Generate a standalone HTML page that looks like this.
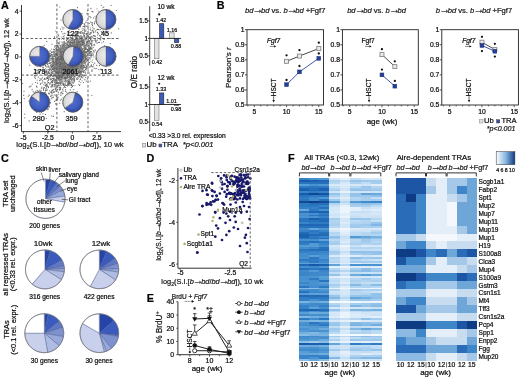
<!DOCTYPE html><html><head><meta charset="utf-8"><style>html,body{margin:0;padding:0;background:#fff;}svg{display:block;will-change:transform;}text{font-family:"Liberation Sans",sans-serif;stroke:#1a1a1a;stroke-width:0.22px;}</style></head><body>
<svg width="520" height="377" viewBox="0 0 520 377">
<rect width="520" height="377" fill="#fff"/>
<text x="0.90" y="8.60" font-size="10.8" font-weight="bold" fill="#000">A</text>
<path d="M69.6 67.9h0M62.7 65.7h0M67.4 61.9h0M72.2 58.0h0M67.6 56.2h0M47.0 69.3h0M67.2 83.1h0M68.0 53.4h0M80.8 54.0h0M58.1 65.8h0M66.5 62.0h0M79.9 63.6h0M72.8 69.5h0M74.6 78.9h0M81.8 77.0h0M66.1 74.3h0M53.7 69.1h0M59.4 58.4h0M62.6 71.6h0M66.5 54.1h0M68.1 59.3h0M72.9 60.2h0M66.2 57.2h0M68.2 77.1h0M62.7 45.8h0M71.1 55.4h0M74.7 61.2h0M62.9 62.9h0M66.1 69.7h0M78.9 41.9h0M56.9 63.4h0M68.5 68.5h0M66.1 60.5h0M73.3 61.5h0M69.2 59.9h0M76.5 57.0h0M68.4 48.6h0M74.5 64.3h0M64.4 69.2h0M76.3 57.2h0M67.4 55.6h0M73.1 49.9h0M67.9 61.1h0M90.8 27.9h0M64.6 54.9h0M63.7 48.4h0M63.3 66.2h0M74.2 54.9h0M50.2 55.8h0M69.7 65.7h0M63.5 48.7h0M82.7 61.6h0M58.3 42.6h0M55.5 100.1h0M61.7 61.1h0M52.6 95.1h0M73.9 63.8h0M63.0 63.0h0M86.7 56.5h0M60.7 83.9h0M61.1 67.5h0M67.2 65.3h0M68.2 54.6h0M60.4 55.8h0M52.8 80.4h0M63.5 63.8h0M64.7 52.3h0M56.5 49.1h0M58.6 65.1h0M61.2 58.7h0M74.1 50.3h0M74.7 44.1h0M77.7 57.7h0M86.1 67.5h0M34.5 110.6h0M66.1 70.1h0M78.5 60.8h0M61.4 65.7h0M71.5 71.2h0M75.2 57.7h0M65.1 55.4h0M53.1 97.7h0M90.5 52.8h0M65.8 59.1h0M61.0 58.5h0M80.9 37.1h0M72.5 61.8h0M72.1 61.9h0M73.7 56.3h0M75.4 71.3h0M65.6 64.5h0M73.6 55.0h0M60.7 55.3h0M58.8 78.3h0M68.1 50.3h0M69.1 50.1h0M47.4 56.0h0M69.6 62.6h0M81.3 52.5h0M62.6 59.6h0M73.8 66.9h0M74.4 50.1h0M72.4 53.1h0M77.7 48.8h0M64.7 65.9h0M73.4 54.5h0M68.8 62.5h0M71.9 64.4h0M68.8 51.7h0M47.0 72.8h0M57.2 58.2h0M72.5 56.7h0M88.2 48.3h0M59.3 68.9h0M64.1 57.0h0M77.8 68.4h0M53.4 49.4h0M57.5 63.3h0M78.9 56.9h0M67.8 60.7h0M74.1 67.1h0M66.4 66.5h0M73.8 51.3h0M87.4 51.8h0M69.3 46.9h0M69.8 50.2h0M79.2 47.0h0M71.2 63.6h0M75.3 73.4h0M57.6 51.3h0M73.3 65.9h0M76.1 50.4h0M67.2 66.8h0M84.0 54.1h0M71.0 53.6h0M65.2 64.5h0M79.0 32.7h0M60.5 53.4h0M84.9 47.4h0M65.1 67.2h0M51.6 49.1h0M62.4 60.9h0M68.7 65.1h0M86.2 61.9h0M67.2 64.5h0M76.1 56.7h0M74.7 61.7h0M69.3 46.0h0M67.1 70.3h0M69.8 62.7h0M73.4 53.3h0M52.9 63.3h0M73.0 64.1h0M63.3 70.4h0M72.2 54.1h0M65.1 64.8h0M71.6 47.8h0M73.7 57.0h0M61.4 64.0h0M67.9 60.5h0M65.8 65.7h0M74.9 47.4h0M70.8 60.9h0M66.2 72.8h0M64.9 47.4h0M88.2 66.1h0M66.7 54.8h0M65.6 64.7h0M77.0 59.2h0M71.4 55.7h0M71.2 52.5h0M73.3 46.1h0M61.3 59.8h0M70.6 64.5h0M89.8 54.9h0M76.9 53.8h0M70.2 54.4h0M69.2 57.9h0M63.0 48.2h0M58.3 67.4h0M49.7 63.4h0M72.4 51.9h0M61.9 52.5h0M70.4 72.1h0M81.4 63.2h0M72.5 56.9h0M72.9 54.1h0M54.8 50.9h0M69.6 51.4h0M69.9 73.5h0M73.6 63.3h0M69.1 49.0h0M61.3 92.8h0M69.4 57.6h0M51.3 69.2h0M68.0 51.1h0M57.0 46.3h0M58.1 64.7h0M69.4 64.5h0M78.2 69.0h0M80.1 47.1h0M72.4 57.7h0M59.0 67.8h0M81.2 60.2h0M73.5 68.9h0M67.4 70.7h0M81.1 44.9h0M66.7 64.8h0M79.8 54.8h0M65.9 64.0h0M55.0 74.9h0M74.1 51.0h0M54.0 64.0h0M65.7 55.8h0M65.5 45.3h0M77.1 61.1h0M69.0 64.3h0M54.5 52.9h0M56.7 68.3h0M69.7 54.5h0M59.2 67.7h0M66.6 71.2h0M60.3 60.1h0M81.9 45.6h0M77.8 61.1h0M77.6 58.2h0M65.5 70.0h0M67.3 62.4h0M69.7 80.4h0M92.5 60.0h0M77.0 41.9h0M58.5 45.9h0M71.7 73.3h0M73.2 48.2h0M56.7 76.0h0M75.6 66.0h0M73.2 56.2h0M82.8 60.7h0M59.8 68.8h0M71.8 45.9h0M55.5 68.0h0M75.6 50.2h0M63.1 54.4h0M66.6 59.5h0M43.2 68.9h0M62.1 59.9h0M75.0 53.7h0M78.6 56.1h0M74.1 53.3h0M69.7 66.0h0M88.0 56.7h0M64.1 54.1h0M81.8 44.5h0M71.4 71.3h0M73.4 46.4h0M71.0 55.7h0M68.2 66.3h0M69.4 58.1h0M70.6 55.4h0M75.7 60.6h0M62.1 55.5h0M74.8 57.9h0M64.3 57.7h0M61.2 78.8h0M83.4 66.0h0M61.9 77.0h0M70.7 68.4h0M69.8 55.3h0M87.3 53.5h0M70.9 59.8h0M78.8 53.6h0M70.4 56.0h0M44.1 73.3h0M75.3 56.6h0M72.3 67.5h0M74.5 65.9h0M74.4 80.3h0M66.8 49.0h0M62.0 78.6h0M60.0 57.1h0M70.0 54.7h0M79.2 47.1h0M68.0 54.5h0M72.4 74.8h0M71.4 53.2h0M60.3 57.6h0M62.5 51.5h0M85.2 51.9h0M77.1 62.5h0M57.5 51.2h0M65.2 57.5h0M62.2 52.8h0M61.0 76.8h0M73.7 59.8h0M72.4 68.9h0M62.1 49.7h0M79.6 62.6h0M76.2 62.4h0M60.0 61.7h0M60.1 61.1h0M65.3 60.8h0M61.7 47.5h0M51.0 58.3h0M55.1 60.6h0M55.4 80.3h0M66.1 63.5h0M55.7 73.3h0M52.5 65.5h0M65.7 80.6h0M57.6 62.5h0M73.5 52.9h0M74.2 65.6h0M61.8 78.3h0M59.8 71.4h0M59.5 63.2h0M86.4 68.7h0M74.4 68.0h0M68.8 49.1h0M69.3 66.3h0M69.8 60.9h0M75.0 62.3h0M58.1 84.9h0M73.5 43.4h0M67.5 34.3h0M65.3 49.5h0M99.7 22.7h0M73.4 58.3h0M64.4 54.8h0M70.9 45.0h0M77.8 33.0h0M69.0 49.4h0M73.5 60.7h0M77.1 54.3h0M61.2 71.5h0M48.5 79.8h0M64.5 81.6h0M57.5 61.8h0M73.2 83.6h0M58.8 76.2h0M59.3 55.8h0M70.7 49.5h0M58.2 71.0h0M64.8 70.7h0M63.7 67.2h0M84.6 36.7h0M71.6 65.8h0M54.9 62.4h0M55.7 54.1h0M74.9 55.4h0M88.2 59.2h0M57.1 65.1h0M55.5 64.6h0M63.4 63.8h0M67.3 67.4h0M50.2 62.4h0M66.9 61.3h0M68.5 61.4h0M64.4 68.0h0M63.4 60.6h0M70.2 59.5h0M73.4 53.8h0M78.6 49.4h0M64.8 57.6h0M67.9 59.6h0M54.2 61.0h0M74.7 71.1h0M67.7 50.7h0M70.0 70.7h0M62.4 62.3h0M57.7 61.2h0M62.9 52.3h0M65.5 49.9h0M64.3 77.7h0M66.0 54.5h0M75.2 64.3h0M62.1 45.3h0M70.4 52.2h0M56.3 69.5h0M55.1 49.6h0M55.6 67.3h0M72.6 46.1h0M64.0 62.4h0M81.0 61.6h0M60.5 67.0h0M79.8 59.6h0M67.8 61.3h0M84.9 37.7h0M70.6 61.3h0M72.2 60.4h0M51.2 75.7h0M75.9 41.8h0M61.1 63.3h0M74.7 50.4h0M36.0 76.0h0M72.6 54.7h0M71.0 43.8h0M62.9 59.7h0M66.3 57.7h0M72.7 61.4h0M74.8 60.3h0M67.1 61.3h0M84.1 46.2h0M77.8 58.8h0M71.0 76.0h0M64.5 61.0h0M84.7 45.9h0M85.3 58.2h0M68.2 64.9h0M67.0 53.1h0M91.2 53.2h0M69.9 47.5h0M65.3 66.4h0M81.1 43.5h0M78.6 73.0h0M79.8 47.8h0M78.0 63.9h0M88.9 57.7h0M74.1 56.0h0M64.8 65.9h0M65.9 60.2h0M69.1 40.6h0M88.2 37.2h0M68.5 53.5h0M66.5 52.9h0M69.8 71.1h0M60.8 69.6h0M73.9 71.3h0M60.9 71.6h0M73.3 62.1h0M80.0 68.3h0M81.2 54.8h0M81.3 45.6h0M59.3 70.1h0M67.9 47.0h0M81.1 53.7h0M71.5 62.9h0M86.8 52.5h0M56.6 67.4h0M62.3 42.8h0M62.0 80.3h0M56.8 99.0h0M74.7 63.7h0M62.5 46.4h0M76.6 66.6h0M66.6 62.3h0M67.9 61.4h0M70.1 56.9h0M63.3 59.6h0M71.9 48.2h0M72.6 68.7h0M46.0 74.7h0M75.2 65.0h0M73.1 59.7h0M73.4 66.4h0M72.5 60.6h0M69.2 46.5h0M57.4 71.0h0M71.7 65.1h0M61.9 68.9h0M80.7 46.5h0M60.7 66.0h0M78.5 47.3h0M83.9 50.4h0M76.2 55.1h0M65.9 58.2h0M75.1 46.7h0M70.1 41.4h0M85.3 56.4h0M63.6 52.1h0M74.0 49.5h0M62.2 46.2h0M68.0 70.5h0M63.3 57.3h0M62.0 65.2h0M62.9 46.4h0M67.1 65.3h0M82.0 55.0h0M86.4 51.5h0M72.5 55.9h0M79.3 46.4h0M61.4 58.7h0M59.5 59.0h0M68.5 69.4h0M68.2 77.4h0M79.5 44.4h0M77.4 57.1h0M65.4 64.6h0M58.0 62.2h0M76.3 49.5h0M66.5 74.9h0M68.3 59.9h0M69.7 43.4h0M62.2 69.2h0M61.3 64.5h0M82.5 59.6h0M75.9 55.4h0M67.4 44.6h0M79.0 48.3h0M62.4 57.3h0M61.9 63.7h0M49.6 70.2h0M62.9 61.6h0M73.7 43.5h0M70.4 44.4h0M45.6 73.7h0M71.4 53.9h0M64.1 57.9h0M72.9 43.6h0M76.4 60.6h0M75.5 49.9h0M78.9 57.0h0M68.6 63.1h0M66.3 53.2h0M75.2 61.3h0M78.7 51.1h0M81.5 59.6h0M79.0 70.2h0M52.4 93.1h0M71.5 72.7h0M64.3 66.4h0M81.6 57.5h0M70.1 48.7h0M77.4 65.9h0M70.7 53.8h0M58.3 72.1h0M58.7 60.2h0M68.9 63.6h0M70.2 48.8h0M61.2 66.6h0M70.5 62.4h0M73.6 62.5h0M68.4 55.7h0M88.8 38.8h0M59.5 85.2h0M69.9 48.4h0M70.9 58.3h0M75.3 61.7h0M80.6 48.7h0M69.4 44.0h0M65.1 72.7h0M91.8 30.7h0M87.7 41.5h0M74.2 55.8h0M65.9 58.7h0M57.6 51.8h0M87.8 51.1h0M60.1 61.9h0M61.8 58.3h0M73.0 52.2h0M55.8 56.0h0M71.1 61.6h0M68.0 65.7h0M89.8 51.0h0M76.6 65.0h0M71.4 52.2h0M71.2 53.2h0M71.7 75.3h0M52.1 89.7h0M73.3 65.8h0M74.9 55.9h0M61.0 57.7h0M72.3 68.2h0M72.0 60.1h0M77.5 47.6h0M50.2 53.5h0M78.2 56.8h0M78.5 61.9h0M62.9 60.3h0M63.4 56.3h0M66.5 53.6h0M55.9 73.9h0M62.9 68.7h0M74.4 68.6h0M64.5 59.1h0M70.8 56.6h0M63.5 72.0h0M75.7 68.2h0M67.3 67.7h0M75.6 60.2h0M62.2 64.5h0M78.5 53.0h0M82.8 37.6h0M58.3 58.9h0M46.6 77.7h0M62.2 60.6h0M69.0 58.0h0M60.6 59.0h0M61.4 60.9h0M65.2 72.6h0M68.7 64.2h0M69.4 49.4h0M68.2 53.8h0M63.4 66.2h0M63.4 65.0h0M81.5 52.8h0M76.8 55.8h0M59.7 81.4h0M57.2 55.3h0M77.1 48.1h0M66.4 52.6h0M81.7 39.3h0M67.3 58.1h0M69.8 60.8h0M72.5 42.8h0M67.5 56.3h0M49.2 51.0h0M65.6 61.6h0M63.0 59.4h0M59.4 80.4h0M70.6 59.5h0M68.2 54.4h0M75.8 69.4h0M88.8 52.7h0M74.4 53.8h0M44.5 93.4h0M90.3 57.9h0M62.7 70.8h0M68.3 48.7h0M66.7 61.1h0M69.2 70.1h0M68.8 67.8h0M62.1 63.8h0M58.1 83.8h0M81.0 58.8h0M75.1 66.5h0M72.0 56.2h0M61.3 61.3h0M60.9 69.9h0M61.8 65.5h0M64.5 67.3h0M75.0 63.5h0M86.3 38.4h0M65.0 70.8h0M71.9 60.2h0M73.9 71.3h0M65.9 61.6h0M46.4 72.2h0M63.4 52.8h0M58.7 76.3h0M70.2 61.0h0M77.4 68.3h0M68.0 66.3h0M67.6 48.3h0M53.7 51.0h0M94.5 40.1h0M76.0 56.7h0M67.3 72.8h0M76.4 54.7h0M61.5 62.9h0M62.6 63.7h0M88.8 36.2h0M72.5 55.4h0M62.9 57.1h0M76.0 58.6h0M67.8 50.7h0M73.3 72.2h0M52.2 58.6h0M57.8 43.5h0M71.3 58.5h0M55.2 60.5h0M77.3 49.3h0M72.4 56.6h0M62.0 69.1h0M71.7 52.0h0M72.0 60.1h0M82.1 41.6h0M64.5 52.8h0M71.8 53.3h0M55.8 66.6h0M73.3 48.3h0M73.6 63.6h0M82.2 80.7h0M78.8 72.9h0M83.4 56.1h0M83.8 65.3h0M59.2 48.5h0M65.8 33.7h0M81.7 44.8h0M66.1 58.3h0M65.7 59.5h0M70.2 58.0h0M62.3 50.5h0M65.0 65.1h0M75.8 74.4h0M66.3 64.1h0M80.8 61.4h0M61.5 55.3h0M69.0 46.4h0M75.1 60.7h0M77.1 53.2h0M62.2 64.9h0M58.2 59.1h0M68.3 46.9h0M68.8 68.3h0M97.8 56.6h0M50.8 66.4h0M61.2 62.6h0M71.0 55.8h0M58.8 61.0h0M80.7 66.4h0M62.7 57.4h0M57.0 63.8h0M58.9 62.1h0M59.2 76.5h0M65.8 65.5h0M75.6 45.3h0M57.4 71.6h0M86.0 56.8h0M68.8 57.6h0M64.3 46.2h0M75.1 59.7h0M69.2 76.6h0M67.5 63.5h0M77.1 48.8h0M49.5 90.7h0M62.0 59.6h0M75.2 63.8h0M69.0 61.6h0M66.4 61.6h0M63.4 57.6h0M80.9 67.8h0M53.0 62.6h0M62.4 78.8h0M69.2 62.5h0M70.3 72.9h0M60.2 84.6h0M98.4 59.1h0M61.9 59.8h0M64.8 54.5h0M43.5 95.7h0M59.3 66.1h0M69.4 49.6h0M72.6 47.5h0M59.9 50.9h0M72.7 62.0h0M86.0 47.9h0M79.9 51.9h0M78.3 56.3h0M85.8 39.0h0M73.8 64.4h0M70.8 46.5h0M68.4 62.7h0M73.8 34.5h0M72.5 59.3h0M68.3 70.5h0M55.6 71.6h0M71.3 49.2h0M73.2 68.6h0M62.5 64.3h0M62.8 77.0h0M65.4 72.0h0M70.3 55.2h0M89.0 57.6h0M71.5 67.6h0M70.2 54.2h0M66.7 72.4h0M70.7 47.1h0M80.0 52.0h0M67.0 53.7h0M61.6 65.1h0M86.6 59.2h0M68.9 62.2h0M63.4 61.4h0M63.2 62.0h0M63.8 65.3h0M66.1 62.5h0M80.7 76.8h0M71.1 56.1h0M66.4 60.1h0M62.1 73.7h0M65.2 54.9h0M65.8 62.7h0M65.2 50.2h0M76.9 52.7h0M65.1 60.6h0M67.6 74.5h0M87.7 61.1h0M69.2 40.3h0M74.7 58.7h0M62.5 69.1h0M66.1 65.6h0M63.6 66.7h0M68.3 65.7h0M82.3 66.2h0M57.0 77.9h0M60.9 61.7h0M70.4 61.3h0M79.1 54.8h0M44.5 78.8h0M70.8 75.8h0M67.5 68.7h0M81.3 68.9h0M70.1 64.3h0M83.6 40.5h0M60.5 53.5h0M42.8 75.5h0M62.5 57.3h0M84.2 35.9h0M77.6 77.2h0M65.8 54.2h0M77.2 62.2h0M74.4 44.4h0M89.3 45.2h0M42.4 80.4h0M68.1 61.4h0M67.7 50.8h0M65.7 67.4h0M69.5 77.6h0M70.9 62.7h0M81.2 56.8h0M67.1 55.4h0M72.4 52.3h0M52.1 80.9h0M69.3 53.8h0M62.6 74.9h0M69.9 63.4h0M67.7 50.3h0M85.3 25.5h0M65.7 82.3h0M57.9 54.2h0M71.4 53.0h0M66.7 61.3h0M60.3 53.7h0M65.9 54.9h0M58.0 56.1h0M70.1 64.2h0M71.1 51.9h0M70.2 62.3h0M75.5 61.7h0M75.2 57.9h0M68.7 81.6h0M86.6 61.3h0M69.1 42.6h0M85.3 54.7h0M48.4 80.3h0M68.2 81.2h0M75.4 68.6h0M72.6 78.8h0M72.3 60.4h0M60.2 53.0h0M67.2 56.7h0M63.3 56.2h0M65.5 53.8h0M71.7 46.4h0M52.1 59.0h0M69.8 62.8h0M67.7 71.1h0M70.4 37.3h0M55.6 61.0h0M52.5 61.3h0M58.2 57.3h0M71.6 61.2h0M66.7 54.2h0M66.2 51.3h0M67.0 53.2h0M64.6 60.9h0M80.1 50.1h0M68.3 58.0h0M78.6 64.6h0M72.4 69.6h0M65.7 64.6h0M63.1 67.4h0M54.9 65.5h0M66.4 72.0h0M59.2 43.0h0M72.8 54.9h0M65.8 67.5h0M68.2 66.9h0M61.2 55.4h0M80.6 63.0h0M58.1 54.9h0M62.7 61.3h0M70.1 62.0h0M72.8 58.5h0M76.6 39.3h0M67.4 56.2h0M60.3 65.8h0M64.7 73.6h0M62.3 46.8h0M75.7 52.0h0M66.5 62.3h0M50.3 68.2h0M63.5 60.8h0M70.1 51.7h0M65.0 61.9h0M65.8 67.3h0M90.3 51.8h0M55.7 62.4h0M107.2 32.8h0M50.9 62.7h0M71.4 60.1h0M75.8 47.6h0M68.5 54.5h0M68.0 49.2h0M55.0 66.2h0M77.9 53.4h0M68.4 63.0h0M67.9 43.1h0M80.7 57.0h0M62.6 65.2h0M52.2 54.4h0M66.7 73.5h0M30.5 86.5h0M62.3 67.3h0M65.3 47.9h0M54.0 58.0h0M64.5 73.0h0M72.7 66.0h0M77.7 47.7h0M75.2 64.6h0M63.7 52.2h0M68.2 50.5h0M51.7 75.5h0M57.3 72.6h0M49.2 56.0h0M58.7 52.8h0M70.6 62.4h0M51.9 67.0h0M71.7 58.2h0M69.6 64.5h0M38.1 103.8h0M65.7 56.7h0M72.9 74.6h0M62.7 59.6h0M85.4 63.3h0M52.3 66.4h0M67.0 74.3h0M71.5 61.2h0M70.6 73.0h0M65.5 55.4h0M66.0 63.1h0M65.5 54.8h0M65.1 56.3h0M75.8 63.0h0M54.1 67.7h0M53.9 59.7h0M75.9 53.3h0M63.1 72.8h0M78.2 57.4h0M76.1 63.9h0M78.9 51.7h0M72.4 49.3h0M81.3 62.9h0M76.6 22.8h0M72.6 49.9h0M84.7 61.0h0M62.9 73.1h0M66.0 67.2h0M61.5 59.9h0M74.5 51.3h0M81.9 44.3h0M77.5 62.7h0M56.5 52.0h0M69.6 54.6h0M52.0 67.1h0M70.9 60.8h0M77.6 43.9h0M74.1 50.8h0M50.1 83.5h0M76.1 49.7h0M72.1 67.3h0M67.3 59.9h0M83.9 60.1h0M62.6 63.2h0M57.5 67.8h0M75.0 57.5h0M53.0 68.5h0M73.8 60.9h0M81.7 72.7h0M84.6 48.0h0M74.0 54.5h0M77.2 43.9h0M66.1 63.4h0M71.5 54.7h0M69.9 49.0h0M63.2 58.7h0M65.8 78.9h0M61.6 53.9h0M55.0 58.9h0M98.3 56.2h0M63.1 81.2h0M79.7 66.0h0M55.5 59.8h0M73.8 62.2h0M72.6 56.7h0M68.3 63.5h0M72.8 49.1h0M61.2 57.6h0M66.9 64.1h0M81.7 63.2h0M79.9 67.5h0M70.1 39.6h0M71.4 59.1h0M63.6 57.3h0M76.5 51.2h0M71.4 55.5h0M63.6 65.7h0M65.5 66.0h0M73.6 57.6h0M56.6 63.0h0M61.9 50.0h0M66.7 61.6h0M58.2 61.6h0M61.5 48.5h0M65.8 55.5h0M58.8 59.8h0M78.9 62.2h0M63.0 61.1h0M60.0 81.6h0M64.2 57.7h0M55.8 64.2h0M69.6 54.3h0M62.8 59.9h0M75.5 45.6h0M74.3 71.2h0M65.6 61.2h0M68.7 50.8h0M81.3 53.4h0M68.7 74.8h0M66.6 57.4h0M68.8 69.6h0M63.4 59.7h0M51.9 87.2h0M65.5 61.3h0M62.5 61.0h0M79.2 43.2h0M63.4 71.1h0M76.7 56.1h0M70.3 57.4h0M66.1 57.2h0M75.7 54.5h0M67.5 55.4h0M63.2 54.6h0M62.1 63.7h0M57.6 55.3h0M87.9 64.3h0M65.9 53.7h0M84.8 58.7h0M81.9 61.0h0M71.0 39.1h0M65.8 45.5h0M69.9 67.9h0M69.1 64.0h0M67.5 52.5h0M69.7 54.1h0M73.4 74.0h0M70.3 35.0h0M88.4 41.5h0M68.5 54.3h0M71.8 62.1h0M80.2 48.6h0M74.2 56.5h0M46.6 96.9h0M68.4 49.2h0M52.0 71.5h0M63.6 59.8h0M63.0 97.7h0M71.0 56.0h0M65.1 73.4h0M75.2 61.8h0M65.9 57.1h0M61.0 70.7h0M97.0 8.8h0M45.9 83.7h0M70.4 54.2h0M66.2 71.5h0M74.4 65.1h0M67.2 63.5h0M68.4 81.9h0M76.0 65.7h0M51.8 66.6h0M85.9 47.1h0M73.0 72.9h0M73.4 61.2h0M62.2 61.9h0M71.9 61.3h0M72.9 68.3h0M52.5 84.8h0M78.9 62.6h0M68.1 67.9h0M71.4 72.1h0M88.1 53.9h0M92.9 30.3h0M50.9 63.7h0M66.0 68.4h0M57.3 65.5h0M72.8 49.5h0M68.1 58.5h0M63.6 69.0h0M72.5 49.0h0M76.6 43.0h0M71.0 67.7h0M65.4 55.3h0M63.6 64.7h0M68.2 54.0h0M72.8 60.8h0M71.3 61.2h0M86.7 51.6h0M87.2 60.1h0M70.2 57.8h0M73.8 58.5h0M72.2 82.4h0M68.7 66.4h0M103.8 6.9h0M73.4 60.6h0M67.8 57.8h0M67.0 59.7h0M65.5 50.2h0M68.9 48.7h0M65.0 62.8h0M69.0 72.8h0M65.1 46.1h0M79.0 47.4h0M62.0 62.1h0M65.0 24.9h0M65.9 55.3h0M87.7 54.8h0M80.5 72.6h0M72.9 45.8h0M82.4 53.4h0M85.3 49.4h0M62.5 60.3h0M61.9 76.3h0M72.7 50.7h0M64.9 58.0h0M83.3 40.6h0M61.2 61.3h0M69.5 56.9h0M79.9 48.7h0M57.8 55.1h0M70.6 54.6h0M67.3 56.5h0M64.1 66.5h0M77.8 42.0h0M56.2 72.0h0M65.7 56.2h0M83.5 56.0h0M68.3 65.1h0M64.1 69.2h0M85.6 60.1h0M79.5 37.1h0M49.0 70.5h0M63.0 64.8h0M72.7 61.2h0M70.6 71.0h0M71.3 57.9h0M77.6 62.8h0M86.5 36.5h0M73.5 69.0h0M61.6 82.9h0M68.5 58.8h0M83.6 61.8h0M67.3 73.1h0M61.6 39.1h0M64.1 56.6h0M84.3 55.9h0M71.6 77.3h0M73.7 59.4h0M55.1 66.7h0M59.7 72.5h0M67.1 70.6h0M76.5 54.6h0M64.0 56.5h0M77.9 56.0h0M73.1 72.9h0M53.6 61.5h0M52.1 82.4h0M71.9 60.4h0M72.6 62.5h0M71.4 60.1h0M66.4 48.7h0M66.7 60.5h0M72.9 55.0h0M69.1 71.1h0M67.7 72.9h0M73.4 58.1h0M80.3 43.3h0M62.6 68.3h0M54.8 64.5h0M79.0 38.4h0M78.3 58.8h0M57.3 59.3h0M76.1 57.8h0M56.7 66.4h0M58.7 61.3h0M73.9 51.7h0M94.7 51.9h0M69.2 72.4h0M63.8 64.2h0M64.7 66.9h0M61.3 69.2h0M74.9 66.0h0M66.4 72.5h0M63.2 53.0h0M71.5 49.9h0M61.4 72.4h0M65.8 67.7h0M65.6 85.0h0M56.6 62.1h0M75.9 55.3h0M66.2 55.2h0M69.0 67.1h0M66.1 68.7h0M71.8 55.0h0M79.7 80.0h0M65.6 43.4h0M82.0 62.8h0M86.4 55.2h0M68.0 71.4h0M75.1 53.5h0M81.0 46.0h0M58.2 58.6h0M82.7 44.4h0M78.5 63.1h0M69.8 62.0h0M57.5 63.2h0M74.6 58.6h0M92.5 53.0h0M70.3 51.7h0M78.0 68.4h0M70.6 57.5h0M55.5 74.5h0M78.4 68.3h0M73.3 54.4h0M69.5 60.2h0M76.5 56.5h0M74.3 52.4h0M57.7 76.6h0M68.7 52.2h0M58.7 63.1h0M88.2 50.2h0M84.0 51.6h0M69.7 71.9h0M64.7 81.3h0M65.8 68.5h0M64.6 50.8h0M67.4 59.1h0M66.2 65.2h0M56.6 61.3h0M65.0 60.7h0M78.4 60.7h0M65.1 63.6h0M64.7 61.3h0M59.4 59.9h0M62.6 52.5h0M60.0 80.1h0M63.4 55.6h0M88.4 29.9h0M75.9 47.3h0M81.5 45.9h0M68.3 45.7h0M69.5 61.8h0M74.4 56.2h0M75.6 59.9h0M64.0 74.9h0M82.7 30.5h0M91.8 44.3h0M53.1 65.1h0M87.6 64.7h0M57.4 52.0h0M61.5 58.2h0M86.3 67.3h0M62.2 68.1h0M57.5 51.5h0M67.6 70.3h0M74.6 46.4h0M66.2 55.1h0M67.5 56.9h0M59.7 61.6h0M63.7 62.9h0M78.8 47.2h0M68.6 47.9h0M62.0 64.8h0M72.5 60.7h0M65.7 63.9h0M68.2 51.9h0M79.1 61.5h0M63.5 69.7h0M58.5 73.5h0M70.6 54.4h0M63.9 52.1h0M81.1 65.1h0M65.2 57.1h0M61.2 61.7h0M88.9 43.0h0M57.6 68.8h0M64.5 44.6h0M71.5 61.9h0M78.0 55.5h0M73.5 67.2h0M61.7 50.2h0M69.9 60.4h0M71.4 51.6h0M93.0 40.8h0M66.2 64.9h0M64.0 70.6h0M54.7 70.3h0M66.8 64.2h0M57.6 55.6h0M49.8 69.5h0M65.3 68.9h0M69.0 67.8h0M67.1 53.3h0M67.8 55.7h0M70.9 57.2h0M78.4 58.3h0M68.0 64.7h0M79.5 77.0h0M70.8 78.1h0M64.3 56.2h0M83.7 45.7h0M64.2 74.2h0M78.7 59.5h0M74.8 42.1h0M61.5 65.2h0M62.3 78.5h0M56.8 66.1h0M70.0 55.9h0M67.6 59.4h0M78.1 57.9h0M74.7 59.6h0M76.3 54.7h0M84.0 57.6h0M74.2 65.1h0M60.7 83.1h0M84.4 46.8h0M64.4 57.2h0M77.2 61.5h0M62.5 63.3h0M73.3 60.4h0M60.2 71.3h0M65.9 77.9h0M63.4 66.3h0M76.9 66.8h0M62.9 72.7h0M65.8 59.9h0M56.8 60.9h0M88.2 64.0h0M60.8 61.7h0M61.4 75.3h0M63.9 44.6h0M63.8 53.1h0M64.2 59.7h0M63.9 63.2h0M77.1 55.5h0M69.9 48.8h0M74.4 65.3h0M66.5 68.2h0M67.9 52.2h0M71.7 54.2h0M64.8 65.3h0M71.3 52.9h0M68.7 54.4h0M74.5 65.2h0M75.5 76.8h0M65.5 52.5h0M64.0 55.7h0M54.4 64.0h0M52.8 57.5h0M78.4 58.4h0M80.0 32.1h0M62.9 51.1h0M71.6 55.1h0M68.9 61.1h0M65.4 81.1h0M70.1 42.5h0M75.3 61.9h0M66.1 74.5h0M75.6 62.0h0M71.6 58.8h0M69.0 47.1h0M74.8 53.3h0M66.5 60.7h0M69.5 69.6h0M77.0 65.8h0M75.3 70.8h0M49.2 76.2h0M71.8 56.4h0M51.4 54.4h0M75.4 74.6h0M75.3 63.9h0M60.7 57.6h0M56.9 45.9h0M63.1 66.6h0M68.3 54.4h0M57.0 47.0h0M84.2 60.2h0M53.1 72.7h0M70.6 64.3h0M74.2 70.5h0M87.1 50.7h0M93.3 50.4h0M74.1 44.8h0M93.2 28.9h0M63.1 63.8h0M81.0 68.1h0M60.6 50.3h0M67.0 55.9h0M72.6 76.2h0M81.6 52.6h0M65.7 59.9h0M52.9 59.7h0M68.2 62.1h0M59.0 69.6h0M68.9 67.0h0M64.6 57.2h0M57.1 82.8h0M72.4 61.2h0M65.9 56.9h0M74.8 51.5h0M64.4 43.9h0M62.4 60.7h0M73.9 66.1h0M57.3 80.0h0M69.9 75.5h0M62.4 54.8h0M88.3 60.7h0M72.2 54.5h0M73.3 48.2h0M73.6 56.9h0M67.6 67.9h0M90.4 56.1h0M61.8 66.1h0M72.9 68.2h0M74.9 50.1h0M73.2 56.9h0M59.0 47.7h0M65.7 52.4h0M67.1 61.8h0M56.9 59.5h0M72.3 44.3h0M86.6 45.3h0M76.9 53.4h0M60.0 54.6h0M66.8 66.0h0M85.3 58.0h0M61.0 61.4h0M65.3 60.5h0M81.7 66.9h0M71.2 68.4h0M59.3 39.6h0M70.6 58.7h0M55.6 74.7h0M83.0 61.4h0M62.3 54.5h0M66.8 55.1h0M79.3 60.5h0M64.6 57.7h0M69.9 63.5h0M60.3 55.4h0M64.7 59.2h0M77.3 54.3h0M74.3 53.9h0M80.9 47.7h0M81.6 45.4h0M72.5 61.3h0M74.1 58.6h0M60.7 64.6h0M46.6 86.7h0M77.1 39.3h0M65.0 67.0h0M69.2 48.5h0M73.4 42.3h0M64.3 58.4h0M69.2 50.8h0M76.2 50.4h0M71.6 62.8h0M60.9 70.2h0M53.0 64.0h0M82.0 62.4h0M71.2 52.4h0M71.7 51.8h0M60.8 53.9h0M73.9 70.7h0M66.2 78.1h0M68.1 52.4h0M76.3 52.6h0M67.2 47.9h0M82.5 44.8h0M54.6 66.3h0M83.5 45.8h0M64.7 57.2h0M74.3 43.0h0M74.8 52.6h0M65.6 47.5h0M60.8 58.5h0M84.6 54.4h0M68.6 51.4h0M72.9 46.2h0M72.5 54.8h0M71.4 66.4h0M63.5 55.7h0M50.5 78.8h0M74.5 58.5h0M56.6 63.1h0M57.3 76.7h0M77.5 58.2h0M65.9 70.8h0M68.6 68.9h0M70.9 56.6h0M62.1 56.8h0M61.5 63.4h0M74.2 66.7h0M98.1 33.5h0M70.3 54.2h0M81.5 42.0h0M73.6 59.0h0M66.5 47.6h0M75.9 34.1h0M79.5 55.7h0M85.6 73.3h0M76.0 61.6h0M70.1 74.0h0M75.1 49.0h0M69.5 62.0h0M64.6 63.1h0M49.5 69.3h0M76.8 66.3h0M66.2 56.6h0M63.0 78.3h0M73.0 60.9h0M64.2 79.1h0M82.3 40.7h0M69.0 74.3h0M64.7 64.3h0M71.2 72.6h0M77.6 48.8h0M74.8 56.4h0M65.2 50.9h0M74.0 63.7h0M69.1 47.8h0M73.1 56.6h0M53.9 76.6h0M63.6 55.8h0M77.5 48.3h0M70.9 63.0h0M72.8 64.7h0M72.2 55.8h0M70.1 65.1h0M70.8 53.6h0M56.2 65.0h0M84.7 62.0h0M76.4 58.2h0M66.0 65.9h0M71.0 63.5h0M66.5 56.9h0M66.5 47.9h0M55.4 57.6h0M80.7 59.5h0M73.8 59.1h0M79.3 54.8h0M55.1 74.6h0M75.2 58.2h0M68.6 52.7h0M60.3 46.9h0M91.1 51.7h0M65.8 53.7h0M71.3 72.2h0M71.3 42.2h0M65.6 54.4h0M88.3 64.6h0M67.1 49.5h0M60.8 68.3h0M86.5 51.8h0M51.6 56.1h0M78.2 49.5h0M57.9 70.6h0M40.9 92.9h0M61.8 51.1h0M59.2 56.9h0M73.0 43.1h0M53.1 73.4h0M57.8 59.0h0M68.8 81.5h0M76.5 49.4h0M73.8 57.2h0M71.4 65.6h0M65.4 68.6h0M56.4 53.6h0M76.4 58.2h0M73.9 62.2h0M71.5 60.9h0M74.3 69.8h0M61.9 57.0h0M71.1 60.8h0M70.5 41.3h0M69.9 59.7h0M71.3 70.6h0M71.3 66.3h0M82.6 38.6h0M70.2 56.1h0M76.1 66.5h0M71.7 49.3h0M65.0 80.4h0M70.1 70.8h0M58.5 56.4h0M71.7 54.6h0M71.7 49.6h0M69.6 49.5h0M69.7 51.9h0M60.3 67.8h0M71.1 50.9h0M67.1 71.4h0M74.3 54.0h0M69.2 61.6h0M72.9 61.5h0M71.3 66.3h0M81.6 57.2h0M66.3 55.9h0M92.0 45.6h0M59.8 75.7h0M67.2 66.2h0M62.6 64.6h0M55.8 62.7h0M40.4 54.1h0M78.0 52.3h0M68.6 60.0h0M76.0 53.6h0M60.1 69.0h0M69.3 72.6h0M78.6 68.8h0M67.5 62.0h0M54.5 64.9h0M65.9 53.0h0M62.0 61.4h0M71.3 49.6h0M71.0 67.1h0M92.5 25.2h0M61.0 49.1h0M59.7 72.2h0M73.2 54.0h0M76.7 54.6h0M64.1 55.2h0M67.4 71.0h0M75.8 57.1h0M77.6 64.4h0M70.5 54.8h0M67.0 62.4h0M56.4 69.3h0M64.5 54.3h0M77.2 46.4h0M78.8 54.8h0M76.1 52.3h0M74.6 64.8h0M73.3 54.5h0M72.0 67.5h0M68.6 60.6h0M70.0 50.6h0M62.4 45.0h0M62.0 69.2h0M61.2 62.1h0M81.9 52.6h0M77.4 69.4h0M67.2 68.1h0M43.6 90.4h0M65.0 63.7h0M72.2 59.7h0M69.2 47.7h0M79.4 61.8h0M73.8 54.8h0M63.3 65.0h0M59.5 64.5h0M72.1 51.7h0M95.0 16.3h0M61.0 65.0h0M78.6 47.0h0M66.0 67.8h0M63.8 69.8h0M78.1 56.6h0M77.5 60.6h0M62.4 68.8h0M71.8 58.3h0M72.4 53.6h0M72.9 72.5h0M68.6 59.3h0M75.9 62.3h0M68.7 81.8h0M66.5 53.4h0M77.5 45.2h0M81.2 52.2h0M75.4 60.9h0M71.3 56.2h0M67.3 57.5h0M61.8 47.4h0M69.5 50.4h0M78.4 59.3h0M88.0 55.4h0M70.5 53.3h0M67.0 63.8h0M76.8 41.1h0M64.5 64.3h0M73.3 60.9h0M59.4 66.7h0M84.8 53.7h0M74.7 35.5h0M68.7 69.2h0M55.5 50.9h0M67.3 64.3h0M58.4 71.7h0M83.2 76.6h0M74.3 49.1h0M71.9 57.6h0M68.3 82.5h0M68.1 58.5h0M65.9 63.1h0M72.8 59.0h0M77.2 44.1h0M64.3 47.5h0M76.1 50.1h0M73.8 60.0h0M53.1 63.9h0M84.5 41.5h0M80.0 70.3h0M62.9 44.5h0M69.0 59.6h0M53.6 67.8h0M78.8 54.9h0M68.8 84.1h0M79.4 66.5h0M64.1 61.2h0M70.5 74.4h0M63.0 67.8h0M67.5 47.8h0M76.3 64.5h0M81.6 63.1h0M71.1 53.7h0M68.9 74.9h0M74.5 57.9h0M82.5 45.6h0M64.0 69.6h0M55.1 85.0h0M74.1 53.3h0M58.7 64.3h0M72.7 45.7h0M83.6 44.4h0M59.6 60.5h0M59.0 80.2h0M72.7 39.9h0M61.9 74.7h0M95.2 49.7h0M52.6 64.7h0M64.2 62.7h0M78.0 59.3h0M72.1 50.2h0M50.7 78.5h0M74.4 69.2h0M83.5 56.1h0M82.9 74.5h0M64.6 55.3h0M46.1 94.1h0M59.4 57.6h0M59.4 59.8h0M65.1 59.0h0M70.2 46.6h0M60.7 57.0h0M67.5 61.1h0M61.5 63.7h0M66.2 48.2h0M58.0 50.8h0M67.7 68.0h0M72.4 43.3h0M54.9 71.6h0M69.2 73.9h0M64.9 65.6h0M71.5 37.5h0M66.2 63.2h0M63.7 55.2h0M103.2 30.9h0M63.9 74.3h0M67.3 42.6h0M79.6 62.6h0M57.1 68.2h0M78.8 41.2h0M76.0 60.8h0M66.8 46.0h0M70.8 57.4h0M59.9 63.3h0M74.9 50.0h0M66.5 64.3h0M58.9 72.5h0M85.9 48.1h0M70.3 56.3h0M65.9 70.3h0M81.0 74.3h0M79.2 58.1h0M66.4 60.3h0M70.9 52.9h0M73.0 68.7h0M56.5 64.1h0M68.0 63.6h0M74.1 59.5h0M73.9 62.8h0M84.0 54.3h0M57.3 64.1h0M69.7 71.8h0M58.8 48.9h0M69.7 69.9h0M68.5 58.3h0M84.0 36.8h0M60.4 62.3h0M79.1 59.0h0M89.2 49.7h0M71.4 50.4h0M78.4 70.6h0M58.8 60.9h0M81.0 50.8h0M66.8 55.2h0M75.8 72.0h0M66.9 60.4h0M60.6 57.1h0M58.8 78.7h0M60.3 67.6h0M88.7 40.6h0M70.5 66.4h0M73.8 43.9h0M58.9 63.8h0M79.6 50.0h0M67.6 60.9h0M82.8 56.5h0M81.0 43.4h0M90.7 33.8h0M76.1 63.0h0M59.2 69.0h0M75.4 69.6h0M69.0 42.6h0M68.9 57.9h0M64.4 68.6h0M69.0 54.0h0M60.2 53.0h0M60.0 71.7h0M66.8 73.0h0M69.7 63.6h0M41.4 90.2h0M59.8 51.5h0M68.2 54.8h0M59.5 70.9h0M76.9 73.2h0M67.1 66.9h0M83.9 42.5h0M51.6 74.2h0M74.0 56.7h0M67.0 50.5h0M75.2 66.5h0M77.1 74.6h0M77.8 65.0h0M60.2 69.5h0M70.8 48.4h0M86.7 58.9h0M66.8 68.1h0M75.9 67.9h0M55.9 81.5h0M67.7 55.5h0M64.0 37.2h0M71.8 61.1h0M68.3 59.5h0M69.8 63.1h0M70.3 74.3h0M76.7 44.6h0M78.5 35.4h0M65.1 63.9h0M74.6 60.4h0M72.5 73.4h0M59.9 55.8h0M75.7 70.9h0M52.2 69.6h0M56.7 79.9h0M63.7 66.8h0M72.9 63.3h0M65.0 56.4h0M97.8 24.6h0M54.1 78.8h0M70.9 48.1h0M62.4 45.2h0M83.2 51.3h0M65.7 47.9h0M66.4 71.8h0M58.0 58.1h0M57.9 66.6h0M61.1 82.0h0M67.4 63.2h0M58.7 68.6h0M73.4 54.5h0M61.4 62.4h0M57.3 66.3h0M76.9 56.2h0M70.8 58.0h0M85.9 57.0h0M58.3 52.1h0M42.0 86.8h0M68.5 82.9h0M72.0 53.0h0M58.1 57.9h0M77.3 54.4h0M60.4 64.5h0M72.8 64.7h0M70.4 62.5h0M68.0 61.3h0M62.5 71.9h0M76.2 58.2h0M76.5 72.0h0M86.2 46.1h0M71.7 45.8h0M80.3 55.0h0M57.2 59.6h0M58.5 57.8h0M73.8 40.6h0M75.0 66.8h0M78.8 60.7h0M59.4 66.9h0M53.2 59.1h0M61.9 51.0h0M73.9 64.3h0M62.0 92.0h0M83.6 58.4h0M71.8 45.5h0M69.1 61.0h0M70.3 64.7h0M80.7 57.7h0M78.3 66.6h0M71.9 68.5h0M79.4 42.9h0M74.7 55.6h0M74.0 52.9h0M65.2 57.2h0M77.5 52.6h0M73.4 60.0h0M65.3 54.2h0M85.4 49.4h0M65.3 56.6h0M88.2 63.8h0M68.1 58.3h0M77.2 52.3h0M71.4 67.6h0M62.1 75.8h0M48.1 86.4h0M92.2 55.3h0M61.6 60.4h0M55.2 62.0h0M58.7 65.5h0M71.7 53.9h0M59.0 62.4h0M58.7 85.7h0M58.8 72.3h0M70.1 40.1h0M73.0 61.4h0M51.2 72.6h0M68.9 60.0h0M75.9 53.0h0M73.6 67.8h0M77.9 55.9h0M70.7 57.7h0M68.0 56.1h0M75.6 64.0h0M69.3 70.7h0M63.5 84.9h0M69.2 73.2h0M67.6 60.4h0M80.1 58.7h0M62.7 76.3h0M62.1 48.9h0M81.6 50.6h0M64.9 59.1h0M60.6 59.3h0M66.9 64.1h0M68.4 79.3h0M77.0 65.4h0M68.8 57.4h0M77.3 45.4h0M83.8 60.1h0M65.2 63.6h0M69.1 64.5h0M78.9 53.1h0M83.1 43.1h0M63.9 67.9h0M70.9 69.6h0M66.2 51.0h0M68.0 56.1h0M79.6 47.3h0M77.2 41.1h0M85.1 60.7h0M79.4 56.1h0M69.4 58.4h0M76.0 73.3h0M69.2 56.6h0M72.5 61.5h0M60.5 55.0h0M72.1 54.7h0M81.3 59.2h0M55.5 76.0h0M77.1 53.7h0M78.1 44.4h0M76.9 45.9h0M86.9 53.2h0M54.1 68.1h0M79.3 57.5h0M80.2 69.2h0M57.8 51.9h0M65.4 68.7h0M58.7 48.1h0M64.0 58.2h0M55.8 57.8h0M77.3 48.3h0M58.1 50.5h0M70.5 50.9h0M67.9 71.8h0M58.1 61.3h0M71.8 58.2h0M63.9 66.0h0M51.9 57.6h0M58.9 36.7h0M58.1 71.3h0M51.6 79.4h0M56.0 64.7h0M52.3 57.6h0M54.0 78.1h0M73.3 69.8h0M78.5 49.6h0M96.8 40.8h0M68.1 62.0h0M72.3 71.0h0M64.2 67.5h0M84.0 48.9h0M55.6 48.5h0M69.9 51.0h0M68.4 49.8h0M63.9 67.0h0M58.4 57.7h0M81.2 72.5h0M74.7 68.2h0M78.0 36.5h0M73.1 62.0h0M70.7 59.0h0M70.9 63.7h0M80.4 43.7h0M56.4 56.8h0M61.3 62.0h0M59.8 41.9h0M92.1 70.5h0M60.9 75.6h0M73.2 49.9h0M75.9 51.4h0M86.1 37.3h0M69.4 58.5h0M53.1 73.5h0M73.2 73.0h0M73.9 45.5h0M69.9 69.2h0M89.7 42.3h0M65.2 57.4h0M62.1 68.5h0M72.8 50.8h0M51.0 73.9h0M41.9 63.2h0M86.9 37.2h0M68.6 84.8h0M56.3 53.6h0M67.2 68.1h0M66.2 76.5h0M83.1 40.2h0M69.1 69.8h0M63.8 60.7h0M70.7 70.5h0M63.0 65.1h0M55.5 69.8h0M69.8 48.6h0M60.2 63.6h0M68.7 54.4h0M70.6 61.3h0M75.5 60.5h0M56.7 66.6h0M86.8 42.7h0M79.3 51.8h0M72.2 47.0h0M68.6 62.9h0M62.2 52.7h0M58.1 73.7h0M67.6 76.1h0M71.1 68.3h0M78.3 62.2h0M64.3 67.9h0M67.8 56.2h0M85.2 59.4h0M74.6 63.1h0M78.9 28.7h0M66.0 66.5h0M70.5 56.4h0M83.4 63.5h0M64.1 44.8h0M77.1 66.1h0M78.0 41.1h0M69.7 63.0h0M66.4 57.3h0M78.5 44.5h0M58.2 71.2h0M66.5 43.0h0M60.0 71.9h0M79.9 47.7h0M87.5 54.9h0M75.4 55.3h0M63.3 60.9h0M75.8 56.7h0M65.1 69.1h0M64.1 64.8h0M73.1 57.0h0M77.8 60.3h0M55.8 52.2h0M88.4 48.3h0M54.7 63.6h0M70.4 43.6h0M57.7 73.3h0M70.5 61.2h0M87.6 57.5h0M76.6 57.2h0M86.7 46.0h0M78.0 71.2h0M72.4 60.8h0M77.5 48.1h0M78.8 58.5h0M66.7 43.0h0M101.8 42.9h0M80.3 60.6h0M74.1 49.9h0M55.9 76.8h0M74.1 41.8h0M78.5 51.2h0M61.6 60.9h0M75.8 54.1h0M60.0 52.9h0M65.9 59.2h0M62.0 57.8h0M66.7 65.1h0M81.7 54.8h0M80.9 60.0h0M63.9 62.2h0M65.7 49.5h0M74.1 75.5h0M63.6 69.3h0M73.8 66.8h0M95.3 39.7h0M70.3 62.8h0M55.8 75.3h0M69.7 25.4h0M76.3 53.5h0M69.3 57.2h0M77.8 48.3h0M65.1 61.7h0M77.9 58.1h0M56.7 72.0h0M80.6 68.4h0M66.2 53.0h0M55.0 66.9h0M72.1 51.4h0M73.9 59.5h0M86.6 43.2h0M64.8 48.6h0M69.6 61.5h0M70.0 53.9h0M79.3 39.2h0M77.4 47.3h0M69.8 76.0h0M73.7 43.0h0M67.8 68.3h0M82.8 63.1h0M70.1 60.5h0M66.4 61.1h0M77.7 79.5h0M63.0 77.8h0M70.7 69.4h0M62.3 77.6h0M78.6 51.3h0M76.4 62.0h0M67.4 70.3h0M71.5 54.1h0M70.1 62.5h0M74.0 40.3h0M72.3 71.9h0M69.9 55.0h0M52.5 58.6h0M67.0 56.7h0M62.7 58.6h0M66.6 67.1h0M60.9 56.6h0M73.5 40.0h0M69.3 59.5h0M64.6 65.8h0M62.9 63.3h0M65.7 66.6h0M57.9 59.5h0M71.0 56.3h0M73.8 64.9h0M71.5 54.0h0M62.8 61.5h0M68.5 72.0h0M56.8 61.1h0M65.6 76.7h0M62.0 67.7h0M41.6 53.9h0M59.2 77.0h0M64.8 59.4h0M80.7 71.9h0M73.4 49.4h0M58.8 66.6h0M68.5 43.0h0M62.2 53.8h0M70.7 47.3h0M68.5 47.3h0M68.2 58.6h0M77.2 66.2h0M52.0 66.0h0M68.3 62.1h0M80.5 44.7h0M71.9 68.4h0M75.6 57.1h0M72.1 64.2h0M69.3 57.4h0M70.2 45.5h0M61.8 79.8h0M69.8 70.2h0M81.7 45.1h0M57.9 74.5h0M69.1 63.3h0M52.0 72.8h0M86.7 33.3h0M65.9 80.6h0M62.6 72.6h0M74.7 57.4h0M75.8 64.4h0M54.2 56.5h0M78.1 52.6h0M58.8 63.7h0M70.8 51.8h0M74.2 51.9h0M63.1 68.6h0M77.0 62.2h0M63.6 57.3h0M70.2 55.0h0M61.5 77.4h0M98.3 11.1h0M68.7 63.1h0M63.8 56.0h0M40.5 91.3h0M62.9 77.0h0M60.0 83.1h0M59.3 68.5h0M57.4 57.1h0M76.6 59.3h0M84.2 41.9h0M61.8 72.0h0M81.8 57.0h0M67.7 51.8h0M61.6 78.2h0M63.0 54.7h0M59.5 66.0h0M52.1 71.0h0M65.0 55.0h0M55.4 65.9h0M66.4 50.7h0M72.2 74.6h0M60.1 51.8h0M64.6 62.7h0M59.5 64.9h0M70.3 65.1h0M66.2 64.2h0M68.8 58.4h0M67.1 73.4h0M65.9 65.4h0M68.1 52.2h0M74.7 48.2h0M61.8 44.3h0M70.1 72.9h0M60.7 62.9h0M66.1 69.2h0M81.5 58.2h0M62.0 64.7h0M82.4 60.2h0M85.3 59.1h0M73.8 60.6h0M55.2 55.9h0M67.8 63.7h0M63.4 43.1h0M65.2 76.0h0M71.2 59.8h0M64.2 63.8h0M67.8 64.9h0M71.1 70.5h0M63.8 70.6h0M59.1 63.7h0M77.3 57.7h0M55.3 64.8h0M73.3 35.3h0M65.5 50.7h0M69.1 61.6h0M57.4 70.0h0M79.1 49.8h0M66.9 49.8h0M58.4 71.3h0M70.2 57.2h0M55.6 68.4h0M70.3 54.3h0M62.8 65.5h0M67.7 77.5h0M59.3 57.9h0M70.1 53.5h0M86.0 60.1h0M79.8 56.9h0M58.8 67.9h0M94.0 35.5h0M78.6 63.8h0M53.8 53.0h0M76.6 42.3h0M57.3 47.9h0M65.7 77.4h0M70.8 51.0h0M78.8 58.4h0M75.1 39.5h0M69.2 60.4h0M80.5 73.6h0M71.2 62.9h0M73.2 62.3h0M70.3 68.9h0M71.1 57.6h0M77.2 52.0h0M60.9 74.3h0M70.0 70.2h0M66.2 56.3h0M69.2 60.7h0M70.7 54.3h0M53.9 66.1h0M57.4 58.5h0M62.5 57.3h0M79.0 56.0h0M73.0 64.9h0M59.3 89.1h0M60.8 67.7h0M67.5 49.3h0M70.0 65.1h0M75.4 57.0h0M66.9 71.1h0M62.5 50.5h0M58.3 71.7h0M76.2 54.4h0M70.3 63.0h0M61.2 63.8h0M76.5 53.2h0M85.3 45.6h0M73.7 65.7h0M59.3 54.2h0M70.9 71.7h0M75.7 45.3h0M59.9 60.9h0M64.7 51.1h0M77.0 61.0h0M66.3 67.6h0M74.6 61.4h0M62.6 71.8h0M58.4 65.1h0M61.1 57.4h0M88.3 51.1h0M67.2 77.7h0M65.9 59.0h0M68.3 69.7h0M71.4 49.6h0M78.0 51.9h0M67.8 65.9h0M67.7 47.9h0M60.5 76.1h0M59.2 44.1h0M64.0 66.1h0M51.4 98.6h0M70.8 72.3h0M72.8 63.1h0M59.7 53.4h0M65.8 63.4h0M68.4 73.6h0M67.3 55.0h0M64.5 46.4h0M62.7 70.2h0M59.9 65.6h0M52.8 90.3h0M63.0 65.7h0M75.7 70.6h0M81.2 42.4h0M58.9 64.7h0M60.0 58.4h0M63.0 55.7h0M80.9 50.1h0M69.1 62.6h0M58.3 60.1h0M56.6 67.9h0M86.9 59.0h0M68.0 53.9h0M81.2 65.0h0M68.5 68.3h0M79.9 64.0h0M79.5 53.4h0M73.9 52.6h0M80.7 41.5h0M68.5 66.0h0M62.9 71.3h0M65.8 65.7h0M69.0 63.4h0M54.4 63.8h0M78.8 42.7h0M59.0 68.8h0M68.3 75.1h0M65.6 70.8h0M65.5 66.6h0M56.7 74.0h0M61.0 70.8h0M72.2 54.7h0M57.6 67.2h0M68.3 67.8h0M60.2 47.6h0M60.9 65.4h0M71.9 41.6h0M83.6 55.1h0M62.0 61.7h0M89.3 45.6h0M44.3 106.2h0M62.6 57.8h0M71.5 65.0h0M72.5 65.9h0M43.8 84.5h0M90.7 21.9h0M65.2 49.4h0M67.4 75.1h0M73.4 76.9h0M68.7 55.9h0M73.5 63.8h0M69.3 44.7h0M67.1 59.9h0M69.8 71.7h0M82.3 48.7h0M72.0 57.8h0M74.7 72.6h0M62.5 67.9h0M80.2 56.2h0M72.9 51.4h0M77.2 61.6h0M64.5 70.3h0M80.8 51.3h0M72.9 67.5h0M86.2 52.9h0M67.9 72.6h0M63.5 73.9h0M59.2 54.3h0M67.4 70.1h0M67.8 56.6h0M54.5 66.6h0M54.1 69.8h0M68.8 66.3h0M67.7 79.0h0M69.8 73.4h0M62.4 59.2h0M72.1 43.1h0M96.8 52.1h0M63.7 51.4h0M61.1 58.5h0M66.4 47.4h0M65.7 72.8h0M77.3 54.2h0M84.0 36.2h0M64.6 60.6h0M83.3 75.3h0M73.6 46.0h0M85.3 52.8h0M71.8 49.5h0M66.3 54.7h0M69.8 45.4h0M79.1 48.6h0M75.3 63.9h0M64.4 59.6h0M69.2 59.7h0M73.9 59.6h0M74.0 58.5h0M71.0 69.3h0M70.7 69.5h0M55.0 78.9h0M80.4 57.6h0M71.3 58.5h0M75.3 60.7h0M64.7 70.9h0M64.1 49.2h0M65.8 58.4h0M70.5 61.8h0M74.9 45.0h0M84.5 33.4h0M77.7 67.1h0M67.1 46.0h0M80.5 60.8h0M64.8 65.9h0M57.2 62.5h0M60.3 53.9h0M89.6 37.2h0M74.4 58.9h0M68.1 65.6h0M85.6 57.7h0M67.4 68.3h0M61.6 54.6h0M64.0 64.5h0M79.8 41.2h0M71.1 68.7h0M65.4 56.6h0M73.5 53.3h0M77.5 69.3h0M73.0 71.0h0M66.3 59.3h0M91.1 61.6h0M79.8 53.5h0M71.0 61.3h0M64.8 64.0h0M84.5 72.7h0M74.9 67.1h0M61.2 49.3h0M93.6 64.3h0M76.2 48.1h0M75.3 39.7h0M81.5 64.9h0M73.0 59.1h0M86.3 52.8h0M79.5 60.3h0M76.6 45.7h0M63.4 57.4h0M56.2 54.0h0M56.3 54.7h0M68.5 60.7h0M58.2 68.5h0M64.6 72.6h0M61.0 59.9h0M59.3 64.2h0M71.7 61.6h0M67.9 67.9h0M69.4 53.2h0M71.7 60.7h0M69.9 60.3h0M64.0 39.6h0M81.3 47.3h0M70.4 73.5h0M70.5 64.2h0M53.6 54.2h0M77.3 63.9h0M63.1 68.8h0M83.3 52.4h0M53.8 75.6h0M73.4 67.3h0M69.3 46.3h0M56.5 74.2h0M74.0 59.0h0M96.3 42.0h0M66.7 51.2h0M83.2 67.0h0M77.3 62.5h0M78.9 68.3h0M62.2 61.6h0M58.0 65.1h0M82.8 49.9h0M67.1 41.2h0M72.1 62.3h0M94.5 44.3h0M79.6 67.3h0M72.5 62.0h0M74.8 72.3h0M78.7 58.1h0M66.0 67.9h0M59.3 61.4h0M74.7 45.3h0M66.9 75.3h0M62.7 62.6h0M64.6 53.7h0M63.8 44.3h0M65.3 80.6h0M73.9 60.2h0M66.1 69.9h0M78.1 50.6h0M73.0 55.6h0M67.2 53.1h0M63.6 53.1h0M82.0 53.7h0M53.6 54.4h0M66.7 53.5h0M72.6 74.1h0M77.5 54.9h0M70.9 57.8h0M68.9 60.3h0M35.5 95.8h0M89.3 72.9h0M74.4 61.6h0M74.1 61.8h0M78.4 65.8h0M74.6 65.4h0M72.1 57.6h0M67.3 59.3h0M69.4 48.4h0M68.0 69.0h0M73.1 56.9h0M75.5 62.2h0M63.6 62.3h0M66.8 65.7h0M61.8 58.4h0M48.5 93.4h0M83.1 67.0h0M47.5 73.2h0M63.9 58.3h0M89.2 36.9h0M69.0 39.0h0M72.3 53.7h0M69.7 52.0h0M50.8 82.4h0M70.9 52.2h0M70.1 51.9h0M81.1 71.8h0M75.3 56.0h0M64.3 54.9h0M58.4 65.4h0M73.8 65.0h0M70.0 55.1h0M74.1 57.9h0M54.3 54.4h0M76.8 59.2h0M75.3 66.9h0M58.1 62.2h0M75.9 71.0h0M37.1 72.6h0M80.5 49.3h0M58.5 85.2h0M51.6 60.0h0M78.0 66.7h0M76.9 47.1h0M67.9 57.3h0M75.6 55.6h0M69.5 67.5h0M70.1 56.2h0M67.6 55.7h0M67.3 57.7h0M64.1 60.1h0M74.0 57.8h0M55.8 71.2h0M69.9 62.7h0M56.4 63.1h0M83.8 52.9h0M84.3 61.5h0M77.8 62.2h0M51.8 81.3h0M67.5 65.7h0M46.7 75.0h0M52.5 66.1h0M66.7 56.9h0M76.6 58.0h0M50.2 60.4h0M61.2 64.3h0M69.6 60.5h0M68.1 65.5h0M76.1 50.3h0M61.3 67.0h0M72.1 50.2h0M85.9 67.8h0M68.9 60.7h0M68.4 61.4h0M62.9 68.2h0M75.3 55.3h0M79.7 55.9h0M58.8 69.7h0M47.8 62.6h0M66.4 45.7h0M66.7 78.8h0M68.1 61.3h0M71.5 54.3h0M92.1 48.2h0M70.3 51.3h0M68.6 42.2h0M73.2 47.2h0M91.8 47.1h0M83.6 50.5h0M92.1 48.8h0M62.7 61.8h0M69.8 61.9h0M57.2 77.1h0M81.4 62.0h0M72.7 61.2h0M69.4 74.9h0M72.5 72.7h0M71.6 65.6h0M80.4 61.8h0M77.7 46.5h0M63.8 56.6h0M66.7 63.0h0M67.0 49.6h0M79.3 61.1h0M72.0 52.3h0M65.9 68.0h0M69.0 70.5h0M64.7 67.1h0M63.4 66.1h0M63.0 70.8h0M59.8 54.6h0M81.2 48.5h0M63.8 63.7h0M62.9 57.0h0M79.3 62.9h0M78.3 41.5h0M77.5 68.1h0M70.8 63.2h0M56.8 55.6h0M79.4 63.3h0M79.0 25.2h0M56.6 68.4h0M63.7 50.3h0M75.3 39.6h0M79.2 56.4h0M70.6 64.8h0M75.1 85.5h0M75.8 57.3h0M62.7 69.0h0M79.7 69.2h0M85.7 52.3h0M55.9 56.3h0M74.2 40.8h0M71.9 63.4h0M60.8 67.1h0M66.4 62.5h0M65.0 59.8h0M85.7 57.0h0M76.2 68.9h0M75.6 47.9h0M72.8 59.4h0M73.7 45.2h0M69.7 57.9h0M56.7 70.7h0M69.2 61.2h0M72.3 60.6h0M82.9 65.0h0M67.9 54.1h0M64.5 64.5h0M61.6 61.2h0M46.0 78.8h0M68.2 62.0h0M68.3 61.2h0M71.9 53.5h0M67.4 62.5h0M60.7 68.7h0M82.9 48.2h0M73.5 44.2h0M61.1 55.1h0M55.0 72.6h0M61.2 63.0h0M60.3 60.3h0M81.5 59.6h0M57.1 61.9h0M77.7 49.4h0M71.9 74.0h0M72.5 46.7h0M73.5 57.3h0M63.7 65.2h0M74.2 62.5h0M76.3 47.3h0M89.4 46.4h0M74.2 51.8h0M76.5 50.9h0M61.9 64.1h0M72.0 61.8h0M75.1 73.1h0M62.5 68.5h0M61.6 61.3h0M68.8 52.8h0M74.4 59.6h0M78.1 78.5h0M68.1 74.1h0M84.6 52.4h0M65.3 76.1h0M75.3 62.0h0M79.6 68.0h0M68.8 73.7h0M82.9 37.8h0M79.9 47.6h0M79.2 54.2h0M64.9 45.2h0M84.7 54.3h0M65.3 58.8h0M73.6 58.3h0M58.3 57.5h0M63.8 70.0h0M56.2 52.4h0M76.7 53.8h0M64.9 55.2h0M70.9 63.3h0M74.8 52.0h0M64.6 66.9h0M62.7 68.5h0M79.7 52.9h0M77.1 62.6h0M76.8 60.9h0M50.1 55.5h0M68.0 70.2h0M59.2 53.9h0M67.1 68.8h0M70.1 55.5h0M83.0 43.8h0M68.9 50.5h0M69.6 54.4h0M77.3 52.9h0M83.5 46.6h0M51.1 67.6h0M84.2 39.9h0M82.3 42.3h0M84.5 63.1h0M91.9 55.0h0M72.4 57.9h0M58.6 49.4h0M70.6 55.2h0M64.8 55.7h0M72.6 69.1h0M50.3 65.3h0M76.6 63.9h0M69.2 74.6h0M59.5 56.4h0M42.9 63.8h0M64.1 72.1h0M57.4 59.7h0M61.8 62.2h0M57.6 61.2h0M66.2 59.0h0M82.5 41.7h0M73.3 51.5h0M66.1 60.9h0M68.3 50.5h0M61.1 59.2h0M69.2 66.7h0M59.3 60.7h0M61.9 54.7h0M75.3 65.1h0M63.0 69.6h0M85.7 56.1h0M68.1 46.5h0M60.6 51.5h0M74.4 49.7h0M59.1 71.3h0M88.4 43.6h0M78.3 56.2h0M56.4 87.8h0M80.0 84.7h0M63.0 62.0h0M65.1 60.1h0M48.8 57.6h0M65.7 57.5h0M72.4 56.1h0M67.9 67.5h0M68.2 55.7h0M64.8 60.2h0M75.8 50.6h0M37.0 66.3h0M68.9 75.5h0M65.4 55.7h0M61.3 63.3h0M74.6 51.9h0M61.8 52.9h0M54.8 58.8h0M76.8 61.8h0M69.4 48.7h0M65.1 58.1h0M80.6 45.7h0M64.0 70.2h0M78.5 63.4h0M52.8 82.1h0M67.9 57.7h0M73.7 56.5h0M72.4 65.6h0M67.9 76.8h0M66.4 51.8h0M81.1 65.9h0M60.5 61.7h0M79.0 65.0h0M71.7 74.3h0M76.6 41.9h0M68.9 67.2h0M77.3 39.0h0M52.5 54.7h0M51.5 64.7h0M65.8 72.1h0M84.1 51.4h0M72.9 56.5h0M65.0 59.1h0M69.6 53.1h0M57.8 66.1h0M83.4 41.9h0M62.4 89.6h0M70.2 46.8h0M62.2 62.0h0M67.5 62.3h0M63.7 39.5h0M78.2 57.5h0M83.6 58.1h0M58.3 72.3h0M59.0 74.3h0M82.4 68.9h0M58.1 76.3h0M71.3 58.5h0M75.6 42.2h0M78.8 52.1h0M59.7 49.2h0M82.6 40.1h0M60.1 57.3h0M73.1 55.0h0M64.5 60.7h0M56.2 66.8h0M62.3 58.4h0M79.0 57.5h0M87.4 53.8h0M70.0 63.0h0M64.2 49.5h0M57.0 60.0h0M81.5 59.6h0M73.1 56.7h0M78.5 55.5h0M74.9 77.2h0M39.9 78.2h0M72.5 54.5h0M71.0 65.4h0M91.9 36.8h0M80.2 46.1h0M74.2 56.2h0M73.3 58.7h0M80.4 49.7h0M57.8 73.5h0M60.6 55.7h0M69.7 45.0h0M82.0 38.9h0M89.6 38.1h0M77.6 52.1h0M70.5 77.7h0M79.7 41.8h0M72.4 65.5h0M62.8 68.7h0M76.9 66.1h0M70.2 83.5h0M89.4 55.5h0M60.3 81.9h0M57.6 58.2h0M78.9 71.9h0M84.9 36.9h0M65.1 64.0h0M66.5 74.0h0M81.2 59.9h0M69.0 58.3h0M64.7 47.5h0M63.0 66.7h0M79.1 52.8h0M72.3 66.2h0M64.8 53.9h0M77.4 62.8h0M70.3 63.4h0M63.3 65.6h0M68.8 57.1h0M70.5 62.2h0M64.6 72.7h0M81.4 67.9h0M68.0 61.8h0M74.7 72.8h0M58.3 75.8h0M62.6 63.6h0M88.2 65.4h0M75.4 52.7h0M53.8 49.3h0M75.5 49.2h0M72.7 36.7h0M80.1 57.1h0M65.0 60.0h0M71.8 46.6h0M69.4 66.0h0M71.5 68.7h0M83.2 59.5h0M58.0 60.5h0M80.5 54.3h0M78.4 60.2h0M69.6 47.0h0M65.1 71.3h0M66.0 55.5h0M80.1 49.7h0M71.6 60.0h0M84.2 42.2h0M65.7 70.5h0M79.1 62.9h0M71.4 53.7h0M68.6 62.1h0M74.9 57.2h0M71.9 65.9h0M72.4 51.5h0M70.0 76.1h0M74.5 56.2h0M66.4 55.3h0M73.8 43.5h0M71.0 72.1h0M67.5 63.4h0M60.7 59.6h0M74.7 49.7h0M57.0 49.7h0M73.5 60.5h0M81.1 54.3h0M59.5 76.7h0M51.7 52.2h0M67.3 73.9h0M62.8 33.9h0M66.3 65.2h0M62.3 47.2h0M65.1 59.9h0M74.3 36.3h0M80.4 69.1h0M52.2 81.6h0M80.2 39.5h0M84.6 56.6h0M84.6 50.6h0M74.7 63.4h0M62.9 66.5h0M71.4 65.3h0M72.3 51.6h0M54.0 53.6h0M70.1 61.8h0M59.5 68.0h0M67.4 68.7h0M83.0 59.8h0M71.5 50.9h0M79.4 64.4h0M60.2 66.2h0M90.8 49.2h0M74.1 74.4h0M64.4 53.5h0M62.9 63.6h0M87.5 34.0h0M63.5 49.9h0M79.6 57.8h0M61.2 53.7h0M59.0 43.6h0M73.6 51.3h0M53.2 76.5h0M69.0 61.4h0M67.2 59.3h0M63.3 78.9h0M88.0 36.4h0M67.6 45.9h0M61.5 60.9h0M75.9 51.7h0M72.9 68.6h0M69.1 58.9h0M80.2 65.6h0M68.0 52.8h0M67.5 63.5h0M60.9 68.5h0M78.4 61.2h0M62.0 71.4h0M76.2 59.6h0M76.5 43.8h0M76.8 43.2h0M68.3 65.1h0M66.5 63.1h0M63.5 71.2h0M64.9 71.1h0M74.9 59.8h0M65.6 61.1h0M57.5 66.7h0M63.7 57.3h0M88.2 50.5h0M64.8 51.7h0M68.6 63.4h0M69.0 60.0h0M69.1 60.5h0M49.6 55.7h0M66.4 69.8h0M69.7 59.3h0M71.2 54.0h0M69.0 69.2h0M72.2 45.9h0M74.5 62.8h0M74.0 57.3h0M68.4 56.7h0M59.9 73.9h0M66.9 57.5h0M60.0 76.6h0M66.4 47.9h0M56.3 76.0h0M74.8 60.8h0M63.5 49.6h0M85.4 67.7h0M64.9 50.7h0M88.5 70.8h0M71.7 70.7h0M83.3 65.5h0M60.4 62.9h0M74.1 36.2h0M62.6 47.9h0M69.1 56.4h0M63.5 47.3h0M54.1 74.1h0M71.5 80.7h0M64.4 57.6h0M76.0 61.3h0M75.7 56.8h0M67.6 53.4h0M70.3 51.4h0M83.1 50.4h0M67.9 63.4h0M71.3 65.2h0M71.0 60.4h0M81.8 52.8h0M70.4 50.2h0M64.6 56.7h0M66.1 68.9h0M81.2 38.4h0M63.8 59.1h0M77.3 62.6h0M41.5 112.4h0M71.7 47.0h0M80.1 62.2h0M66.8 64.6h0M78.8 44.1h0M56.1 66.0h0M72.6 63.4h0M79.4 36.3h0M74.7 68.4h0M76.4 54.7h0M48.4 67.1h0M84.5 52.8h0M69.2 73.1h0M71.0 78.3h0M65.3 52.5h0M83.3 70.8h0M68.1 57.6h0M70.9 60.6h0M69.9 43.9h0M72.9 53.4h0M76.5 66.1h0M60.9 71.3h0M59.8 64.1h0M61.6 71.1h0M68.1 62.8h0M83.7 53.8h0M69.4 67.9h0M65.1 52.1h0M63.5 62.6h0M74.6 57.0h0M77.3 59.9h0M60.7 75.5h0M74.1 41.9h0M65.1 67.5h0M68.8 79.1h0M61.3 55.7h0M84.4 30.5h0M56.7 61.0h0M72.1 68.1h0M75.5 55.8h0M79.4 47.9h0M72.8 64.4h0M56.5 65.1h0M67.8 58.9h0M84.1 55.5h0M70.9 52.2h0M64.2 58.8h0M62.7 74.9h0M60.0 63.9h0M70.2 76.8h0M59.9 74.0h0M87.5 54.9h0M74.2 49.1h0M86.2 55.5h0M92.7 37.1h0M77.4 41.5h0M66.4 61.1h0M75.1 62.1h0M77.3 56.4h0M71.2 66.9h0M68.0 58.4h0M73.0 68.2h0M65.7 85.6h0M64.0 52.4h0M64.7 42.3h0M53.9 69.1h0M67.3 73.5h0M65.0 78.0h0M73.1 54.3h0M81.8 60.4h0M62.7 84.5h0M79.9 62.8h0M68.5 70.5h0M58.4 73.5h0M63.4 57.5h0M66.7 64.8h0M77.5 60.4h0M72.6 55.0h0M57.1 64.5h0M67.3 52.5h0M65.7 71.8h0M67.8 57.5h0M62.6 66.0h0M65.1 61.9h0M63.1 88.8h0M54.3 70.4h0M60.4 47.0h0M71.1 56.7h0M62.8 54.9h0M69.0 70.7h0M65.3 54.4h0M75.0 63.2h0M74.1 66.3h0M103.2 48.5h0M71.6 42.1h0M73.7 50.0h0M73.6 54.6h0M55.6 70.1h0M72.3 58.0h0M73.6 45.4h0M64.1 62.3h0M71.3 65.4h0M76.2 61.3h0M57.2 68.0h0M77.3 51.8h0M56.5 65.1h0M89.8 43.9h0M74.2 46.3h0M65.0 60.4h0M75.8 58.6h0M66.1 62.6h0M66.5 54.1h0M79.0 53.2h0M70.6 50.7h0M59.8 72.6h0M68.1 61.3h0M65.3 64.7h0M68.0 59.4h0M78.8 47.2h0M70.2 61.7h0M70.1 71.0h0M89.8 40.6h0M61.0 74.9h0M55.9 65.1h0M75.5 61.8h0M79.8 57.4h0M67.3 63.8h0M73.6 62.0h0M71.8 57.0h0M73.5 66.9h0M56.7 50.6h0M54.9 68.1h0M69.9 60.4h0M77.7 57.3h0M85.8 55.0h0M79.9 40.8h0M52.7 84.8h0M63.7 64.6h0M67.5 65.2h0M53.9 78.3h0M69.7 68.9h0M73.3 68.8h0M71.9 61.0h0M53.5 51.5h0M58.0 46.6h0M73.9 65.4h0M64.2 62.9h0M75.3 53.4h0M70.6 61.7h0M61.5 69.2h0M56.6 70.1h0M54.9 65.4h0M74.0 59.5h0M66.5 61.7h0M79.0 59.1h0M67.9 57.4h0M57.4 51.7h0M81.0 36.0h0M69.3 69.2h0M63.2 60.5h0M61.0 62.4h0M83.2 58.8h0M62.2 52.0h0M71.8 70.4h0M101.6 53.9h0M67.8 56.3h0M65.5 66.3h0M71.4 59.7h0M70.9 59.7h0M58.5 56.8h0M67.8 58.0h0M69.8 57.2h0M64.7 67.2h0M69.0 42.9h0M65.0 73.2h0M70.3 76.1h0M69.1 51.4h0M58.7 71.2h0M77.9 61.4h0M67.7 64.4h0M67.9 80.4h0M75.7 67.7h0M71.2 57.0h0M66.1 62.9h0M88.1 59.6h0M40.5 84.4h0M70.1 70.0h0M69.4 66.7h0M72.2 60.5h0M67.4 43.7h0M68.9 60.8h0M65.1 58.3h0M64.1 55.0h0M57.1 60.4h0M73.3 48.4h0M62.3 76.1h0M69.4 61.2h0M72.7 42.6h0M69.8 56.3h0M70.0 62.8h0M69.0 44.8h0M72.6 63.2h0M56.4 80.2h0M65.2 54.4h0M66.0 69.3h0M67.3 69.4h0M75.2 62.1h0M78.1 45.5h0M61.7 67.1h0M72.1 65.9h0M45.4 72.2h0M57.3 66.2h0M87.2 45.7h0M72.2 69.9h0M58.7 61.4h0M72.2 58.9h0M58.7 73.3h0M73.1 56.8h0M64.8 65.0h0M64.1 61.8h0M67.5 72.3h0M59.2 73.8h0M73.0 52.7h0M56.2 95.8h0M72.3 74.5h0M70.3 55.4h0M62.6 66.6h0M63.3 71.4h0M69.5 79.1h0M51.5 86.1h0M81.3 56.8h0M61.7 51.4h0M72.9 58.2h0M66.3 75.2h0M86.2 51.7h0M67.2 45.9h0M61.4 49.7h0M77.1 43.6h0M69.3 65.7h0M75.3 57.1h0M59.2 61.7h0M65.2 78.6h0M56.6 76.1h0M69.6 55.7h0M74.7 39.9h0M73.3 49.0h0M59.1 56.2h0M68.4 61.6h0M55.8 58.4h0M75.4 59.8h0M76.6 56.0h0M68.8 62.4h0M88.6 61.9h0M73.8 65.0h0M62.0 62.3h0M62.6 60.4h0M57.4 60.6h0M60.7 80.7h0M47.7 57.9h0M40.5 83.2h0M64.2 57.8h0M55.0 63.1h0M60.4 53.7h0M90.1 29.2h0M79.7 52.1h0M54.0 60.1h0M64.7 67.0h0M79.9 67.9h0M65.4 63.3h0M64.8 60.8h0M75.9 66.6h0M60.8 77.3h0M51.5 91.0h0M72.6 67.1h0M65.5 69.2h0M71.0 65.1h0M83.7 64.9h0M60.5 67.0h0M77.6 47.9h0M73.1 58.1h0M75.1 46.2h0M68.5 42.6h0M57.6 55.1h0M69.0 57.4h0M94.7 45.6h0M59.3 61.5h0M64.9 73.4h0M72.0 66.8h0M54.0 63.0h0M61.3 63.7h0M72.8 57.5h0M74.7 67.0h0M60.3 64.7h0M74.7 54.9h0M75.2 54.7h0M63.1 65.0h0M68.0 67.4h0M80.0 73.3h0M82.3 57.0h0M39.6 80.7h0M70.8 66.1h0M60.5 58.5h0M83.7 58.6h0M78.7 60.6h0M63.2 68.3h0M64.2 41.4h0M71.2 42.3h0M75.0 65.3h0M71.3 64.8h0M74.1 66.6h0M67.5 71.4h0M56.0 66.6h0M75.9 60.1h0M55.6 45.6h0M86.2 52.1h0M70.8 55.1h0M59.5 68.5h0M68.8 54.6h0M70.8 61.5h0M80.8 57.3h0M73.9 57.0h0M58.4 73.8h0M74.8 60.8h0M64.5 49.4h0M66.1 77.2h0M76.5 57.4h0M66.4 65.9h0M73.4 75.3h0M73.1 58.0h0M50.1 99.9h0M85.9 52.3h0M60.9 72.9h0M79.6 49.2h0M70.4 57.7h0M59.7 38.8h0M68.1 66.4h0M68.0 56.4h0M84.5 55.5h0M66.4 60.9h0M68.6 73.1h0M76.4 49.4h0M65.1 67.2h0M64.7 61.3h0M69.8 61.9h0M73.6 53.8h0M58.9 50.3h0M57.0 69.8h0M64.7 71.7h0M69.9 50.5h0M66.2 70.7h0M68.9 57.4h0M62.4 55.4h0M42.5 98.8h0M71.4 53.8h0M53.9 54.2h0M63.7 59.2h0M57.9 68.5h0M77.7 68.1h0M68.4 61.2h0M68.8 40.5h0M71.6 67.8h0M72.0 68.7h0M71.8 55.8h0M56.6 49.1h0M72.3 50.0h0M76.3 38.7h0M80.1 61.2h0M66.7 69.9h0M76.6 55.0h0M64.6 54.9h0M76.6 72.9h0M66.3 50.3h0M63.8 69.9h0M68.3 70.8h0M76.2 70.3h0M45.8 79.4h0M76.5 73.1h0M75.1 50.6h0M67.4 58.4h0M73.7 53.9h0M67.4 66.9h0M79.6 62.4h0M78.8 58.4h0M95.9 42.8h0M70.6 59.1h0M74.1 52.8h0M61.6 77.1h0M66.8 57.1h0M63.0 48.1h0M76.5 43.2h0M76.8 53.3h0M61.4 76.5h0M68.1 64.6h0M97.1 43.3h0M61.9 66.9h0M61.5 64.5h0M66.1 74.8h0M72.7 58.4h0M67.0 50.3h0M74.3 62.7h0M74.7 68.6h0M65.7 71.8h0M79.9 36.3h0M90.0 59.6h0M79.4 58.1h0M62.8 57.6h0M67.2 59.4h0M72.5 63.7h0M78.6 19.0h0M66.9 62.1h0M67.0 55.2h0M70.3 67.4h0M62.5 52.9h0M67.3 51.5h0M66.8 61.6h0M100.4 36.0h0M80.8 61.3h0M67.8 68.7h0M68.6 62.8h0M70.5 60.9h0M77.3 59.6h0M61.1 52.9h0M67.6 68.8h0M71.7 63.1h0M83.2 43.3h0M73.3 29.2h0M68.4 59.4h0M62.3 50.4h0M70.0 71.3h0M75.9 66.2h0M51.5 52.5h0M73.5 72.3h0M65.1 51.9h0M71.7 52.3h0M68.7 65.8h0M72.2 68.5h0M67.6 62.1h0M65.1 54.9h0M59.1 78.6h0M79.3 60.4h0M57.5 69.8h0M74.4 54.6h0M58.2 78.3h0M63.2 63.7h0M63.6 56.0h0M61.7 62.4h0M78.2 40.0h0M74.1 54.4h0M80.8 51.8h0M68.1 44.7h0M72.9 61.6h0M46.6 87.9h0M80.7 51.5h0M73.2 60.1h0M67.0 81.0h0M70.5 56.8h0M71.8 59.8h0M58.8 57.5h0M68.6 47.9h0M71.1 54.5h0M70.7 45.5h0M70.3 58.2h0M93.0 53.2h0M57.5 78.8h0M45.1 55.0h0M49.5 60.1h0M69.0 64.2h0M71.7 52.2h0M57.4 49.7h0M71.5 42.0h0M72.9 72.1h0M69.5 67.6h0M79.3 56.0h0M71.2 49.6h0M75.3 60.7h0M76.4 37.4h0M72.7 42.0h0M65.9 52.2h0M73.1 59.1h0M53.9 74.0h0M64.3 74.9h0M64.4 41.6h0M61.0 59.2h0M71.6 66.0h0M65.1 64.8h0M70.6 67.8h0M83.3 48.2h0M54.4 49.4h0M59.6 68.8h0M71.3 73.2h0M56.8 52.5h0M66.1 62.9h0M54.8 67.9h0M64.4 46.1h0M65.7 72.0h0M70.8 49.4h0M56.8 70.3h0M69.2 68.3h0M82.0 59.4h0M75.4 62.4h0M64.9 77.6h0M75.1 49.8h0M64.4 65.7h0M63.4 62.2h0M58.5 74.9h0M70.9 68.8h0M67.4 71.5h0M78.5 51.8h0M68.0 66.6h0M70.2 62.4h0M73.6 70.8h0M64.6 45.3h0M70.8 61.1h0M62.0 57.8h0M53.9 62.2h0M85.1 64.9h0M65.4 67.3h0M77.5 74.3h0M61.8 41.8h0M63.8 50.7h0M65.8 63.4h0M53.8 79.3h0M73.3 67.8h0M70.2 57.9h0M77.2 63.6h0M61.8 67.0h0M70.8 61.3h0M69.1 74.5h0M68.8 55.9h0M82.7 61.4h0M78.7 75.0h0M81.1 56.8h0M72.8 57.2h0M60.0 59.1h0M58.1 54.3h0M70.9 51.3h0M64.9 71.1h0M85.7 44.9h0M81.1 50.6h0M83.5 39.2h0M58.8 63.0h0M57.4 42.6h0M69.6 62.4h0M84.6 70.4h0M59.9 54.4h0M73.5 51.9h0M71.8 59.7h0M72.8 46.4h0M74.3 79.6h0M78.2 50.6h0M68.3 51.7h0M63.0 53.4h0M74.0 57.8h0M69.9 69.5h0M75.5 53.8h0M58.1 63.4h0M57.9 72.2h0M75.7 57.6h0M80.9 47.1h0M73.5 60.7h0M69.5 49.2h0M60.0 67.2h0M97.2 37.6h0M54.4 52.9h0M74.1 56.4h0M65.0 51.0h0M75.2 57.1h0M86.4 45.8h0M70.3 72.9h0M70.1 53.8h0M85.9 64.9h0M60.8 57.8h0M63.2 63.4h0M69.4 54.6h0M74.4 53.6h0M71.4 62.7h0M84.1 75.1h0M66.2 62.5h0M67.6 57.0h0M73.4 62.7h0M85.1 67.2h0M55.7 53.6h0M71.2 61.2h0M75.5 66.5h0M68.2 67.4h0M76.3 68.5h0M75.4 37.2h0M66.7 55.1h0M85.6 46.8h0M68.2 74.4h0M67.7 59.4h0M80.7 48.3h0M63.3 48.3h0M73.9 59.1h0M58.7 69.2h0M72.7 56.5h0M64.3 76.9h0M64.1 61.7h0M70.6 76.9h0M66.3 69.6h0M67.3 59.1h0M66.3 75.2h0M72.0 66.0h0M81.6 55.6h0M82.8 62.3h0M77.3 63.2h0M62.6 45.5h0M61.7 78.9h0M77.6 65.8h0M56.4 47.6h0M61.3 65.8h0M69.5 62.1h0M84.5 61.8h0M52.3 62.9h0M82.0 65.4h0M73.6 67.7h0M58.4 70.5h0M78.2 58.8h0M63.1 52.3h0M70.7 56.8h0M70.1 85.4h0M67.4 75.8h0M68.8 56.1h0M72.8 48.6h0M81.8 64.9h0M71.5 51.1h0M54.7 55.7h0M77.3 56.3h0M60.2 62.1h0M63.0 69.5h0M71.4 65.4h0M70.1 66.4h0M71.2 69.6h0M60.7 45.4h0M63.8 59.8h0M76.2 38.3h0M74.9 67.4h0M64.2 64.9h0M65.1 61.3h0M80.9 54.4h0M78.6 70.2h0M64.2 68.8h0M64.3 54.7h0M82.9 58.4h0M74.5 49.2h0M76.6 69.3h0M76.5 63.4h0M91.3 48.6h0M69.5 64.2h0M73.2 58.9h0M53.3 61.5h0M62.6 49.0h0M74.4 56.3h0M67.1 53.8h0M56.7 77.3h0M67.9 49.1h0M70.3 35.9h0M59.3 49.5h0M47.9 99.0h0M66.5 57.3h0M62.6 63.8h0M49.7 77.4h0M72.9 56.7h0M76.0 52.8h0M69.6 72.6h0M62.7 67.0h0M54.9 69.1h0M67.2 46.1h0M54.6 82.4h0M75.2 56.5h0M67.2 37.7h0M72.8 63.8h0M62.7 69.0h0M70.0 65.8h0M62.2 60.6h0M81.9 62.6h0M55.7 61.9h0M63.9 59.3h0M63.9 76.1h0M59.8 45.7h0M83.7 56.9h0M59.5 56.3h0M73.6 50.2h0M68.0 65.6h0M59.3 64.9h0M69.5 45.9h0M87.9 64.9h0M55.8 88.4h0M73.0 68.4h0M68.2 67.2h0M65.1 60.9h0M69.3 65.5h0M62.7 54.0h0M72.0 59.4h0M48.5 80.4h0M85.8 44.6h0M73.8 65.2h0M93.4 32.6h0M73.6 77.9h0M52.7 55.2h0M77.1 57.5h0M61.9 76.1h0M78.4 64.6h0M76.1 71.5h0M70.4 62.7h0M67.3 69.8h0M56.5 64.0h0M51.6 62.0h0M71.7 55.2h0M82.1 45.7h0M74.0 45.8h0M65.7 55.2h0M66.1 51.7h0M63.7 67.1h0M63.7 82.7h0M60.1 79.4h0M78.8 84.3h0M74.6 46.5h0M71.7 40.5h0M76.6 60.7h0M80.6 53.0h0M70.1 72.9h0M88.2 39.3h0M74.0 72.8h0M69.0 65.6h0M69.5 45.9h0M77.6 62.4h0M72.0 70.3h0M71.3 50.6h0M68.5 60.4h0M76.8 66.8h0M52.7 78.4h0M66.2 58.6h0M76.4 71.5h0M62.1 56.8h0M61.0 61.8h0M60.3 56.4h0M70.4 47.9h0M60.4 72.4h0M72.3 64.3h0M84.7 71.1h0M89.5 66.8h0M78.8 49.7h0M79.6 47.8h0M54.1 65.0h0M53.3 73.3h0M55.2 61.9h0M81.3 55.7h0M75.2 46.2h0M79.0 58.8h0M65.5 60.2h0M45.8 85.2h0M66.8 52.8h0M62.3 68.2h0M53.6 65.1h0M59.0 62.9h0M70.0 53.3h0M55.6 58.8h0M71.0 71.1h0M55.4 75.3h0M80.0 52.0h0M66.0 63.9h0M61.3 65.5h0M59.3 69.6h0M70.5 60.0h0M76.3 58.0h0M61.7 63.2h0M70.2 71.3h0M59.5 51.5h0M70.4 59.2h0M68.8 73.6h0M95.2 36.6h0M70.7 37.4h0M62.3 75.9h0M57.1 58.8h0M58.6 69.1h0M68.7 68.8h0M55.0 66.8h0M52.1 60.3h0M71.9 57.0h0M68.0 55.0h0M75.0 70.1h0M55.1 59.4h0M62.6 64.9h0M77.9 53.4h0M54.3 63.8h0M60.9 53.7h0M66.1 53.7h0M63.6 49.7h0M75.8 46.5h0M59.9 65.6h0M56.5 43.2h0M79.6 55.3h0M77.0 51.6h0M59.8 72.3h0M73.4 46.1h0M80.9 54.7h0M78.6 47.2h0M70.3 64.3h0M77.2 63.6h0M51.3 55.4h0M80.8 51.2h0M73.5 53.5h0M67.9 53.1h0M67.4 75.9h0M75.4 42.3h0M76.3 64.1h0M70.6 64.7h0M72.4 56.3h0M68.7 45.9h0M70.2 42.0h0M66.4 61.3h0M74.8 67.1h0M68.2 71.1h0M69.5 68.0h0M46.7 73.3h0M61.2 55.0h0M76.0 67.0h0M75.6 49.6h0M82.9 51.2h0M70.1 52.0h0M61.6 55.7h0M63.3 78.6h0M75.0 70.3h0M83.0 68.0h0M74.5 51.5h0M58.0 63.4h0M48.7 75.5h0M68.2 63.5h0M64.3 63.5h0M62.0 71.3h0M77.5 61.6h0M55.2 73.9h0M63.8 65.1h0M82.0 54.3h0M56.9 63.4h0M78.9 41.4h0M83.0 60.8h0M78.4 58.3h0M90.4 49.6h0M71.9 55.8h0M74.3 62.1h0M64.7 60.4h0M91.9 49.7h0M77.9 58.6h0M59.6 63.1h0M74.0 70.5h0M67.8 56.9h0M70.9 52.4h0M73.6 59.7h0M70.5 79.2h0M63.6 57.1h0M86.2 58.0h0M67.5 76.4h0M85.0 40.5h0M68.8 55.1h0M63.6 54.4h0M66.5 49.5h0M58.7 65.8h0M60.6 68.7h0M72.8 48.5h0M69.1 69.4h0M50.3 59.0h0M52.6 52.1h0M78.0 51.0h0M77.6 58.4h0M65.4 58.9h0M57.6 56.8h0M73.8 61.5h0M77.8 53.7h0M82.2 49.2h0M70.6 62.7h0M71.2 38.3h0M82.5 60.9h0M65.4 67.6h0M77.8 51.7h0M74.7 62.8h0M77.5 56.5h0M75.3 45.0h0M51.2 67.6h0M74.6 68.0h0M65.0 61.8h0M62.7 73.6h0M47.7 76.1h0M75.6 55.1h0M91.0 36.9h0M74.3 60.9h0M71.0 57.0h0M64.7 64.2h0M70.3 64.1h0M68.6 62.6h0M46.6 57.1h0M65.5 68.2h0M69.6 69.9h0M62.9 69.1h0M76.5 50.2h0M74.5 68.8h0M68.4 62.7h0M56.0 84.4h0M71.2 65.2h0M61.5 70.0h0M64.6 57.1h0M76.9 64.4h0M73.5 42.4h0M62.2 68.7h0M68.7 61.7h0M71.6 72.2h0M65.9 58.8h0M70.2 55.4h0M60.6 64.3h0M73.6 53.8h0M60.8 52.4h0M64.2 35.5h0M69.4 55.3h0M72.2 73.3h0M58.2 62.2h0M83.0 40.4h0M55.0 62.8h0M73.2 65.7h0M73.6 56.9h0M80.4 57.1h0M71.8 47.8h0M67.3 47.8h0M82.0 37.5h0M55.1 54.7h0M70.1 48.3h0M59.1 67.3h0M76.1 56.3h0M81.7 57.1h0M61.0 57.3h0M65.5 61.1h0M70.6 56.8h0M64.9 63.8h0M77.7 59.1h0M69.6 65.7h0M60.6 76.1h0M47.7 61.1h0M55.7 64.2h0M44.5 87.6h0M61.8 44.3h0M90.5 29.9h0M69.1 63.6h0M68.5 69.0h0M87.1 66.5h0M59.7 50.8h0M68.5 60.3h0M69.7 54.6h0M91.7 41.3h0M68.6 51.8h0M66.8 72.6h0M71.8 49.5h0M60.1 48.0h0M66.1 58.5h0M55.8 77.0h0M80.0 55.2h0M70.2 78.1h0M67.7 77.1h0M80.7 60.2h0M48.1 63.7h0M64.0 57.6h0M73.0 65.9h0M80.4 56.7h0M57.3 64.3h0M74.3 57.2h0M75.0 60.6h0M53.3 67.8h0M68.3 41.1h0M70.7 51.4h0M69.3 60.8h0M76.7 47.0h0M66.1 60.2h0M71.4 56.4h0M70.9 56.4h0M64.5 45.0h0M63.3 60.1h0M51.9 85.2h0M73.8 60.6h0M74.0 64.9h0M56.3 56.5h0M74.1 50.2h0M66.1 55.0h0M59.2 64.5h0M70.2 48.3h0M72.0 65.8h0M87.8 43.7h0M71.8 50.2h0M77.0 51.6h0M75.5 70.2h0M68.7 77.0h0M71.7 56.1h0M53.4 56.1h0M53.4 59.3h0M69.2 65.7h0M62.6 46.1h0M87.0 70.5h0M64.4 77.1h0M66.8 59.7h0M64.0 74.2h0M67.2 60.1h0M68.6 49.3h0M83.9 45.3h0M53.3 62.0h0M67.0 69.0h0M83.1 51.1h0M72.5 59.9h0M71.1 68.6h0M63.1 73.3h0M72.2 71.5h0M63.0 64.0h0M71.9 50.4h0M66.7 64.4h0M73.2 47.9h0M67.7 54.9h0M75.1 67.0h0M74.1 52.4h0M47.8 56.8h0M73.0 60.0h0M60.9 54.8h0M65.7 65.0h0M57.0 54.5h0M68.8 85.1h0M65.5 67.4h0M88.7 48.4h0M59.9 76.0h0M68.1 73.8h0M66.2 67.6h0M71.1 60.2h0M68.4 53.2h0M84.1 44.5h0M56.4 60.1h0M59.1 49.5h0M65.6 61.7h0M61.6 82.1h0M71.0 67.2h0M74.0 64.3h0M58.7 77.7h0M69.7 71.0h0M69.6 68.9h0M104.0 39.3h0M67.0 52.0h0M64.3 59.8h0M60.9 53.7h0M75.8 58.1h0M73.2 69.5h0M71.9 57.3h0M70.9 75.1h0M74.4 51.9h0M66.2 67.2h0M50.9 65.6h0M70.8 66.1h0M62.0 62.4h0M69.5 55.4h0M71.0 62.9h0M71.3 39.5h0M62.1 66.7h0M71.7 51.6h0M61.5 63.8h0M78.0 42.4h0M70.3 54.6h0M74.2 52.9h0M102.6 38.5h0M84.9 62.9h0M78.3 50.5h0M74.5 71.8h0M77.7 63.7h0M49.5 53.2h0M79.2 61.1h0M78.5 57.0h0M59.8 58.8h0M73.1 63.4h0M59.5 71.2h0M58.6 64.7h0M71.7 67.1h0M76.5 64.2h0M64.4 61.3h0M59.0 73.1h0M55.7 57.9h0M65.3 63.0h0M91.5 57.1h0M66.0 60.4h0M71.1 55.2h0M78.1 43.1h0M56.3 55.7h0M80.8 53.7h0M70.7 68.9h0M48.4 65.8h0M68.4 56.1h0M67.7 66.4h0M86.4 55.7h0M59.5 61.5h0M80.3 42.0h0M75.0 48.0h0M92.8 53.1h0M62.9 75.7h0M76.1 54.8h0M58.1 69.1h0M77.4 50.6h0M40.2 91.3h0M75.6 49.6h0M63.9 65.5h0M65.4 62.7h0M79.3 53.7h0M62.9 63.9h0M65.0 65.1h0M92.6 62.3h0M80.5 58.8h0M74.0 58.7h0M68.5 55.6h0M60.8 67.7h0M85.8 31.3h0M55.9 59.0h0M75.1 62.8h0M68.1 64.6h0M80.3 57.1h0M71.4 60.9h0M71.8 47.1h0M81.0 58.1h0M66.9 61.0h0M69.0 51.5h0M84.8 45.1h0M65.8 58.7h0M69.4 60.9h0M66.3 65.0h0M80.2 65.7h0M63.8 44.5h0M78.9 61.3h0M54.5 79.1h0M67.7 57.3h0M65.9 69.8h0M69.0 81.1h0M70.5 51.0h0M66.0 64.3h0M70.6 51.1h0M71.2 67.4h0M63.1 80.8h0M78.3 51.8h0M66.4 73.1h0M72.7 54.2h0M73.1 58.3h0M59.8 48.8h0M72.4 58.9h0M67.1 72.8h0M63.3 74.1h0M57.3 74.0h0M63.6 54.0h0M46.7 63.3h0M78.9 58.1h0M79.6 43.6h0M76.3 55.7h0M78.3 58.4h0M62.3 71.8h0M77.4 43.3h0M85.6 45.2h0M79.2 64.8h0M75.3 48.0h0M71.5 54.8h0M79.8 75.8h0M68.2 59.2h0M75.7 53.1h0M72.3 52.3h0M76.2 54.6h0M81.7 57.0h0M77.5 55.1h0M58.4 75.8h0M67.8 50.3h0M70.5 53.6h0M58.8 58.3h0M81.1 69.0h0M71.5 66.5h0M67.9 59.0h0M67.4 57.6h0M60.7 62.1h0M68.6 60.7h0M56.3 74.4h0M65.6 64.3h0M72.7 35.6h0M76.9 62.9h0M76.3 41.3h0M82.8 57.5h0M68.8 60.0h0M71.5 67.7h0M63.5 52.5h0M62.8 69.9h0M66.6 57.9h0M70.6 74.2h0M81.6 72.5h0M63.9 62.9h0M71.0 79.4h0M69.9 83.7h0M55.6 31.0h0M94.5 35.8h0M63.4 49.5h0M55.8 58.9h0M64.5 64.0h0M65.4 43.4h0M91.3 46.8h0M56.6 66.1h0M76.3 44.6h0M57.4 76.7h0M75.2 62.0h0M70.4 65.1h0M67.3 63.0h0M78.2 58.8h0M84.7 70.6h0M46.1 90.2h0M65.3 63.2h0M53.8 69.2h0M56.5 57.1h0M77.7 62.0h0M80.6 55.8h0M42.8 67.5h0M72.6 60.9h0M60.9 50.1h0M71.9 69.5h0M78.8 55.0h0M70.4 54.7h0M62.1 67.9h0M60.5 55.5h0M71.1 51.9h0M82.1 51.8h0M57.5 67.4h0M81.3 51.2h0M64.3 60.8h0M70.4 61.4h0M58.8 43.2h0M57.8 53.8h0M76.9 43.1h0M79.2 66.5h0M76.3 50.1h0M63.1 52.8h0M74.3 66.0h0M61.2 82.1h0M72.7 59.5h0M52.6 63.6h0M70.0 58.6h0M70.1 56.9h0M78.2 51.7h0M79.1 54.8h0M70.7 42.6h0M79.1 51.1h0M54.4 71.4h0M79.4 75.4h0M65.1 70.0h0M59.6 68.0h0M80.8 82.3h0M47.3 89.6h0M71.4 62.0h0M77.9 62.8h0M62.4 64.2h0M77.5 74.1h0M69.6 58.4h0M72.1 53.6h0M74.6 58.5h0M68.2 49.4h0M71.6 66.3h0M81.8 66.9h0M72.5 26.1h0M67.6 64.2h0M69.6 72.5h0M72.2 67.0h0M72.5 66.2h0M81.2 47.7h0" stroke="#858585" stroke-width="1.15" stroke-linecap="round" fill="none"/>
<path d="M52.0 75.5h0M65.8 65.6h0M43.1 105.5h0M47.8 61.4h0M52.4 90.8h0M59.4 83.0h0M78.5 33.0h0M103.6 41.7h0M67.4 69.9h0M62.8 29.0h0M76.3 60.9h0M69.4 46.0h0M95.7 40.0h0M78.4 56.3h0M67.5 55.0h0M71.1 60.4h0M46.8 70.5h0M50.6 92.1h0M43.0 100.5h0M72.1 62.7h0M72.0 51.7h0M104.4 45.8h0M109.2 24.5h0M69.7 55.7h0M67.4 84.3h0M68.5 41.3h0M74.2 59.5h0M58.6 79.8h0M47.2 85.6h0M75.4 51.6h0M102.6 26.2h0M53.7 78.8h0M66.6 40.3h0M50.0 71.1h0M90.7 32.6h0M64.4 78.7h0M77.6 71.8h0M61.1 73.4h0M107.2 62.2h0M83.1 44.0h0M89.5 52.3h0M84.1 26.4h0M88.9 26.0h0M66.0 60.3h0M95.1 68.6h0M46.9 102.9h0M72.3 57.1h0M58.1 97.2h0M84.5 55.4h0M55.7 57.4h0M79.3 55.5h0M44.0 103.5h0M84.1 43.2h0M81.1 74.1h0M60.9 54.8h0M54.3 95.0h0M86.6 44.6h0M77.2 28.1h0M74.0 72.3h0M65.6 87.3h0M74.4 55.0h0M82.7 75.5h0M67.6 76.0h0M69.5 61.7h0M80.7 67.7h0M55.7 88.4h0M89.7 58.1h0M71.1 107.7h0M85.4 49.2h0M77.7 64.9h0M84.5 67.4h0M84.8 50.1h0M79.9 54.9h0M70.4 68.5h0M73.2 71.9h0M49.6 106.6h0M66.2 45.9h0M41.7 88.0h0M39.8 101.8h0M75.5 61.9h0M78.1 39.7h0M83.1 67.6h0M63.5 63.6h0M75.2 13.7h0M84.9 27.7h0M70.6 52.2h0M55.1 89.2h0M59.5 68.2h0M74.8 58.7h0M52.5 71.8h0M97.6 32.4h0M92.7 30.6h0M69.1 82.3h0M79.5 75.2h0M73.7 65.7h0M59.1 56.1h0M68.6 74.3h0M48.3 71.7h0M49.1 93.0h0M53.4 61.8h0M64.2 33.4h0M105.6 28.1h0M72.7 58.7h0M77.1 50.3h0M63.5 63.6h0M60.4 83.8h0M78.7 62.8h0M52.1 83.0h0M69.5 68.1h0M78.3 60.4h0M68.5 72.7h0M62.6 60.0h0M86.4 49.1h0M59.5 89.5h0M54.8 70.6h0M58.8 82.9h0M86.7 68.8h0M60.8 49.0h0M60.9 79.4h0M61.0 69.3h0M73.3 65.9h0M74.2 61.8h0M44.5 72.4h0M75.5 39.3h0M55.5 61.7h0M69.3 59.3h0M39.8 80.3h0M68.3 50.8h0M38.2 72.2h0M49.9 73.1h0M72.2 60.5h0M56.8 65.3h0M64.2 42.8h0M23.7 95.4h0M60.6 48.8h0M88.7 45.4h0M76.3 44.7h0M57.7 98.9h0M106.3 26.3h0M68.5 85.1h0M47.3 64.7h0M68.6 37.8h0M79.4 76.1h0M76.8 61.7h0M64.8 68.2h0M82.9 68.4h0M73.2 59.9h0M67.4 68.1h0M58.2 70.6h0M84.3 32.2h0M60.7 75.4h0M76.4 69.4h0M62.2 47.0h0M76.7 53.6h0M90.0 16.5h0M83.8 28.8h0M54.3 81.2h0M81.3 62.4h0M58.1 58.7h0M69.8 60.6h0M84.2 60.0h0M47.4 74.6h0M72.8 61.2h0M90.6 48.5h0M66.5 59.0h0M64.3 66.0h0M95.0 21.7h0M24.8 114.1h0M92.4 22.9h0M35.3 78.6h0M49.6 83.9h0M60.4 64.4h0M68.9 73.1h0M55.8 54.0h0M58.8 43.6h0M69.9 27.7h0M82.5 62.8h0M42.3 97.2h0M50.5 74.9h0M29.3 95.1h0M56.8 78.7h0M73.4 93.0h0M98.3 42.3h0M46.5 71.0h0M71.6 66.3h0M66.0 69.0h0M77.0 46.5h0M56.4 96.5h0M99.4 42.4h0M64.5 53.4h0M81.0 35.3h0M33.2 97.4h0M65.1 57.1h0M79.1 37.1h0M72.1 59.5h0M71.2 67.3h0M73.6 50.8h0M86.4 42.8h0M38.3 59.9h0M69.8 35.1h0M37.2 70.7h0M92.0 24.4h0M77.2 62.3h0M75.3 39.1h0M62.1 56.5h0M66.2 55.2h0M40.9 64.4h0M68.5 73.6h0M45.0 82.3h0M57.7 45.9h0M58.5 35.6h0M59.2 62.5h0M67.8 77.4h0M78.3 41.3h0M74.7 32.9h0M77.7 62.3h0M51.2 74.7h0M76.0 75.3h0M93.8 57.0h0M48.8 79.5h0M74.8 63.4h0M60.9 68.1h0M68.5 81.4h0M51.3 91.9h0M76.5 52.2h0M83.0 26.5h0M71.8 59.5h0M65.5 84.0h0M66.8 74.9h0M39.9 90.2h0M70.1 78.2h0M74.3 61.0h0M69.5 60.3h0M45.5 90.3h0M53.4 71.2h0M34.8 77.3h0M60.3 89.6h0M45.7 90.0h0M67.4 65.7h0M89.8 41.0h0M66.1 52.9h0M47.3 77.6h0M65.4 49.1h0M100.9 37.8h0M69.3 53.4h0M84.6 49.5h0M56.8 53.5h0M85.1 49.1h0M80.8 41.2h0M69.1 58.3h0M53.7 79.2h0M81.6 71.0h0M87.7 41.5h0M69.4 58.7h0M79.2 64.7h0M40.1 99.8h0M66.1 23.0h0M54.7 51.8h0M53.7 92.4h0M74.0 50.7h0M43.5 96.5h0M60.6 88.7h0M57.7 60.7h0M76.7 32.9h0M59.9 87.2h0M78.1 48.6h0M48.2 73.2h0M41.9 92.6h0M52.7 82.6h0M95.1 36.2h0M47.6 100.0h0M68.6 70.8h0M49.4 107.0h0M52.5 65.1h0M85.3 56.0h0M53.4 116.4h0M81.0 60.6h0M67.4 58.8h0M34.9 75.5h0M61.0 51.5h0M45.4 92.1h0M80.4 26.6h0M73.0 62.2h0M66.5 54.5h0M91.9 69.9h0M83.7 53.7h0M76.7 69.9h0M44.1 45.3h0M70.7 61.1h0M91.5 54.9h0M65.4 91.2h0M60.5 49.8h0M69.9 63.5h0M35.9 58.1h0M68.5 63.1h0M64.0 68.7h0M56.3 83.4h0M58.4 77.9h0M80.5 67.3h0M81.8 49.3h0M77.7 64.2h0M81.6 48.3h0M86.7 66.4h0M100.8 39.9h0M69.5 59.9h0M62.9 72.9h0M75.9 55.2h0M41.1 79.3h0M47.8 53.4h0M71.2 49.1h0M88.3 47.0h0M39.5 71.7h0M91.9 71.5h0M70.1 82.2h0M79.6 38.8h0M78.8 63.6h0M78.8 49.0h0M81.7 58.5h0M85.7 77.4h0M71.9 71.6h0M62.8 60.1h0M68.5 52.2h0M75.9 58.5h0M69.1 52.1h0M82.8 50.1h0M83.6 44.1h0M61.8 63.8h0M77.6 57.1h0M67.9 50.5h0M58.7 78.3h0M73.3 65.0h0M55.0 85.3h0M34.9 72.4h0M43.5 89.6h0M52.3 66.6h0M52.8 86.1h0M46.4 118.3h0M61.5 99.1h0M50.4 69.3h0M75.8 63.6h0M76.5 51.9h0M57.9 76.2h0M59.9 68.1h0M84.3 66.1h0M58.3 74.0h0M40.1 114.2h0M92.2 40.5h0M81.6 54.2h0M79.6 54.6h0M77.0 37.2h0M78.2 70.9h0M80.7 59.8h0M67.0 62.7h0M75.4 44.1h0M61.2 56.0h0M60.5 29.1h0M82.8 33.2h0M60.3 76.4h0M58.9 78.1h0M72.2 82.7h0M52.3 85.1h0M86.0 48.3h0M67.7 71.0h0M94.0 68.0h0M61.1 77.5h0M65.0 53.7h0M33.0 108.0h0M83.4 34.8h0M61.3 68.2h0M46.6 78.5h0M61.1 60.0h0M74.3 56.9h0M83.6 54.5h0M52.0 86.1h0M73.7 59.8h0M40.9 70.3h0M81.4 55.7h0M75.6 60.8h0M62.2 82.0h0M50.1 54.2h0M83.4 33.2h0M97.4 40.0h0M71.9 59.4h0M40.2 80.1h0M56.7 99.3h0M53.3 65.0h0M101.2 5.3h0M81.4 76.7h0M57.0 50.7h0M48.1 77.6h0M71.5 64.9h0M62.1 58.7h0M90.9 8.4h0M59.2 82.8h0M104.8 33.3h0M74.2 46.3h0M32.3 84.0h0M99.9 39.1h0M64.3 21.1h0M65.5 79.8h0M44.7 74.4h0M53.6 63.8h0M52.3 69.3h0M78.5 45.1h0M69.1 41.8h0M87.4 42.6h0M76.5 44.1h0M52.9 80.4h0M63.0 90.9h0M106.2 9.5h0M69.2 66.4h0M71.8 79.4h0M71.3 87.4h0M69.0 67.0h0M61.4 70.5h0M60.7 64.3h0M73.6 61.0h0M72.3 55.9h0M91.5 44.1h0M81.6 47.9h0M72.4 86.3h0M32.1 89.4h0M58.4 72.7h0M73.0 70.4h0M83.7 67.6h0M81.1 40.5h0M93.7 44.9h0M48.1 57.9h0M71.5 67.4h0M59.3 83.2h0M68.0 65.2h0M81.3 65.4h0M58.8 74.0h0M65.6 70.6h0M83.9 35.5h0M63.2 65.1h0M69.5 52.6h0M70.2 48.9h0M84.3 24.9h0M57.2 60.9h0M78.2 62.1h0M73.1 35.5h0M51.2 96.0h0M90.4 47.0h0M71.7 61.3h0M59.8 79.1h0M73.9 44.8h0M59.8 103.2h0M86.6 39.2h0M60.0 78.3h0M63.3 59.2h0M63.5 63.4h0M99.6 14.9h0M75.7 48.0h0M104.7 63.1h0M61.8 77.2h0M57.0 75.4h0M91.8 22.7h0M51.6 52.2h0M63.9 87.5h0M74.9 54.1h0M81.6 40.2h0M51.0 58.5h0M55.9 59.6h0M37.5 83.2h0M81.5 52.4h0M42.2 73.0h0M70.0 83.9h0M68.3 35.2h0M91.6 45.5h0M87.6 49.7h0M67.0 59.1h0M80.5 78.9h0M68.5 83.1h0M38.3 91.2h0M53.5 69.7h0M68.0 58.7h0M69.5 83.6h0M76.6 73.6h0M58.8 48.9h0M79.0 46.3h0M72.0 78.0h0M61.7 68.5h0M80.4 52.9h0M82.7 69.1h0M78.2 78.0h0M56.2 108.6h0M88.4 50.1h0M87.1 13.8h0M79.2 37.2h0M71.6 57.3h0M56.2 91.2h0M47.5 78.5h0M60.1 59.3h0M98.9 58.8h0M51.2 95.0h0M60.5 58.6h0M78.3 48.6h0M54.6 67.9h0M83.5 82.5h0M76.6 75.3h0M90.2 81.2h0M83.1 62.0h0M61.0 63.3h0M80.0 41.1h0M73.3 52.6h0M73.5 53.2h0M65.2 59.8h0M103.0 7.6h0M90.8 43.5h0M77.8 51.7h0M86.6 52.3h0M75.5 51.8h0M77.9 65.8h0M65.5 67.9h0M45.9 94.8h0M67.7 86.0h0M54.0 56.5h0M46.0 88.7h0M102.7 19.7h0M79.6 70.1h0M65.8 72.4h0M56.8 59.3h0M83.2 51.9h0M69.3 73.6h0M58.2 77.7h0M71.9 67.4h0M67.4 85.0h0M60.2 78.8h0M51.9 68.1h0M61.7 31.7h0M55.3 82.1h0M70.3 89.9h0M61.5 52.4h0M62.8 67.6h0M68.6 68.7h0M40.0 96.6h0M65.4 77.6h0M88.8 51.8h0M56.1 80.0h0M69.6 59.3h0M99.6 35.7h0M64.2 111.7h0M47.8 109.7h0M57.2 69.4h0M60.2 66.3h0M78.4 59.1h0M68.9 45.7h0M38.5 92.7h0M88.0 35.2h0M70.1 63.7h0M24.2 98.6h0M75.1 58.9h0M65.5 49.9h0M33.0 104.1h0M81.3 71.8h0M70.2 60.7h0M82.5 69.2h0M81.1 65.7h0M48.0 72.9h0M87.6 51.1h0M28.9 101.0h0M78.0 42.9h0M80.8 62.6h0M53.7 52.8h0M70.6 42.3h0M76.5 68.3h0M57.6 86.1h0M84.6 23.9h0M72.5 59.4h0M65.7 69.1h0M74.5 54.2h0M68.1 63.0h0M57.6 89.4h0M94.5 23.8h0M69.1 76.8h0M82.9 42.2h0M52.2 52.0h0M73.5 82.1h0M90.6 39.4h0M85.3 62.3h0M72.2 65.1h0M47.3 83.9h0M69.2 63.4h0M71.0 77.2h0M93.2 31.7h0M68.4 70.1h0M67.7 45.4h0M79.7 55.8h0M33.4 98.6h0M61.9 51.9h0M65.7 55.0h0M57.2 87.2h0M49.0 66.9h0M33.1 91.3h0M53.6 68.4h0M64.8 78.0h0M73.4 46.2h0M31.0 86.1h0M73.8 89.5h0M24.7 117.8h0M62.8 64.9h0M61.1 76.0h0M79.7 74.8h0M79.5 54.0h0M53.5 91.8h0M67.7 71.8h0M66.0 62.5h0M64.5 86.7h0M80.7 33.4h0M77.4 52.3h0M60.9 69.3h0M91.8 40.2h0M43.5 70.6h0M66.7 58.2h0M59.5 61.5h0M70.2 79.0h0M62.8 57.4h0M53.2 65.7h0M90.2 43.1h0M71.6 55.5h0M90.5 33.8h0M75.5 55.6h0M64.2 84.2h0M52.0 44.2h0M67.1 39.2h0M68.4 68.6h0M67.0 75.2h0M75.7 67.7h0M56.7 82.5h0M52.8 66.8h0M81.9 71.1h0M85.9 48.5h0M74.2 61.6h0M93.6 17.8h0M69.6 56.8h0M53.6 62.2h0M78.3 31.3h0M86.3 81.1h0M77.3 45.7h0M59.9 89.4h0M44.2 79.4h0M43.8 62.4h0M59.3 60.2h0M57.3 72.7h0M73.1 41.8h0M71.5 55.7h0M68.7 55.8h0M59.1 66.0h0M74.6 41.6h0M41.8 58.4h0M81.8 22.7h0M81.7 39.0h0M76.5 62.4h0M68.7 57.9h0M71.0 46.7h0M63.3 84.0h0M67.0 49.8h0M63.8 66.9h0M81.0 54.6h0M71.3 84.2h0M58.5 62.9h0M44.5 78.4h0M44.0 87.7h0M104.1 39.1h0M85.2 52.5h0M77.4 7.7h0M75.4 57.4h0M93.4 35.7h0M61.5 72.5h0M52.7 73.3h0M83.8 41.8h0M54.9 80.3h0M60.9 57.4h0M91.7 54.2h0M67.6 76.4h0M93.7 32.3h0M106.2 30.1h0M77.3 61.1h0M63.6 51.9h0M67.8 56.2h0M80.3 71.4h0M72.2 61.0h0M99.9 21.6h0M66.3 78.5h0M53.5 67.1h0M72.5 86.6h0M48.9 78.7h0M63.0 57.9h0M90.9 44.5h0M76.9 67.8h0M53.2 97.1h0M75.4 53.9h0M91.8 41.7h0M63.7 100.2h0M48.5 87.4h0M70.1 53.0h0M81.6 37.7h0M76.9 48.2h0M72.0 68.8h0M80.3 26.8h0M56.0 90.0h0M82.8 41.4h0M54.8 46.1h0M79.8 51.1h0M86.1 65.8h0M79.7 46.2h0M63.4 68.6h0M84.7 61.0h0M34.7 69.4h0M70.1 66.4h0M57.6 53.2h0M71.6 84.5h0M61.1 55.6h0M86.0 22.2h0M72.7 62.0h0M70.3 64.4h0M72.5 56.2h0M70.6 55.1h0M43.4 88.3h0M66.7 48.0h0M81.9 41.4h0M55.5 62.3h0M76.9 79.4h0M62.6 93.6h0M29.4 86.9h0M78.7 57.1h0M66.1 62.7h0M69.1 61.9h0M61.5 75.6h0M50.4 102.4h0M58.4 51.8h0M62.2 48.1h0M95.4 41.2h0M56.6 80.2h0M52.4 65.5h0M90.4 37.4h0M88.1 35.2h0M65.4 69.3h0M41.8 108.3h0M57.7 63.1h0M35.1 75.9h0M57.9 65.9h0M83.0 71.7h0M61.5 56.8h0M68.1 64.8h0M69.1 59.1h0M49.1 73.5h0M77.5 73.7h0M63.9 100.3h0M55.8 95.1h0M65.3 66.4h0M56.2 62.5h0M56.0 53.7h0M71.7 52.1h0M65.1 98.7h0M80.9 38.2h0M70.3 65.1h0M87.3 33.6h0M76.6 44.7h0M66.2 62.0h0M62.6 67.6h0M88.1 38.8h0M63.8 42.1h0M87.5 26.0h0M66.8 38.2h0M60.4 67.0h0M65.6 49.5h0M72.9 53.0h0M74.7 53.5h0M64.3 85.3h0M85.3 59.1h0M71.7 57.3h0M56.8 69.7h0M65.1 70.5h0M37.1 90.3h0M74.8 43.1h0M63.6 83.8h0M58.6 59.0h0M71.7 59.1h0M55.1 75.2h0M78.2 72.7h0M78.4 50.5h0M50.5 96.3h0M82.1 49.5h0M62.1 81.5h0M37.4 92.2h0M89.0 33.0h0M53.8 62.4h0M63.0 68.6h0M71.2 59.6h0M82.2 64.7h0M67.0 52.4h0M85.8 59.3h0M59.9 58.7h0M74.3 42.7h0M51.9 58.9h0M66.7 44.1h0M70.4 64.3h0M89.3 23.5h0M63.7 53.0h0M61.2 73.6h0M63.3 73.1h0M54.9 68.4h0M72.7 38.2h0M40.3 53.9h0M45.5 114.4h0M79.1 52.2h0M86.0 33.6h0M60.6 63.2h0M63.3 84.5h0M100.8 69.2h0M42.9 113.8h0M82.6 54.8h0M76.2 53.9h0M65.7 56.0h0M66.3 59.3h0M71.4 45.5h0M60.8 65.1h0M70.7 65.6h0M73.2 66.7h0M50.8 79.5h0M83.3 56.4h0M76.2 36.1h0M73.7 52.1h0M93.2 38.0h0M65.9 20.3h0M62.9 93.3h0M92.4 66.7h0M62.2 27.1h0M52.3 90.5h0M56.4 72.4h0M61.6 54.4h0M71.2 62.9h0M82.0 53.7h0M40.8 66.6h0M78.7 48.5h0M82.8 51.5h0M45.6 68.8h0M72.1 78.5h0M62.5 66.5h0M90.0 40.6h0M80.3 52.1h0M79.8 48.3h0M91.1 36.3h0M50.4 56.7h0M54.8 69.0h0M76.1 42.0h0M85.5 69.4h0M81.6 68.8h0M92.0 42.9h0M58.4 47.3h0M71.9 55.5h0M66.2 73.1h0M65.0 47.0h0M73.7 80.0h0M48.1 60.7h0M73.3 48.1h0M46.9 66.6h0M52.1 81.5h0M67.9 80.9h0M54.2 55.9h0M85.0 31.1h0M65.7 67.5h0M75.8 63.0h0M82.7 44.4h0M46.1 71.3h0M74.5 76.4h0M58.0 68.8h0M75.3 46.6h0M85.6 48.3h0M72.7 67.6h0M81.7 77.3h0M78.8 72.0h0M89.1 51.6h0M81.2 40.3h0M62.1 62.5h0M82.3 59.1h0M86.4 34.4h0M69.2 30.3h0M63.9 64.0h0M71.8 52.1h0M82.2 59.2h0M56.6 48.8h0M98.3 33.8h0M41.2 78.9h0M79.7 62.4h0M60.4 57.0h0M96.7 68.5h0M76.1 28.1h0M52.4 75.8h0M77.0 47.8h0M59.5 89.9h0M84.0 70.0h0M74.1 82.0h0M75.4 37.0h0M55.8 64.4h0M84.3 29.8h0M60.2 56.6h0M77.8 75.7h0M61.4 66.1h0M97.2 29.4h0M54.4 36.8h0M77.3 59.2h0M89.2 47.5h0M72.5 39.5h0M67.4 48.9h0M66.8 92.2h0M59.2 87.8h0M57.4 78.4h0M60.8 46.5h0M83.0 58.0h0M76.0 66.8h0M62.6 69.6h0M91.0 48.6h0M76.2 70.5h0M71.8 71.4h0M70.3 52.6h0M76.2 38.3h0M44.1 57.7h0M66.6 77.5h0M89.2 41.4h0M38.2 72.4h0M77.6 34.7h0M76.7 53.3h0M71.0 66.9h0M75.4 61.7h0M56.2 61.6h0M79.9 52.5h0M50.4 103.0h0M91.9 95.3h0M67.4 77.0h0M77.9 39.5h0M55.7 86.8h0M36.5 99.4h0M79.9 45.3h0M67.0 50.1h0M76.0 63.6h0M80.9 58.9h0M61.1 85.3h0M86.0 22.6h0M84.9 51.8h0M72.1 73.1h0M71.2 45.4h0M36.4 117.9h0M73.3 61.3h0M72.7 55.7h0M74.4 60.8h0M82.8 57.7h0M89.3 62.6h0M47.6 81.1h0M68.1 72.6h0M52.6 56.3h0M58.1 85.7h0M45.1 92.9h0M71.2 54.9h0M78.9 67.8h0M51.8 74.9h0M76.7 51.8h0M69.1 48.2h0M56.5 82.9h0M52.9 69.2h0M51.7 66.8h0M61.4 73.3h0M116.3 10.5h0M91.4 64.9h0M59.1 59.5h0M70.1 81.3h0M89.3 34.4h0M44.5 71.4h0M78.0 46.0h0M56.0 63.9h0M70.7 63.2h0M33.6 99.4h0M92.0 11.3h0M65.5 70.4h0M27.4 75.0h0M88.7 50.8h0M46.8 41.4h0M47.1 55.0h0M42.8 81.9h0M82.6 53.1h0M87.3 60.3h0M65.9 73.7h0M38.2 77.1h0M49.6 63.2h0M76.6 64.8h0M118.7 28.8h0M71.8 47.2h0M69.4 84.0h0M76.6 59.4h0M94.7 63.2h0M77.2 91.6h0M44.6 106.5h0M54.9 47.1h0M59.0 75.8h0M45.9 85.6h0M47.6 102.7h0M75.5 51.7h0M70.5 49.6h0M82.9 78.0h0M54.5 91.8h0M76.1 49.8h0M40.1 93.4h0M70.9 52.3h0M86.2 57.0h0M73.3 49.4h0M92.9 27.1h0M62.3 74.1h0M93.7 51.8h0M79.2 53.3h0M44.0 92.4h0M82.0 13.5h0M46.1 86.6h0M55.0 76.0h0M85.7 52.1h0M59.8 75.3h0M76.4 70.2h0M61.9 56.3h0M72.6 64.0h0M86.0 29.9h0M78.2 55.1h0M79.2 53.3h0M71.6 57.9h0M89.4 48.6h0M45.1 85.3h0M71.0 60.9h0M90.8 51.4h0M64.6 74.3h0M75.9 39.0h0M85.3 58.4h0M86.6 42.2h0M56.3 71.8h0M58.4 78.4h0M67.5 65.3h0M50.9 86.8h0M86.1 67.7h0M37.2 80.0h0M66.0 72.4h0M45.4 65.5h0M78.0 68.6h0M50.8 79.8h0M73.2 60.8h0M79.8 25.5h0M67.5 60.6h0M45.9 59.8h0M57.5 57.7h0M77.1 67.9h0M74.9 65.9h0M82.1 28.8h0M90.3 48.4h0M67.3 44.7h0M74.2 68.4h0M82.3 42.4h0M74.6 72.2h0M60.9 93.9h0M91.1 65.4h0M74.3 64.0h0M55.6 72.1h0M52.1 81.6h0M102.0 32.4h0M48.5 71.8h0M67.8 50.4h0M75.3 71.2h0M72.7 62.4h0M79.5 85.5h0M56.1 104.7h0M61.1 57.4h0M73.9 80.1h0M55.1 71.0h0M67.7 41.6h0M80.1 57.4h0M64.6 63.4h0M73.3 72.9h0M67.9 73.1h0M76.6 53.2h0M60.6 62.7h0M45.7 98.4h0M58.0 76.1h0M86.9 13.4h0M55.8 103.6h0M57.0 77.5h0M57.0 45.1h0M93.8 35.6h0M66.9 54.2h0M72.3 49.5h0M57.9 57.6h0M55.4 83.2h0M88.8 16.8h0M69.8 65.6h0M57.0 73.3h0M73.6 55.3h0M78.6 51.0h0M74.9 33.1h0M54.0 84.7h0M98.8 29.7h0M84.9 43.3h0M76.2 68.3h0M76.1 44.5h0M106.4 17.0h0M91.3 51.7h0M38.5 72.8h0M79.3 42.3h0M59.4 77.4h0M80.5 44.6h0M46.1 94.1h0M47.7 109.5h0M82.2 42.9h0M95.1 31.8h0M83.5 65.7h0M69.1 81.5h0M98.1 38.5h0M41.3 88.1h0M95.1 50.5h0M71.9 60.6h0M79.9 46.7h0M83.8 61.5h0M40.0 100.0h0M73.5 60.2h0M48.7 82.6h0M68.6 67.5h0M89.3 50.1h0M74.0 39.7h0M65.2 50.0h0M51.3 74.0h0M69.1 63.6h0M72.9 45.3h0M74.8 73.4h0M58.0 34.4h0M56.4 58.7h0M38.6 70.8h0M49.1 61.3h0M48.3 97.2h0M84.1 56.8h0M73.2 78.9h0M74.8 40.2h0M61.8 72.1h0M59.6 64.4h0M65.2 54.6h0M74.0 68.1h0M72.1 43.3h0M61.4 58.3h0M84.2 35.9h0M68.7 48.5h0M81.7 63.6h0M48.1 82.6h0M59.6 50.9h0M72.6 40.2h0M74.5 66.2h0M76.2 42.3h0M69.6 57.1h0M59.6 72.1h0M79.9 72.2h0M69.4 46.9h0M79.2 32.8h0M62.2 76.8h0M71.4 64.0h0M80.1 64.4h0M62.1 60.2h0M69.9 83.2h0M77.7 36.8h0M58.7 58.0h0M50.0 62.9h0M90.2 66.9h0M71.2 75.8h0M69.5 61.4h0M66.8 78.0h0M55.4 54.3h0M49.8 68.1h0M71.2 61.8h0M56.8 71.8h0M79.9 66.3h0M82.0 43.9h0M64.8 77.7h0M46.2 84.6h0M96.2 18.1h0M75.6 51.8h0M63.0 76.8h0M65.8 69.9h0M86.8 66.0h0M67.5 71.4h0M76.5 65.3h0M95.8 58.9h0M68.9 83.8h0M66.8 37.6h0M45.9 54.8h0M72.7 37.0h0M63.4 63.7h0M77.6 34.7h0M69.6 52.6h0M86.7 26.2h0M51.4 70.6h0M57.9 82.3h0M58.3 78.7h0M66.9 77.6h0M48.7 69.5h0M83.4 71.6h0M65.7 78.5h0M77.8 59.1h0M90.7 54.9h0M74.1 80.4h0M97.3 32.3h0M67.7 58.8h0M65.2 43.9h0M43.3 67.3h0M65.1 75.7h0M70.0 58.9h0M46.5 84.5h0M60.9 72.5h0M71.0 66.3h0M90.5 47.6h0M67.3 61.8h0M53.2 76.2h0M78.1 49.9h0M66.6 53.6h0M81.8 52.9h0M72.3 57.3h0M64.1 74.2h0M63.3 67.6h0M64.6 77.5h0M83.0 39.9h0M97.8 29.4h0M85.6 72.1h0M52.0 78.3h0M52.1 97.7h0M59.7 68.6h0M45.6 66.1h0M69.0 83.2h0M50.4 51.0h0M47.8 86.3h0M60.4 100.2h0M60.9 95.5h0M65.1 72.0h0M44.6 83.0h0M103.0 14.2h0M36.7 112.3h0M55.3 79.5h0M110.2 43.6h0M94.4 23.1h0M80.6 79.3h0M44.0 99.6h0M80.0 60.0h0M65.4 49.1h0M60.4 53.2h0M74.9 50.6h0M60.7 87.5h0M79.3 70.0h0M81.3 67.0h0M69.7 65.6h0M108.0 19.5h0M73.1 68.6h0M68.1 55.8h0M90.9 17.6h0M57.0 97.7h0M85.8 55.1h0M87.0 20.3h0M80.2 60.6h0M70.2 37.3h0M59.2 71.0h0M68.8 32.2h0M51.5 54.4h0M59.8 83.2h0M77.6 39.8h0M62.1 58.3h0M80.8 31.8h0M81.2 66.0h0M73.8 72.5h0M82.2 66.0h0M93.3 66.0h0M77.7 26.9h0M62.6 59.7h0M79.6 53.4h0M64.3 99.9h0M34.4 75.6h0M82.2 58.1h0M57.6 78.4h0M83.4 42.4h0M61.8 60.0h0M74.0 74.1h0M74.8 41.1h0M71.4 76.5h0M63.5 74.9h0M71.9 55.0h0M85.4 47.9h0M70.1 43.9h0M57.1 39.8h0M79.0 41.1h0M69.4 65.6h0M51.5 72.5h0M87.1 35.6h0M61.6 75.2h0M70.1 68.4h0M71.3 63.8h0M58.0 83.6h0M75.6 59.1h0M77.5 46.2h0M54.9 84.4h0M86.4 38.2h0M85.5 57.9h0M84.7 35.2h0M84.9 62.9h0M80.9 67.5h0M79.5 47.7h0M55.2 56.2h0M100.9 36.9h0M72.1 43.8h0M70.9 62.4h0M84.9 79.7h0M70.7 45.7h0M75.8 68.8h0M60.7 56.5h0M83.4 54.5h0M92.9 11.9h0M41.9 59.9h0M91.7 55.8h0M67.6 39.3h0M81.0 73.7h0M68.7 58.3h0M64.9 66.7h0M73.9 75.6h0M72.0 66.8h0M65.6 89.7h0M61.9 69.6h0M102.9 75.7h0M63.5 46.0h0M55.8 80.0h0M101.5 25.3h0M46.9 71.8h0M59.8 7.0h0M91.3 66.1h0M79.8 53.6h0M97.5 35.0h0M51.7 81.7h0M81.0 37.5h0M37.3 74.0h0M79.9 51.9h0M93.2 47.3h0M52.6 76.1h0M81.1 45.8h0M62.8 83.3h0M69.4 74.3h0M93.5 54.9h0M74.6 65.2h0M51.1 64.8h0M71.2 42.4h0M71.6 27.6h0M105.8 35.0h0M61.9 62.2h0M57.3 49.7h0M79.8 60.7h0M53.5 58.3h0M71.0 52.9h0M98.8 69.7h0M57.4 55.2h0M55.2 67.1h0M76.1 36.4h0M74.6 56.4h0M48.3 108.8h0M72.2 80.0h0M74.7 81.0h0M74.6 78.9h0M52.1 84.6h0M68.2 71.4h0M82.8 51.4h0M65.6 56.6h0M71.9 50.7h0M85.3 47.9h0M60.9 59.7h0M77.3 50.9h0M37.0 87.2h0M76.2 63.4h0M66.2 61.5h0M71.0 67.3h0M45.2 59.0h0M71.5 85.4h0M71.3 40.5h0M63.2 85.3h0M56.8 63.5h0M80.7 51.3h0M76.2 60.9h0M48.8 72.4h0M78.5 45.5h0M87.5 10.8h0M70.6 62.2h0M68.1 72.5h0M49.8 63.2h0M61.3 60.1h0M73.1 56.4h0M73.0 73.3h0M86.1 41.1h0M87.1 49.5h0M60.0 52.3h0M61.1 54.9h0M35.5 82.5h0M78.0 41.0h0M49.9 84.2h0M72.4 66.1h0M62.8 51.9h0M62.5 72.8h0M100.3 29.5h0M82.5 20.8h0M67.2 73.6h0M84.9 26.5h0M85.1 39.4h0M51.8 115.9h0M78.1 45.6h0M41.9 83.1h0M70.3 56.5h0M55.2 46.0h0M76.4 38.8h0M72.3 73.1h0M49.2 93.9h0M79.0 56.1h0M68.9 61.8h0M29.2 120.9h0M82.0 36.6h0M95.9 30.6h0M81.7 31.9h0M91.5 44.2h0M77.7 66.7h0M84.6 75.7h0M71.9 55.6h0M60.7 70.0h0M70.2 32.3h0M86.1 58.6h0M34.0 73.7h0M77.6 44.1h0M72.7 48.4h0M57.5 83.6h0M73.6 57.1h0M56.7 76.6h0M69.1 73.1h0M50.6 55.7h0M56.1 61.0h0M84.3 61.0h0M62.5 69.6h0M69.6 60.9h0M79.1 81.6h0M51.6 92.9h0M76.8 74.6h0M71.9 43.0h0M61.0 20.0h0M80.7 54.2h0M78.6 55.0h0M53.5 89.5h0M76.9 54.5h0M79.4 72.9h0M69.5 63.5h0M84.3 47.9h0M59.2 64.8h0M66.6 81.1h0M68.1 74.1h0M48.0 63.7h0M64.1 49.4h0M35.7 91.3h0M28.2 96.2h0M81.3 59.8h0M52.8 69.0h0M91.6 32.8h0M52.6 57.9h0M75.6 39.7h0M50.4 76.5h0M72.1 46.9h0M70.3 78.4h0M61.3 80.0h0M73.6 51.6h0M80.4 32.2h0M82.3 19.7h0M75.1 61.4h0M46.9 90.3h0M65.2 74.0h0M70.8 44.4h0M84.3 57.2h0M68.9 67.9h0M53.4 60.0h0M47.1 67.0h0M80.5 53.7h0M78.8 29.5h0M90.0 53.2h0M89.6 49.4h0M58.3 92.2h0M76.8 58.2h0M82.9 23.3h0M53.7 75.6h0M52.9 60.5h0M72.9 57.6h0M54.3 86.7h0M89.2 51.6h0M63.4 45.2h0M96.7 65.4h0M61.1 92.5h0M54.6 101.4h0M22.7 83.3h0M76.6 54.2h0M87.7 44.0h0M75.0 51.9h0M72.8 55.6h0M82.4 70.9h0M111.3 32.9h0M74.5 60.3h0M71.9 81.0h0M68.8 66.1h0M83.4 72.5h0M69.1 47.2h0M71.4 66.3h0M82.1 42.3h0M66.5 62.7h0M76.7 68.8h0M110.0 38.5h0M51.6 75.4h0M82.4 44.2h0M77.8 56.5h0M63.5 57.5h0M68.6 46.0h0M79.9 38.9h0M79.9 43.9h0M57.8 78.1h0M68.2 82.4h0M70.0 65.2h0M67.7 83.9h0M48.1 76.2h0M81.1 70.7h0M66.7 67.2h0M64.2 55.2h0M65.0 51.9h0M64.3 63.4h0M56.8 100.4h0M53.4 61.6h0M69.5 48.7h0M58.7 94.0h0M29.8 65.2h0M50.0 75.6h0M63.9 27.9h0M71.3 71.6h0M73.4 65.1h0M71.0 49.3h0M60.8 69.0h0M73.2 42.2h0M65.6 53.3h0M82.3 33.2h0M96.8 57.9h0M90.3 55.3h0M71.1 48.1h0M78.9 54.7h0M77.7 43.8h0M76.7 40.5h0M70.1 62.2h0M75.4 46.1h0M111.1 5.3h0M68.1 53.9h0M63.7 36.5h0M77.4 64.9h0M40.3 103.4h0M80.1 43.8h0M65.1 52.1h0M36.4 86.2h0M42.5 77.8h0M72.3 43.7h0M102.3 58.3h0M70.1 62.9h0M61.9 37.1h0M61.4 77.2h0M34.1 92.7h0M69.8 60.8h0M53.6 78.4h0M78.1 64.7h0M62.7 75.1h0M54.5 37.9h0M66.3 63.7h0M97.8 57.0h0M66.5 40.3h0M60.0 73.0h0M46.7 100.3h0M89.1 53.4h0M76.7 78.3h0M73.7 61.4h0M72.2 42.7h0M56.0 90.9h0M68.1 68.2h0M59.5 70.8h0M68.2 73.4h0M87.4 78.9h0M72.9 85.4h0M97.6 15.6h0M51.0 75.3h0M78.4 76.2h0M79.7 71.3h0M43.9 52.1h0M101.2 31.6h0M66.6 85.4h0M77.5 58.8h0M65.8 73.4h0M72.3 74.7h0M99.8 35.4h0M81.2 61.5h0M72.5 59.6h0M78.3 42.6h0M24.0 91.2h0M92.5 25.3h0M54.8 55.9h0M67.7 47.7h0M72.3 35.6h0M49.3 61.2h0M94.4 28.8h0M52.7 61.6h0M65.8 70.7h0M73.2 67.4h0M99.3 65.7h0M68.7 64.9h0M72.8 35.0h0M72.2 55.1h0M64.3 64.1h0M67.6 73.6h0" stroke="#666" stroke-width="1.2" stroke-linecap="round" fill="none"/>
<line x1="56.90" y1="4.00" x2="56.90" y2="131.60" stroke="#555" stroke-width="0.9" stroke-dasharray="2.6 1.9"/>
<line x1="88.00" y1="4.00" x2="88.00" y2="131.60" stroke="#555" stroke-width="0.9" stroke-dasharray="2.6 1.9"/>
<line x1="21.50" y1="38.50" x2="120.50" y2="38.50" stroke="#555" stroke-width="0.9" stroke-dasharray="2.6 1.9"/>
<line x1="21.50" y1="75.10" x2="120.50" y2="75.10" stroke="#555" stroke-width="0.9" stroke-dasharray="2.6 1.9"/>
<line x1="21.50" y1="5.00" x2="21.50" y2="131.60" stroke="#222" stroke-width="0.9"/>
<line x1="21.50" y1="131.60" x2="121.00" y2="131.60" stroke="#222" stroke-width="0.9"/>
<line x1="19.50" y1="11.10" x2="21.50" y2="11.10" stroke="#222" stroke-width="0.8"/>
<text x="18.60" y="13.50" font-size="6.8" text-anchor="end">4</text>
<line x1="19.50" y1="34.00" x2="21.50" y2="34.00" stroke="#222" stroke-width="0.8"/>
<text x="18.60" y="36.40" font-size="6.8" text-anchor="end">2</text>
<line x1="19.50" y1="56.90" x2="21.50" y2="56.90" stroke="#222" stroke-width="0.8"/>
<text x="18.60" y="59.30" font-size="6.8" text-anchor="end">0</text>
<line x1="19.50" y1="79.80" x2="21.50" y2="79.80" stroke="#222" stroke-width="0.8"/>
<text x="18.60" y="82.20" font-size="6.8" text-anchor="end">-2</text>
<line x1="19.50" y1="102.70" x2="21.50" y2="102.70" stroke="#222" stroke-width="0.8"/>
<text x="18.60" y="105.10" font-size="6.8" text-anchor="end">-4</text>
<line x1="19.50" y1="125.60" x2="21.50" y2="125.60" stroke="#222" stroke-width="0.8"/>
<text x="18.60" y="128.00" font-size="6.8" text-anchor="end">-6</text>
<line x1="23.40" y1="131.60" x2="23.40" y2="133.60" stroke="#222" stroke-width="0.8"/>
<text x="23.40" y="139.60" font-size="6.8" text-anchor="middle">-5</text>
<line x1="47.90" y1="131.60" x2="47.90" y2="133.60" stroke="#222" stroke-width="0.8"/>
<text x="47.90" y="139.60" font-size="6.8" text-anchor="middle">-2.5</text>
<line x1="72.40" y1="131.60" x2="72.40" y2="133.60" stroke="#222" stroke-width="0.8"/>
<text x="72.40" y="139.60" font-size="6.8" text-anchor="middle">0</text>
<line x1="96.90" y1="131.60" x2="96.90" y2="133.60" stroke="#222" stroke-width="0.8"/>
<text x="96.90" y="139.60" font-size="6.8" text-anchor="middle">2.5</text>
<text x="70" y="147.3" font-size="7.8" text-anchor="middle" fill="#1a1a1a">log<tspan font-size="70%" dy="1.5">2</tspan><tspan dy="-1.5">(S.I.[</tspan><tspan font-style="italic">b<tspan font-size="145%" dx="-0.1em" letter-spacing="-0.21em">→</tspan>bd</tspan>/<tspan font-style="italic">bd<tspan font-size="145%" dx="-0.1em" letter-spacing="-0.21em">→</tspan>bd</tspan>]), 10 wk</text>
<text x="8.8" y="70.7" font-size="7.6" text-anchor="middle" fill="#1a1a1a" transform="rotate(-90 8.8 70.7)">log<tspan font-size="70%" dy="1.5">2</tspan><tspan dy="-1.5">(S.I.[</tspan><tspan font-style="italic">b<tspan font-size="145%" dx="-0.1em" letter-spacing="-0.21em">→</tspan>bd</tspan>/<tspan font-style="italic">bd<tspan font-size="145%" dx="-0.1em" letter-spacing="-0.21em">→</tspan>bd</tspan>]), 12 wk</text>
<defs><radialGradient id="pb1" gradientUnits="userSpaceOnUse" cx="71.8" cy="18.5" r="11.5"><stop offset="0" stop-color="#5471d0"/><stop offset="0.65" stop-color="#405dc0"/><stop offset="1" stop-color="#2a429c"/></radialGradient><radialGradient id="pg1" gradientUnits="userSpaceOnUse" cx="72.8" cy="18.5" r="11.5"><stop offset="0" stop-color="#eeeeee"/><stop offset="0.65" stop-color="#dddddd"/><stop offset="1" stop-color="#c0c0c0"/></radialGradient></defs>
<path d="M72.80 19.50L72.80 9.50A10 10 0 1 1 67.98 28.26Z" fill="url(#pb1)" stroke="#556" stroke-width="0.4" stroke-linejoin="round"/>
<path d="M72.80 19.50L67.98 28.26A10 10 0 0 1 72.80 9.50Z" fill="url(#pg1)" stroke="#556" stroke-width="0.4" stroke-linejoin="round"/>
<circle cx="72.80" cy="19.50" r="10" fill="none" stroke="#555" stroke-width="0.7"/>
<defs><radialGradient id="pb2" gradientUnits="userSpaceOnUse" cx="104.9" cy="18.5" r="11.5"><stop offset="0" stop-color="#5471d0"/><stop offset="0.65" stop-color="#405dc0"/><stop offset="1" stop-color="#2a429c"/></radialGradient><radialGradient id="pg2" gradientUnits="userSpaceOnUse" cx="105.9" cy="18.5" r="11.5"><stop offset="0" stop-color="#eeeeee"/><stop offset="0.65" stop-color="#dddddd"/><stop offset="1" stop-color="#c0c0c0"/></radialGradient></defs>
<path d="M105.90 19.50L105.90 9.50A10 10 0 0 1 105.90 29.50Z" fill="url(#pb2)" stroke="#556" stroke-width="0.4" stroke-linejoin="round"/>
<path d="M105.90 19.50L105.90 29.50A10 10 0 0 1 105.90 9.50Z" fill="url(#pg2)" stroke="#556" stroke-width="0.4" stroke-linejoin="round"/>
<circle cx="105.90" cy="19.50" r="10" fill="none" stroke="#555" stroke-width="0.7"/>
<defs><radialGradient id="pb3" gradientUnits="userSpaceOnUse" cx="38.6" cy="55.3" r="11.5"><stop offset="0" stop-color="#5471d0"/><stop offset="0.65" stop-color="#405dc0"/><stop offset="1" stop-color="#2a429c"/></radialGradient><radialGradient id="pg3" gradientUnits="userSpaceOnUse" cx="39.6" cy="55.3" r="11.5"><stop offset="0" stop-color="#eeeeee"/><stop offset="0.65" stop-color="#dddddd"/><stop offset="1" stop-color="#c0c0c0"/></radialGradient></defs>
<path d="M39.60 56.30L39.60 46.30A10 10 0 1 1 29.60 56.30Z" fill="url(#pb3)" stroke="#556" stroke-width="0.4" stroke-linejoin="round"/>
<path d="M39.60 56.30L29.60 56.30A10 10 0 0 1 39.60 46.30Z" fill="url(#pg3)" stroke="#556" stroke-width="0.4" stroke-linejoin="round"/>
<circle cx="39.60" cy="56.30" r="10" fill="none" stroke="#555" stroke-width="0.7"/>
<defs><radialGradient id="pb4" gradientUnits="userSpaceOnUse" cx="72.0" cy="55.3" r="11.5"><stop offset="0" stop-color="#5471d0"/><stop offset="0.65" stop-color="#405dc0"/><stop offset="1" stop-color="#2a429c"/></radialGradient><radialGradient id="pg4" gradientUnits="userSpaceOnUse" cx="73.0" cy="55.3" r="11.5"><stop offset="0" stop-color="#eeeeee"/><stop offset="0.65" stop-color="#dddddd"/><stop offset="1" stop-color="#c0c0c0"/></radialGradient></defs>
<path d="M73.00 56.30L73.70 46.32A10 10 0 1 1 68.12 65.03Z" fill="url(#pb4)" stroke="#556" stroke-width="0.4" stroke-linejoin="round"/>
<path d="M73.00 56.30L68.12 65.03A10 10 0 0 1 73.70 46.32Z" fill="url(#pg4)" stroke="#556" stroke-width="0.4" stroke-linejoin="round"/>
<circle cx="73.00" cy="56.30" r="10" fill="none" stroke="#555" stroke-width="0.7"/>
<defs><radialGradient id="pb5" gradientUnits="userSpaceOnUse" cx="105.0" cy="55.3" r="11.5"><stop offset="0" stop-color="#5471d0"/><stop offset="0.65" stop-color="#405dc0"/><stop offset="1" stop-color="#2a429c"/></radialGradient><radialGradient id="pg5" gradientUnits="userSpaceOnUse" cx="106.0" cy="55.3" r="11.5"><stop offset="0" stop-color="#eeeeee"/><stop offset="0.65" stop-color="#dddddd"/><stop offset="1" stop-color="#c0c0c0"/></radialGradient></defs>
<path d="M106.00 56.30L106.00 46.30A10 10 0 0 1 106.00 66.30Z" fill="url(#pb5)" stroke="#556" stroke-width="0.4" stroke-linejoin="round"/>
<path d="M106.00 56.30L106.00 66.30A10 10 0 0 1 106.00 46.30Z" fill="url(#pg5)" stroke="#556" stroke-width="0.4" stroke-linejoin="round"/>
<circle cx="106.00" cy="56.30" r="10" fill="none" stroke="#555" stroke-width="0.7"/>
<defs><radialGradient id="pb6" gradientUnits="userSpaceOnUse" cx="38.6" cy="101.0" r="11.5"><stop offset="0" stop-color="#5471d0"/><stop offset="0.65" stop-color="#405dc0"/><stop offset="1" stop-color="#2a429c"/></radialGradient><radialGradient id="pg6" gradientUnits="userSpaceOnUse" cx="39.6" cy="101.0" r="11.5"><stop offset="0" stop-color="#eeeeee"/><stop offset="0.65" stop-color="#dddddd"/><stop offset="1" stop-color="#c0c0c0"/></radialGradient></defs>
<path d="M39.60 102.00L39.60 92.00A10 10 0 1 1 31.51 96.12Z" fill="url(#pb6)" stroke="#556" stroke-width="0.4" stroke-linejoin="round"/>
<path d="M39.60 102.00L31.51 96.12A10 10 0 0 1 39.60 92.00Z" fill="url(#pg6)" stroke="#556" stroke-width="0.4" stroke-linejoin="round"/>
<circle cx="39.60" cy="102.00" r="10" fill="none" stroke="#555" stroke-width="0.7"/>
<defs><radialGradient id="pb7" gradientUnits="userSpaceOnUse" cx="71.8" cy="101.2" r="11.5"><stop offset="0" stop-color="#5471d0"/><stop offset="0.65" stop-color="#405dc0"/><stop offset="1" stop-color="#2a429c"/></radialGradient><radialGradient id="pg7" gradientUnits="userSpaceOnUse" cx="72.8" cy="101.2" r="11.5"><stop offset="0" stop-color="#eeeeee"/><stop offset="0.65" stop-color="#dddddd"/><stop offset="1" stop-color="#c0c0c0"/></radialGradient></defs>
<path d="M72.80 102.20L75.22 92.50A10 10 0 1 1 64.75 108.13Z" fill="url(#pb7)" stroke="#556" stroke-width="0.4" stroke-linejoin="round"/>
<path d="M72.80 102.20L64.75 108.13A10 10 0 0 1 75.22 92.50Z" fill="url(#pg7)" stroke="#556" stroke-width="0.4" stroke-linejoin="round"/>
<circle cx="72.80" cy="102.20" r="10" fill="none" stroke="#555" stroke-width="0.7"/>
<text x="72.50" y="36.00" font-size="7.3" text-anchor="middle">122</text>
<text x="105.00" y="36.00" font-size="7.3" text-anchor="middle">45</text>
<text x="39.60" y="73.60" font-size="7.3" text-anchor="middle">179</text>
<text x="70.50" y="73.60" font-size="7.3" text-anchor="middle">2061</text>
<text x="106.00" y="73.60" font-size="7.3" text-anchor="middle">113</text>
<text x="38.70" y="121.40" font-size="7.3" text-anchor="middle">280</text>
<text x="71.60" y="121.40" font-size="7.3" text-anchor="middle">359</text>
<text x="49.70" y="130.00" font-size="7.3" text-anchor="middle">Q2</text>
<line x1="149.70" y1="6.20" x2="149.70" y2="65.50" stroke="#444" stroke-width="1.0"/>
<line x1="148.00" y1="20.90" x2="150.00" y2="20.90" stroke="#222" stroke-width="0.8"/>
<text x="148.00" y="23.10" font-size="6.3" text-anchor="end">1.5</text>
<line x1="148.00" y1="38.40" x2="150.00" y2="38.40" stroke="#222" stroke-width="0.8"/>
<text x="148.00" y="40.60" font-size="6.3" text-anchor="end">1</text>
<line x1="148.00" y1="55.90" x2="150.00" y2="55.90" stroke="#222" stroke-width="0.8"/>
<text x="148.00" y="58.10" font-size="6.3" text-anchor="end">0.5</text>
<rect x="154.30" y="38.40" width="4.70" height="20.30" fill="#e2e2e2" stroke="#777" stroke-width="0.6"/>
<rect x="159.50" y="23.70" width="4.30" height="14.70" fill="#3b5bb8" stroke="#223" stroke-width="0.6"/>
<rect x="169.50" y="32.80" width="4.60" height="5.60" fill="#e2e2e2" stroke="#777" stroke-width="0.6"/>
<rect x="174.50" y="38.40" width="4.30" height="4.20" fill="#3b5bb8" stroke="#223" stroke-width="0.6"/>
<line x1="150.00" y1="38.40" x2="181.00" y2="38.40" stroke="#222" stroke-width="0.9"/>
<text x="157.00" y="64.20" font-size="5.4" text-anchor="middle">0.42</text>
<text x="161.00" y="22.00" font-size="5.4" text-anchor="middle">1.42</text>
<text x="172.10" y="31.70" font-size="5.4" text-anchor="middle">1.16</text>
<text x="176.10" y="48.40" font-size="5.4" text-anchor="middle">0.88</text>
<circle cx="159.2" cy="14.4" r="1.05" fill="#111"/>
<text x="166.00" y="9.80" font-size="7.5"></text>
<line x1="149.70" y1="76.20" x2="149.70" y2="131.40" stroke="#444" stroke-width="1.0"/>
<line x1="148.00" y1="87.00" x2="150.00" y2="87.00" stroke="#222" stroke-width="0.8"/>
<text x="148.00" y="89.20" font-size="6.3" text-anchor="end">1.5</text>
<line x1="148.00" y1="104.50" x2="150.00" y2="104.50" stroke="#222" stroke-width="0.8"/>
<text x="148.00" y="106.70" font-size="6.3" text-anchor="end">1</text>
<line x1="148.00" y1="122.00" x2="150.00" y2="122.00" stroke="#222" stroke-width="0.8"/>
<text x="148.00" y="124.20" font-size="6.3" text-anchor="end">0.5</text>
<rect x="154.30" y="104.50" width="4.70" height="16.10" fill="#e2e2e2" stroke="#777" stroke-width="0.6"/>
<rect x="159.50" y="92.95" width="4.30" height="11.55" fill="#3b5bb8" stroke="#223" stroke-width="0.6"/>
<rect x="169.50" y="104.15" width="4.60" height="0.35" fill="#e2e2e2" stroke="#777" stroke-width="0.6"/>
<rect x="174.50" y="104.50" width="4.30" height="0.70" fill="#3b5bb8" stroke="#223" stroke-width="0.6"/>
<line x1="150.00" y1="104.50" x2="181.00" y2="104.50" stroke="#222" stroke-width="0.9"/>
<text x="157.00" y="125.60" font-size="5.4" text-anchor="middle">0.54</text>
<text x="161.00" y="91.30" font-size="5.4" text-anchor="middle">1.33</text>
<text x="171.50" y="103.40" font-size="5.4" text-anchor="middle">1.01</text>
<text x="176.10" y="110.60" font-size="5.4" text-anchor="middle">0.98</text>
<circle cx="159.2" cy="83.8" r="1.05" fill="#111"/>
<text x="166.00" y="79.80" font-size="7.5"></text>
<text x="166.00" y="9.40" font-size="6.6" text-anchor="middle">10 wk</text>
<text x="166.00" y="79.60" font-size="6.6" text-anchor="middle">12 wk</text>
<text x="137.00" y="72.00" font-size="8.2" text-anchor="middle" transform="rotate(-90 137.00 72.00)">O/E ratio</text>
<text x="148.70" y="137.80" font-size="6.6" textLength="76.9" lengthAdjust="spacingAndGlyphs">&lt;0.33 &gt;3.0  rel. expression</text>
<rect x="142.30" y="143.60" width="3.40" height="3.40" fill="#e4e4e4" stroke="#888" stroke-width="0.6"/>
<text x="146.60" y="147.30" font-size="7.9">Ub</text>
<rect x="158.90" y="144.00" width="3.00" height="3.00" fill="#4a5aa8" stroke="#334" stroke-width="0.4"/>
<text x="162.20" y="147.30" font-size="7.9">TRA</text>
<text x="182.8" y="147.3" font-size="7.6" font-style="italic" fill="#1a1a1a">*p&lt;0.001</text>
<text x="216.70" y="8.70" font-size="10.8" font-weight="bold" fill="#000">B</text>
<rect x="247" y="29.7" width="76.50" height="75.3" fill="none" stroke="#222" stroke-width="0.9"/>
<line x1="245.00" y1="29.70" x2="247.00" y2="29.70" stroke="#222" stroke-width="0.8"/>
<text x="244.60" y="32.10" font-size="6.8" text-anchor="end">1</text>
<line x1="245.00" y1="44.76" x2="247.00" y2="44.76" stroke="#222" stroke-width="0.8"/>
<text x="244.60" y="47.16" font-size="6.8" text-anchor="end">0.9</text>
<line x1="245.00" y1="59.82" x2="247.00" y2="59.82" stroke="#222" stroke-width="0.8"/>
<text x="244.60" y="62.22" font-size="6.8" text-anchor="end">0.8</text>
<line x1="245.00" y1="74.88" x2="247.00" y2="74.88" stroke="#222" stroke-width="0.8"/>
<text x="244.60" y="77.28" font-size="6.8" text-anchor="end">0.7</text>
<line x1="245.00" y1="89.94" x2="247.00" y2="89.94" stroke="#222" stroke-width="0.8"/>
<text x="244.60" y="92.34" font-size="6.8" text-anchor="end">0.6</text>
<line x1="245.00" y1="105.00" x2="247.00" y2="105.00" stroke="#222" stroke-width="0.8"/>
<text x="244.60" y="107.40" font-size="6.8" text-anchor="end">0.5</text>
<line x1="247.85" y1="105.00" x2="247.85" y2="106.40" stroke="#222" stroke-width="0.7"/>
<line x1="254.30" y1="105.00" x2="254.30" y2="107.20" stroke="#222" stroke-width="0.7"/>
<line x1="260.75" y1="105.00" x2="260.75" y2="106.40" stroke="#222" stroke-width="0.7"/>
<line x1="267.20" y1="105.00" x2="267.20" y2="106.40" stroke="#222" stroke-width="0.7"/>
<line x1="273.65" y1="105.00" x2="273.65" y2="106.40" stroke="#222" stroke-width="0.7"/>
<line x1="280.10" y1="105.00" x2="280.10" y2="106.40" stroke="#222" stroke-width="0.7"/>
<line x1="286.55" y1="105.00" x2="286.55" y2="107.20" stroke="#222" stroke-width="0.7"/>
<line x1="293.00" y1="105.00" x2="293.00" y2="106.40" stroke="#222" stroke-width="0.7"/>
<line x1="299.45" y1="105.00" x2="299.45" y2="106.40" stroke="#222" stroke-width="0.7"/>
<line x1="305.90" y1="105.00" x2="305.90" y2="106.40" stroke="#222" stroke-width="0.7"/>
<line x1="312.35" y1="105.00" x2="312.35" y2="106.40" stroke="#222" stroke-width="0.7"/>
<line x1="318.80" y1="105.00" x2="318.80" y2="107.20" stroke="#222" stroke-width="0.7"/>
<text x="254.30" y="114.10" font-size="6.8" text-anchor="middle">5</text>
<text x="286.55" y="114.10" font-size="6.8" text-anchor="middle">10</text>
<text x="318.80" y="114.10" font-size="6.8" text-anchor="middle">15</text>
<text x="285.2" y="12.8" font-size="7.6" text-anchor="middle" fill="#1a1a1a"><tspan font-style="italic">bd<tspan font-size="145%" dx="-0.1em" letter-spacing="-0.21em">→</tspan>bd</tspan> vs. <tspan font-style="italic">b<tspan font-size="145%" dx="-0.1em" letter-spacing="-0.21em">→</tspan>bd</tspan> +Fgf7</text>
<text x="273.65" y="42.90" font-size="6.6" text-anchor="middle" font-style="italic">Fgf7</text>
<line x1="269.75" y1="46.40" x2="274.45" y2="46.40" stroke="#333" stroke-width="0.6"/>
<path d="M276.25 46.4l-2.2 -1.2v2.4z" fill="#111"/>
<text x="275.95" y="87.40" font-size="6.6" text-anchor="middle" transform="rotate(-90 275.95 87.40)">HSCT</text>
<line x1="273.65" y1="96.20" x2="273.65" y2="100.60" stroke="#222" stroke-width="0.7"/>
<path d="M273.65 102.5l-1.25 -2.5h2.5z" fill="#222"/>
<polyline points="286.55,61.33 299.45,56.06 318.80,48.52" fill="none" stroke="#333" stroke-width="0.9"/>
<polyline points="286.55,84.67 299.45,71.87 318.80,58.31" fill="none" stroke="#2c44a4" stroke-width="0.9"/>
<rect x="284.55" y="59.33" width="4.00" height="4.00" fill="#ececec" stroke="#888" stroke-width="0.9"/>
<rect x="297.45" y="54.06" width="4.00" height="4.00" fill="#ececec" stroke="#888" stroke-width="0.9"/>
<rect x="316.80" y="46.52" width="4.00" height="4.00" fill="#ececec" stroke="#888" stroke-width="0.9"/>
<rect x="284.65" y="82.77" width="3.80" height="3.80" fill="#233f99" stroke="#1a2a70" stroke-width="0.5"/>
<rect x="297.55" y="69.97" width="3.80" height="3.80" fill="#233f99" stroke="#1a2a70" stroke-width="0.5"/>
<rect x="316.90" y="56.41" width="3.80" height="3.80" fill="#233f99" stroke="#1a2a70" stroke-width="0.5"/>
<circle cx="286.55" cy="55.30" r="1.15" fill="#111"/>
<circle cx="299.45" cy="50.20" r="1.15" fill="#111"/>
<circle cx="318.80" cy="42.70" r="1.15" fill="#111"/>
<circle cx="286.55" cy="80.00" r="1.15" fill="#111"/>
<circle cx="299.45" cy="66.00" r="1.15" fill="#111"/>
<circle cx="318.80" cy="53.50" r="1.15" fill="#111"/>
<rect x="342.4" y="29.7" width="75.90" height="75.3" fill="none" stroke="#222" stroke-width="0.9"/>
<line x1="340.40" y1="29.70" x2="342.40" y2="29.70" stroke="#222" stroke-width="0.8"/>
<text x="340.00" y="32.10" font-size="6.8" text-anchor="end">1</text>
<line x1="340.40" y1="44.76" x2="342.40" y2="44.76" stroke="#222" stroke-width="0.8"/>
<text x="340.00" y="47.16" font-size="6.8" text-anchor="end">0.9</text>
<line x1="340.40" y1="59.82" x2="342.40" y2="59.82" stroke="#222" stroke-width="0.8"/>
<text x="340.00" y="62.22" font-size="6.8" text-anchor="end">0.8</text>
<line x1="340.40" y1="74.88" x2="342.40" y2="74.88" stroke="#222" stroke-width="0.8"/>
<text x="340.00" y="77.28" font-size="6.8" text-anchor="end">0.7</text>
<line x1="340.40" y1="89.94" x2="342.40" y2="89.94" stroke="#222" stroke-width="0.8"/>
<text x="340.00" y="92.34" font-size="6.8" text-anchor="end">0.6</text>
<line x1="340.40" y1="105.00" x2="342.40" y2="105.00" stroke="#222" stroke-width="0.8"/>
<text x="340.00" y="107.40" font-size="6.8" text-anchor="end">0.5</text>
<line x1="343.25" y1="105.00" x2="343.25" y2="106.40" stroke="#222" stroke-width="0.7"/>
<line x1="349.70" y1="105.00" x2="349.70" y2="107.20" stroke="#222" stroke-width="0.7"/>
<line x1="356.15" y1="105.00" x2="356.15" y2="106.40" stroke="#222" stroke-width="0.7"/>
<line x1="362.60" y1="105.00" x2="362.60" y2="106.40" stroke="#222" stroke-width="0.7"/>
<line x1="369.05" y1="105.00" x2="369.05" y2="106.40" stroke="#222" stroke-width="0.7"/>
<line x1="375.50" y1="105.00" x2="375.50" y2="106.40" stroke="#222" stroke-width="0.7"/>
<line x1="381.95" y1="105.00" x2="381.95" y2="107.20" stroke="#222" stroke-width="0.7"/>
<line x1="388.40" y1="105.00" x2="388.40" y2="106.40" stroke="#222" stroke-width="0.7"/>
<line x1="394.85" y1="105.00" x2="394.85" y2="106.40" stroke="#222" stroke-width="0.7"/>
<line x1="401.30" y1="105.00" x2="401.30" y2="106.40" stroke="#222" stroke-width="0.7"/>
<line x1="407.75" y1="105.00" x2="407.75" y2="106.40" stroke="#222" stroke-width="0.7"/>
<line x1="414.20" y1="105.00" x2="414.20" y2="107.20" stroke="#222" stroke-width="0.7"/>
<text x="349.70" y="114.10" font-size="6.8" text-anchor="middle">5</text>
<text x="381.95" y="114.10" font-size="6.8" text-anchor="middle">10</text>
<text x="414.20" y="114.10" font-size="6.8" text-anchor="middle">15</text>
<text x="376.5" y="12.8" font-size="7.6" text-anchor="middle" fill="#1a1a1a"><tspan font-style="italic">bd<tspan font-size="145%" dx="-0.1em" letter-spacing="-0.21em">→</tspan>bd</tspan> vs. <tspan font-style="italic">b<tspan font-size="145%" dx="-0.1em" letter-spacing="-0.21em">→</tspan>bd</tspan></text>
<text x="368.05" y="42.90" font-size="6.6" text-anchor="middle">Fgf7</text>
<line x1="365.15" y1="46.40" x2="369.85" y2="46.40" stroke="#333" stroke-width="0.6"/>
<path d="M371.65 46.4l-2.2 -1.2v2.4z" fill="#111"/>
<text x="371.35" y="87.40" font-size="6.6" text-anchor="middle" transform="rotate(-90 371.35 87.40)">HSCT</text>
<line x1="369.05" y1="96.20" x2="369.05" y2="100.60" stroke="#222" stroke-width="0.7"/>
<path d="M369.05 102.5l-1.25 -2.5h2.5z" fill="#222"/>
<polyline points="381.95,54.55 394.85,66.60" fill="none" stroke="#333" stroke-width="0.9"/>
<polyline points="381.95,74.88 394.85,86.17" fill="none" stroke="#2c44a4" stroke-width="0.9"/>
<rect x="379.95" y="52.55" width="4.00" height="4.00" fill="#ececec" stroke="#888" stroke-width="0.9"/>
<rect x="392.85" y="64.60" width="4.00" height="4.00" fill="#ececec" stroke="#888" stroke-width="0.9"/>
<rect x="380.05" y="72.98" width="3.80" height="3.80" fill="#233f99" stroke="#1a2a70" stroke-width="0.5"/>
<rect x="392.95" y="84.27" width="3.80" height="3.80" fill="#233f99" stroke="#1a2a70" stroke-width="0.5"/>
<circle cx="381.95" cy="49.20" r="1.15" fill="#111"/>
<circle cx="394.85" cy="61.30" r="1.15" fill="#111"/>
<circle cx="381.95" cy="69.60" r="1.15" fill="#111"/>
<circle cx="394.85" cy="80.90" r="1.15" fill="#111"/>
<rect x="441.8" y="29.7" width="76.60" height="75.3" fill="none" stroke="#222" stroke-width="0.9"/>
<line x1="439.80" y1="29.70" x2="441.80" y2="29.70" stroke="#222" stroke-width="0.8"/>
<text x="439.40" y="32.10" font-size="6.8" text-anchor="end">1</text>
<line x1="439.80" y1="44.76" x2="441.80" y2="44.76" stroke="#222" stroke-width="0.8"/>
<text x="439.40" y="47.16" font-size="6.8" text-anchor="end">0.9</text>
<line x1="439.80" y1="59.82" x2="441.80" y2="59.82" stroke="#222" stroke-width="0.8"/>
<text x="439.40" y="62.22" font-size="6.8" text-anchor="end">0.8</text>
<line x1="439.80" y1="74.88" x2="441.80" y2="74.88" stroke="#222" stroke-width="0.8"/>
<text x="439.40" y="77.28" font-size="6.8" text-anchor="end">0.7</text>
<line x1="439.80" y1="89.94" x2="441.80" y2="89.94" stroke="#222" stroke-width="0.8"/>
<text x="439.40" y="92.34" font-size="6.8" text-anchor="end">0.6</text>
<line x1="439.80" y1="105.00" x2="441.80" y2="105.00" stroke="#222" stroke-width="0.8"/>
<text x="439.40" y="107.40" font-size="6.8" text-anchor="end">0.5</text>
<line x1="443.25" y1="105.00" x2="443.25" y2="106.40" stroke="#222" stroke-width="0.7"/>
<line x1="449.70" y1="105.00" x2="449.70" y2="107.20" stroke="#222" stroke-width="0.7"/>
<line x1="456.15" y1="105.00" x2="456.15" y2="106.40" stroke="#222" stroke-width="0.7"/>
<line x1="462.60" y1="105.00" x2="462.60" y2="106.40" stroke="#222" stroke-width="0.7"/>
<line x1="469.05" y1="105.00" x2="469.05" y2="106.40" stroke="#222" stroke-width="0.7"/>
<line x1="475.50" y1="105.00" x2="475.50" y2="106.40" stroke="#222" stroke-width="0.7"/>
<line x1="481.95" y1="105.00" x2="481.95" y2="107.20" stroke="#222" stroke-width="0.7"/>
<line x1="488.40" y1="105.00" x2="488.40" y2="106.40" stroke="#222" stroke-width="0.7"/>
<line x1="494.85" y1="105.00" x2="494.85" y2="106.40" stroke="#222" stroke-width="0.7"/>
<line x1="501.30" y1="105.00" x2="501.30" y2="106.40" stroke="#222" stroke-width="0.7"/>
<line x1="507.75" y1="105.00" x2="507.75" y2="106.40" stroke="#222" stroke-width="0.7"/>
<line x1="514.20" y1="105.00" x2="514.20" y2="107.20" stroke="#222" stroke-width="0.7"/>
<text x="449.70" y="114.10" font-size="6.8" text-anchor="middle">5</text>
<text x="481.95" y="114.10" font-size="6.8" text-anchor="middle">10</text>
<text x="514.20" y="114.10" font-size="6.8" text-anchor="middle">15</text>
<text x="474" y="12.8" font-size="7.6" text-anchor="middle" fill="#1a1a1a"><tspan font-style="italic">b<tspan font-size="145%" dx="-0.1em" letter-spacing="-0.21em">→</tspan>bd</tspan> vs. <tspan font-style="italic">b<tspan font-size="145%" dx="-0.1em" letter-spacing="-0.21em">→</tspan>bd</tspan> +Fgf7</text>
<text x="468.75" y="42.90" font-size="6.6" text-anchor="middle" font-style="italic">Fgf7</text>
<line x1="465.15" y1="46.40" x2="469.85" y2="46.40" stroke="#333" stroke-width="0.6"/>
<path d="M471.65 46.4l-2.2 -1.2v2.4z" fill="#111"/>
<text x="471.35" y="87.40" font-size="6.6" text-anchor="middle" transform="rotate(-90 471.35 87.40)">HSCT</text>
<line x1="469.05" y1="96.20" x2="469.05" y2="100.60" stroke="#222" stroke-width="0.7"/>
<path d="M469.05 102.5l-1.25 -2.5h2.5z" fill="#222"/>
<polyline points="481.95,42.20 494.85,49.58" fill="none" stroke="#333" stroke-width="0.9"/>
<polyline points="481.95,45.51 494.85,51.24" fill="none" stroke="#2c44a4" stroke-width="0.9"/>
<rect x="479.95" y="40.20" width="4.00" height="4.00" fill="#ececec" stroke="#888" stroke-width="0.9"/>
<rect x="492.85" y="47.58" width="4.00" height="4.00" fill="#ececec" stroke="#888" stroke-width="0.9"/>
<rect x="480.05" y="43.61" width="3.80" height="3.80" fill="#233f99" stroke="#1a2a70" stroke-width="0.5"/>
<rect x="492.95" y="49.34" width="3.80" height="3.80" fill="#233f99" stroke="#1a2a70" stroke-width="0.5"/>
<circle cx="481.95" cy="36.80" r="1.15" fill="#111"/>
<circle cx="494.85" cy="43.80" r="1.15" fill="#111"/>
<circle cx="481.95" cy="51.10" r="1.15" fill="#111"/>
<circle cx="494.85" cy="56.60" r="1.15" fill="#111"/>
<text x="231" y="67.6" font-size="8.1" text-anchor="middle" fill="#1a1a1a" transform="rotate(-90 231 67.6)">Pearson's <tspan font-style="italic">r</tspan></text>
<text x="382.00" y="124.20" font-size="8" text-anchor="middle">age (wk)</text>
<rect x="479.40" y="119.40" width="3.60" height="3.60" fill="#e0e0e0" stroke="#999" stroke-width="0.6"/>
<text x="484.00" y="123.10" font-size="7.6">Ub</text>
<rect x="496.50" y="119.70" width="3.30" height="3.30" fill="#3d4c9c" stroke="#334" stroke-width="0.4"/>
<text x="501.40" y="123.10" font-size="7.6">TRA</text>
<text x="486.8" y="130.7" font-size="7.1" font-style="italic" fill="#1a1a1a">*p&lt;0.001</text>
<text x="0.90" y="162.10" font-size="10.8" font-weight="bold" fill="#000">C</text>
<path d="M45.50 198.80L45.50 179.20A19.6 19.6 0 0 1 50.57 179.87Z" fill="#2643a8" stroke="#4a5a8a" stroke-width="0.45" stroke-linejoin="round"/>
<path d="M45.50 198.80L50.57 179.87A19.6 19.6 0 0 1 56.74 182.74Z" fill="#3a5bbd" stroke="#4a5a8a" stroke-width="0.45" stroke-linejoin="round"/>
<path d="M45.50 198.80L56.74 182.74A19.6 19.6 0 0 1 60.51 186.20Z" fill="#5f78c6" stroke="#4a5a8a" stroke-width="0.45" stroke-linejoin="round"/>
<path d="M45.50 198.80L60.51 186.20A19.6 19.6 0 0 1 62.81 189.60Z" fill="#7d91d0" stroke="#4a5a8a" stroke-width="0.45" stroke-linejoin="round"/>
<path d="M45.50 198.80L62.81 189.60A19.6 19.6 0 0 1 64.91 196.07Z" fill="#97a8da" stroke="#4a5a8a" stroke-width="0.45" stroke-linejoin="round"/>
<path d="M45.50 198.80L64.91 196.07A19.6 19.6 0 0 1 64.80 202.20Z" fill="#c8d0ec" stroke="#4a5a8a" stroke-width="0.45" stroke-linejoin="round"/>
<path d="M45.50 198.80L64.80 202.20A19.6 19.6 0 1 1 45.50 179.20Z" fill="#fff" stroke="#4a5a8a" stroke-width="0.45" stroke-linejoin="round"/>
<circle cx="45.50" cy="198.80" r="19.6" fill="none" stroke="#777" stroke-width="0.7"/>
<path d="M44.90 269.40L44.90 249.90A19.5 19.5 0 0 1 50.27 250.66Z" fill="#2643a8" stroke="#4a5a8a" stroke-width="0.45" stroke-linejoin="round"/>
<path d="M44.90 269.40L50.27 250.66A19.5 19.5 0 0 1 61.96 259.95Z" fill="#3a5bbd" stroke="#4a5a8a" stroke-width="0.45" stroke-linejoin="round"/>
<path d="M44.90 269.40L61.96 259.95A19.5 19.5 0 0 1 64.10 266.01Z" fill="#5f78c6" stroke="#4a5a8a" stroke-width="0.45" stroke-linejoin="round"/>
<path d="M44.90 269.40L64.10 266.01A19.5 19.5 0 0 1 64.39 268.72Z" fill="#7d91d0" stroke="#4a5a8a" stroke-width="0.45" stroke-linejoin="round"/>
<path d="M44.90 269.40L64.39 268.72A19.5 19.5 0 0 1 64.25 271.78Z" fill="#97a8da" stroke="#4a5a8a" stroke-width="0.45" stroke-linejoin="round"/>
<path d="M44.90 269.40L64.25 271.78A19.5 19.5 0 0 1 61.44 279.73Z" fill="#aebbe2" stroke="#4a5a8a" stroke-width="0.45" stroke-linejoin="round"/>
<path d="M44.90 269.40L61.44 279.73A19.5 19.5 0 0 1 32.11 284.12Z" fill="#c8d0ec" stroke="#4a5a8a" stroke-width="0.45" stroke-linejoin="round"/>
<path d="M44.90 269.40L32.11 284.12A19.5 19.5 0 0 1 44.90 249.90Z" fill="#fff" stroke="#4a5a8a" stroke-width="0.45" stroke-linejoin="round"/>
<circle cx="44.90" cy="269.40" r="19.5" fill="none" stroke="#777" stroke-width="0.7"/>
<path d="M99.30 269.40L99.30 250.00A19.4 19.4 0 0 1 106.57 251.41Z" fill="#2643a8" stroke="#4a5a8a" stroke-width="0.45" stroke-linejoin="round"/>
<path d="M99.30 269.40L106.57 251.41A19.4 19.4 0 0 1 115.19 258.27Z" fill="#3a5bbd" stroke="#4a5a8a" stroke-width="0.45" stroke-linejoin="round"/>
<path d="M99.30 269.40L115.19 258.27A19.4 19.4 0 0 1 117.75 263.41Z" fill="#5f78c6" stroke="#4a5a8a" stroke-width="0.45" stroke-linejoin="round"/>
<path d="M99.30 269.40L117.75 263.41A19.4 19.4 0 0 1 118.69 268.72Z" fill="#7d91d0" stroke="#4a5a8a" stroke-width="0.45" stroke-linejoin="round"/>
<path d="M99.30 269.40L118.69 268.72A19.4 19.4 0 0 1 118.51 272.10Z" fill="#97a8da" stroke="#4a5a8a" stroke-width="0.45" stroke-linejoin="round"/>
<path d="M99.30 269.40L118.51 272.10A19.4 19.4 0 0 1 115.57 279.97Z" fill="#aebbe2" stroke="#4a5a8a" stroke-width="0.45" stroke-linejoin="round"/>
<path d="M99.30 269.40L115.57 279.97A19.4 19.4 0 0 1 90.19 286.53Z" fill="#c8d0ec" stroke="#4a5a8a" stroke-width="0.45" stroke-linejoin="round"/>
<path d="M99.30 269.40L90.19 286.53A19.4 19.4 0 0 1 99.30 250.00Z" fill="#fff" stroke="#4a5a8a" stroke-width="0.45" stroke-linejoin="round"/>
<circle cx="99.30" cy="269.40" r="19.4" fill="none" stroke="#777" stroke-width="0.7"/>
<path d="M44.30 333.20L44.30 313.70A19.5 19.5 0 0 1 48.35 314.13Z" fill="#2643a8" stroke="#4a5a8a" stroke-width="0.45" stroke-linejoin="round"/>
<path d="M44.30 333.20L48.35 314.13A19.5 19.5 0 0 1 59.45 320.93Z" fill="#3a5bbd" stroke="#4a5a8a" stroke-width="0.45" stroke-linejoin="round"/>
<path d="M44.30 333.20L59.45 320.93A19.5 19.5 0 0 1 62.85 327.17Z" fill="#5f78c6" stroke="#4a5a8a" stroke-width="0.45" stroke-linejoin="round"/>
<path d="M44.30 333.20L62.85 327.17A19.5 19.5 0 0 1 63.50 336.59Z" fill="#7d91d0" stroke="#4a5a8a" stroke-width="0.45" stroke-linejoin="round"/>
<path d="M44.30 333.20L63.50 336.59A19.5 19.5 0 0 1 59.24 345.73Z" fill="#97a8da" stroke="#4a5a8a" stroke-width="0.45" stroke-linejoin="round"/>
<path d="M44.30 333.20L59.24 345.73A19.5 19.5 0 0 1 47.69 352.40Z" fill="#aebbe2" stroke="#4a5a8a" stroke-width="0.45" stroke-linejoin="round"/>
<path d="M44.30 333.20L47.69 352.40A19.5 19.5 0 0 1 24.80 333.20Z" fill="#c8d0ec" stroke="#4a5a8a" stroke-width="0.45" stroke-linejoin="round"/>
<path d="M44.30 333.20L24.80 333.20A19.5 19.5 0 0 1 44.30 313.70Z" fill="#fff" stroke="#4a5a8a" stroke-width="0.45" stroke-linejoin="round"/>
<circle cx="44.30" cy="333.20" r="19.5" fill="none" stroke="#777" stroke-width="0.7"/>
<path d="M99.30 333.20L99.30 313.80A19.4 19.4 0 0 1 113.94 320.47Z" fill="#2643a8" stroke="#4a5a8a" stroke-width="0.45" stroke-linejoin="round"/>
<path d="M99.30 333.20L113.94 320.47A19.4 19.4 0 0 1 118.59 335.23Z" fill="#3a5bbd" stroke="#4a5a8a" stroke-width="0.45" stroke-linejoin="round"/>
<path d="M99.30 333.20L118.59 335.23A19.4 19.4 0 0 1 118.41 336.57Z" fill="#5f78c6" stroke="#4a5a8a" stroke-width="0.45" stroke-linejoin="round"/>
<path d="M99.30 333.20L118.41 336.57A19.4 19.4 0 0 1 111.51 348.28Z" fill="#7d91d0" stroke="#4a5a8a" stroke-width="0.45" stroke-linejoin="round"/>
<path d="M99.30 333.20L111.51 348.28A19.4 19.4 0 0 1 106.25 351.31Z" fill="#97a8da" stroke="#4a5a8a" stroke-width="0.45" stroke-linejoin="round"/>
<path d="M99.30 333.20L106.25 351.31A19.4 19.4 0 0 1 104.32 351.94Z" fill="#aebbe2" stroke="#4a5a8a" stroke-width="0.45" stroke-linejoin="round"/>
<path d="M99.30 333.20L104.32 351.94A19.4 19.4 0 0 1 82.50 323.50Z" fill="#c8d0ec" stroke="#4a5a8a" stroke-width="0.45" stroke-linejoin="round"/>
<path d="M99.30 333.20L82.50 323.50A19.4 19.4 0 0 1 99.30 313.80Z" fill="#fff" stroke="#4a5a8a" stroke-width="0.45" stroke-linejoin="round"/>
<circle cx="99.30" cy="333.20" r="19.4" fill="none" stroke="#777" stroke-width="0.7"/>
<text x="35.80" y="171.30" font-size="6.6">skin</text>
<text x="48.60" y="171.90" font-size="6.6">liver</text>
<text x="58.70" y="177.30" font-size="6.6">salivary gland</text>
<text x="65.50" y="182.70" font-size="6.6">lung</text>
<text x="66.90" y="190.60" font-size="6.6">eye</text>
<text x="68.80" y="201.60" font-size="6.6">GI tract</text>
<text x="44.40" y="204.30" font-size="6.8" text-anchor="middle">other</text>
<text x="44.40" y="212.00" font-size="6.8" text-anchor="middle">tissues</text>
<line x1="41.20" y1="172.60" x2="44.20" y2="181.50" stroke="#333" stroke-width="0.6"/>
<line x1="50.20" y1="172.80" x2="49.60" y2="180.80" stroke="#333" stroke-width="0.6"/>
<line x1="59.20" y1="176.20" x2="53.40" y2="183.20" stroke="#333" stroke-width="0.6"/>
<line x1="65.20" y1="180.60" x2="56.80" y2="186.60" stroke="#333" stroke-width="0.6"/>
<line x1="66.40" y1="188.80" x2="60.60" y2="191.20" stroke="#333" stroke-width="0.6"/>
<line x1="68.20" y1="199.80" x2="61.80" y2="199.40" stroke="#333" stroke-width="0.6"/>
<text x="44.70" y="227.60" font-size="6.6" text-anchor="middle">200 genes</text>
<text x="43.20" y="245.80" font-size="8" text-anchor="middle">10wk</text>
<text x="101.00" y="245.80" font-size="8" text-anchor="middle">12wk</text>
<text x="44.75" y="299.20" font-size="6.6" text-anchor="middle">316 genes</text>
<text x="99.10" y="299.20" font-size="6.6" text-anchor="middle">422 genes</text>
<text x="44.40" y="363.40" font-size="6.6" text-anchor="middle">30 genes</text>
<text x="99.00" y="363.40" font-size="6.6" text-anchor="middle">30 genes</text>
<text x="7.70" y="193.80" font-size="7.4" text-anchor="middle" transform="rotate(-90 7.70 193.80)">TRA set</text>
<text x="14.80" y="193.80" font-size="7.4" text-anchor="middle" transform="rotate(-90 14.80 193.80)">unchanged</text>
<text x="7.80" y="264.30" font-size="7.4" text-anchor="middle" transform="rotate(-90 7.80 264.30)">all repressed TRAs</text>
<text x="15.20" y="264.30" font-size="7.4" text-anchor="middle" transform="rotate(-90 15.20 264.30)">(&lt;0.33 rel. expr.)</text>
<text x="8.80" y="329.50" font-size="7.4" text-anchor="middle" transform="rotate(-90 8.80 329.50)">TRAs</text>
<text x="15.60" y="329.80" font-size="7.4" text-anchor="middle" transform="rotate(-90 15.60 329.80)">(&lt;0.1 rel. expr.)</text>
<text x="146.60" y="162.10" font-size="10.8" font-weight="bold" fill="#000">D</text>
<circle cx="199.5" cy="214.5" r="1.35" fill="#18186a"/>
<circle cx="202.3" cy="206.1" r="1.35" fill="#18186a"/>
<circle cx="207.8" cy="204.3" r="1.35" fill="#18186a"/>
<circle cx="210.6" cy="202.4" r="1.35" fill="#18186a"/>
<circle cx="214.3" cy="201.5" r="1.35" fill="#18186a"/>
<circle cx="218.0" cy="199.6" r="1.35" fill="#18186a"/>
<circle cx="215.3" cy="212.6" r="1.35" fill="#18186a"/>
<circle cx="219.9" cy="218.2" r="1.35" fill="#18186a"/>
<circle cx="216.2" cy="225.6" r="1.35" fill="#18186a"/>
<circle cx="218.0" cy="228.4" r="1.35" fill="#18186a"/>
<circle cx="225.5" cy="222.8" r="1.35" fill="#18186a"/>
<circle cx="228.2" cy="216.3" r="1.35" fill="#18186a"/>
<circle cx="230.0" cy="220.0" r="1.35" fill="#18186a"/>
<circle cx="234.7" cy="216.3" r="1.35" fill="#18186a"/>
<circle cx="235.7" cy="221.9" r="1.35" fill="#18186a"/>
<circle cx="233.8" cy="227.5" r="1.35" fill="#18186a"/>
<circle cx="229.2" cy="231.2" r="1.35" fill="#18186a"/>
<circle cx="226.4" cy="234.9" r="1.35" fill="#18186a"/>
<circle cx="215.3" cy="236.7" r="1.35" fill="#18186a"/>
<circle cx="245.9" cy="234.9" r="1.35" fill="#18186a"/>
<circle cx="244.9" cy="237.7" r="1.35" fill="#18186a"/>
<circle cx="246.8" cy="243.2" r="1.35" fill="#18186a"/>
<circle cx="249.6" cy="219.1" r="1.35" fill="#18186a"/>
<circle cx="246.8" cy="211.7" r="1.35" fill="#18186a"/>
<circle cx="241.2" cy="212.6" r="1.35" fill="#18186a"/>
<circle cx="235.7" cy="212.6" r="1.35" fill="#18186a"/>
<circle cx="230.1" cy="211.7" r="1.35" fill="#18186a"/>
<circle cx="226.4" cy="213.6" r="1.35" fill="#18186a"/>
<circle cx="223.6" cy="212.6" r="1.35" fill="#18186a"/>
<circle cx="197.3" cy="252.6" r="1.35" fill="#18186a"/>
<circle cx="218.3" cy="176.0" r="1.35" fill="#18186a"/>
<circle cx="224.1" cy="175.4" r="1.35" fill="#18186a"/>
<circle cx="220.9" cy="180.7" r="1.35" fill="#18186a"/>
<circle cx="211.9" cy="182.9" r="1.35" fill="#18186a"/>
<circle cx="222.5" cy="184.5" r="1.35" fill="#18186a"/>
<circle cx="224.6" cy="184.0" r="1.35" fill="#18186a"/>
<circle cx="222.0" cy="188.7" r="1.35" fill="#18186a"/>
<circle cx="211.9" cy="190.3" r="1.35" fill="#18186a"/>
<circle cx="214.6" cy="191.9" r="1.35" fill="#18186a"/>
<circle cx="207.1" cy="194.5" r="1.35" fill="#18186a"/>
<circle cx="212.4" cy="196.1" r="1.35" fill="#18186a"/>
<circle cx="216.7" cy="196.1" r="1.35" fill="#18186a"/>
<circle cx="219.9" cy="193.5" r="1.35" fill="#18186a"/>
<circle cx="224.6" cy="191.9" r="1.35" fill="#18186a"/>
<circle cx="226.2" cy="196.7" r="1.35" fill="#18186a"/>
<circle cx="215.6" cy="199.8" r="1.35" fill="#18186a"/>
<circle cx="213.0" cy="201.4" r="1.35" fill="#18186a"/>
<circle cx="209.2" cy="204.1" r="1.35" fill="#18186a"/>
<circle cx="222.5" cy="203.0" r="1.35" fill="#18186a"/>
<circle cx="224.1" cy="204.6" r="1.35" fill="#18186a"/>
<circle cx="230.5" cy="204.6" r="1.35" fill="#18186a"/>
<circle cx="235.8" cy="202.5" r="1.35" fill="#18186a"/>
<circle cx="242.7" cy="202.0" r="1.35" fill="#18186a"/>
<circle cx="246.4" cy="198.8" r="1.35" fill="#18186a"/>
<circle cx="206.6" cy="203.0" r="1.35" fill="#18186a"/>
<circle cx="212.2" cy="183.6" r="1.35" fill="#18186a"/>
<circle cx="202.5" cy="190.9" r="1.35" fill="#18186a"/>
<circle cx="206.5" cy="190.2" r="1.35" fill="#18186a"/>
<circle cx="212.5" cy="190.9" r="1.35" fill="#18186a"/>
<circle cx="207.8" cy="194.8" r="1.35" fill="#18186a"/>
<circle cx="216.5" cy="195.5" r="1.35" fill="#18186a"/>
<circle cx="215.8" cy="200.1" r="1.35" fill="#18186a"/>
<circle cx="206.5" cy="204.8" r="1.35" fill="#18186a"/>
<circle cx="211.2" cy="204.8" r="1.35" fill="#18186a"/>
<circle cx="202.5" cy="206.1" r="1.35" fill="#18186a"/>
<circle cx="223.1" cy="203.5" r="1.35" fill="#18186a"/>
<circle cx="215.1" cy="212.1" r="1.35" fill="#18186a"/>
<circle cx="221.8" cy="182.2" r="1.35" fill="#18186a"/>
<circle cx="221.1" cy="178.3" r="1.35" fill="#18186a"/>
<circle cx="240.0" cy="207.0" r="1.35" fill="#18186a"/>
<circle cx="244.0" cy="206.0" r="1.35" fill="#18186a"/>
<circle cx="249.0" cy="207.0" r="1.35" fill="#18186a"/>
<circle cx="238.0" cy="229.0" r="1.35" fill="#18186a"/>
<circle cx="248.0" cy="228.0" r="1.35" fill="#18186a"/>
<circle cx="222.0" cy="240.0" r="1.35" fill="#18186a"/>
<circle cx="247.5" cy="252.0" r="1.35" fill="#18186a"/>
<circle cx="240.0" cy="246.0" r="1.35" fill="#18186a"/>
<circle cx="241.4" cy="193.0" r="1.35" fill="#18186a"/>
<circle cx="245.6" cy="198.1" r="1.35" fill="#18186a"/>
<circle cx="244.3" cy="197.6" r="1.35" fill="#18186a"/>
<circle cx="227.2" cy="186.1" r="1.35" fill="#18186a"/>
<circle cx="249.1" cy="190.7" r="1.35" fill="#18186a"/>
<circle cx="248.1" cy="177.3" r="1.35" fill="#18186a"/>
<circle cx="237.8" cy="180.7" r="1.35" fill="#18186a"/>
<circle cx="239.6" cy="188.8" r="1.35" fill="#18186a"/>
<circle cx="226.8" cy="179.9" r="1.35" fill="#18186a"/>
<circle cx="233.2" cy="197.4" r="1.35" fill="#18186a"/>
<circle cx="244.9" cy="178.5" r="1.35" fill="#18186a"/>
<circle cx="245.6" cy="178.0" r="1.35" fill="#18186a"/>
<circle cx="241.3" cy="177.7" r="1.35" fill="#18186a"/>
<circle cx="231.7" cy="199.1" r="1.35" fill="#18186a"/>
<circle cx="247.4" cy="181.7" r="1.35" fill="#18186a"/>
<circle cx="249.6" cy="188.0" r="1.35" fill="#18186a"/>
<circle cx="242.8" cy="179.6" r="1.35" fill="#18186a"/>
<circle cx="249.1" cy="191.8" r="1.35" fill="#18186a"/>
<circle cx="249.7" cy="196.8" r="1.35" fill="#18186a"/>
<circle cx="233.7" cy="183.5" r="1.35" fill="#18186a"/>
<circle cx="230.5" cy="178.1" r="1.35" fill="#18186a"/>
<circle cx="228.1" cy="182.0" r="1.35" fill="#18186a"/>
<circle cx="241.0" cy="174.6" r="1.35" fill="#18186a"/>
<circle cx="242.8" cy="182.9" r="1.35" fill="#18186a"/>
<circle cx="233.9" cy="195.0" r="1.35" fill="#18186a"/>
<circle cx="238.0" cy="182.4" r="1.35" fill="#18186a"/>
<circle cx="238.0" cy="192.1" r="1.35" fill="#18186a"/>
<circle cx="244.5" cy="195.6" r="1.35" fill="#18186a"/>
<circle cx="226.9" cy="194.2" r="1.35" fill="#18186a"/>
<circle cx="226.7" cy="175.7" r="1.35" fill="#18186a"/>
<circle cx="230.8" cy="198.4" r="1.35" fill="#18186a"/>
<circle cx="231.2" cy="193.4" r="1.35" fill="#18186a"/>
<circle cx="248.8" cy="198.1" r="1.35" fill="#18186a"/>
<circle cx="234.8" cy="183.4" r="1.35" fill="#18186a"/>
<circle cx="239.1" cy="193.9" r="1.35" fill="#18186a"/>
<circle cx="229.1" cy="193.2" r="1.35" fill="#18186a"/>
<circle cx="245.6" cy="196.0" r="1.35" fill="#18186a"/>
<circle cx="248.5" cy="183.0" r="1.35" fill="#18186a"/>
<circle cx="248.7" cy="188.1" r="1.35" fill="#18186a"/>
<circle cx="234.0" cy="182.4" r="1.35" fill="#18186a"/>
<circle cx="230.8" cy="176.5" r="1.35" fill="#18186a"/>
<circle cx="250.4" cy="178.5" r="1.35" fill="#18186a"/>
<circle cx="236.2" cy="180.4" r="1.35" fill="#18186a"/>
<circle cx="240.8" cy="195.2" r="1.35" fill="#18186a"/>
<circle cx="237.4" cy="185.0" r="1.35" fill="#18186a"/>
<circle cx="238.3" cy="195.5" r="1.35" fill="#18186a"/>
<circle cx="229.6" cy="192.8" r="1.35" fill="#18186a"/>
<circle cx="249.3" cy="190.3" r="1.35" fill="#18186a"/>
<circle cx="245.4" cy="177.2" r="1.35" fill="#18186a"/>
<circle cx="236.9" cy="178.2" r="1.35" fill="#18186a"/>
<circle cx="246.8" cy="181.9" r="1.35" fill="#18186a"/>
<circle cx="237.4" cy="199.5" r="1.35" fill="#18186a"/>
<circle cx="247.0" cy="198.9" r="1.35" fill="#18186a"/>
<circle cx="237.4" cy="186.7" r="1.35" fill="#18186a"/>
<circle cx="244.0" cy="186.5" r="1.35" fill="#18186a"/>
<circle cx="233.5" cy="184.6" r="1.35" fill="#18186a"/>
<circle cx="230.0" cy="183.9" r="1.35" fill="#18186a"/>
<circle cx="250.2" cy="198.5" r="1.35" fill="#18186a"/>
<circle cx="241.5" cy="187.0" r="1.35" fill="#18186a"/>
<circle cx="234.6" cy="176.7" r="1.35" fill="#18186a"/>
<circle cx="233.0" cy="194.1" r="1.35" fill="#18186a"/>
<circle cx="247.3" cy="183.5" r="1.35" fill="#18186a"/>
<circle cx="245.4" cy="193.9" r="1.35" fill="#18186a"/>
<circle cx="243.2" cy="191.1" r="1.35" fill="#18186a"/>
<circle cx="244.7" cy="183.6" r="1.35" fill="#18186a"/>
<circle cx="243.4" cy="181.5" r="1.35" fill="#18186a"/>
<circle cx="238.2" cy="193.7" r="1.35" fill="#18186a"/>
<circle cx="243.1" cy="181.8" r="1.35" fill="#18186a"/>
<circle cx="249.2" cy="190.7" r="1.35" fill="#18186a"/>
<circle cx="240.4" cy="174.8" r="1.35" fill="#18186a"/>
<circle cx="239.6" cy="180.8" r="1.35" fill="#18186a"/>
<circle cx="242.6" cy="186.1" r="1.35" fill="#18186a"/>
<circle cx="246.1" cy="190.7" r="1.35" fill="#18186a"/>
<circle cx="245.6" cy="183.2" r="1.35" fill="#18186a"/>
<circle cx="242.0" cy="192.9" r="1.35" fill="#18186a"/>
<circle cx="246.4" cy="183.3" r="1.35" fill="#18186a"/>
<circle cx="246.7" cy="196.2" r="1.35" fill="#18186a"/>
<circle cx="243.0" cy="198.9" r="1.35" fill="#18186a"/>
<circle cx="249.5" cy="187.5" r="1.35" fill="#18186a"/>
<circle cx="239.2" cy="178.7" r="1.35" fill="#18186a"/>
<circle cx="246.6" cy="197.9" r="1.35" fill="#18186a"/>
<circle cx="238.0" cy="191.8" r="1.35" fill="#18186a"/>
<circle cx="243.8" cy="192.8" r="1.35" fill="#18186a"/>
<circle cx="230.6" cy="194.0" r="1.35" fill="#18186a"/>
<circle cx="240.4" cy="191.1" r="1.35" fill="#18186a"/>
<circle cx="236.6" cy="190.1" r="1.35" fill="#18186a"/>
<circle cx="245.1" cy="190.4" r="1.35" fill="#18186a"/>
<circle cx="243.8" cy="175.2" r="1.35" fill="#18186a"/>
<circle cx="242.1" cy="180.0" r="1.35" fill="#18186a"/>
<circle cx="243.0" cy="190.3" r="1.35" fill="#18186a"/>
<circle cx="227.5" cy="186.3" r="1.35" fill="#18186a"/>
<circle cx="231.9" cy="175.9" r="1.35" fill="#18186a"/>
<circle cx="229.7" cy="182.4" r="1.35" fill="#18186a"/>
<circle cx="230.9" cy="179.3" r="1.35" fill="#18186a"/>
<circle cx="227.4" cy="186.1" r="1.35" fill="#18186a"/>
<circle cx="240.7" cy="180.4" r="1.35" fill="#18186a"/>
<circle cx="248.2" cy="174.5" r="1.35" fill="#18186a"/>
<circle cx="236.2" cy="181.5" r="1.35" fill="#18186a"/>
<circle cx="236.3" cy="177.4" r="1.35" fill="#18186a"/>
<circle cx="246.5" cy="183.8" r="1.35" fill="#18186a"/>
<circle cx="227.4" cy="189.8" r="1.35" fill="#18186a"/>
<circle cx="249.5" cy="195.0" r="1.35" fill="#18186a"/>
<circle cx="236.6" cy="194.8" r="1.35" fill="#18186a"/>
<circle cx="241.9" cy="183.7" r="1.35" fill="#18186a"/>
<circle cx="240.0" cy="198.4" r="1.35" fill="#18186a"/>
<circle cx="249.7" cy="189.7" r="1.35" fill="#18186a"/>
<circle cx="234.9" cy="196.8" r="1.35" fill="#18186a"/>
<circle cx="226.5" cy="177.2" r="1.35" fill="#18186a"/>
<circle cx="240.1" cy="189.9" r="1.35" fill="#18186a"/>
<circle cx="247.9" cy="183.9" r="1.35" fill="#18186a"/>
<circle cx="236.9" cy="180.2" r="1.35" fill="#18186a"/>
<circle cx="233.5" cy="198.8" r="1.35" fill="#18186a"/>
<circle cx="235.6" cy="198.5" r="1.35" fill="#18186a"/>
<circle cx="248.4" cy="189.4" r="1.35" fill="#18186a"/>
<circle cx="232.7" cy="199.0" r="1.35" fill="#18186a"/>
<circle cx="238.4" cy="184.9" r="1.35" fill="#18186a"/>
<circle cx="234.2" cy="199.1" r="1.35" fill="#18186a"/>
<circle cx="238.3" cy="181.7" r="1.35" fill="#18186a"/>
<circle cx="237.9" cy="177.5" r="1.35" fill="#18186a"/>
<circle cx="241.4" cy="185.6" r="1.35" fill="#18186a"/>
<circle cx="233.5" cy="194.0" r="1.35" fill="#18186a"/>
<circle cx="246.3" cy="174.8" r="1.35" fill="#18186a"/>
<circle cx="239.3" cy="181.3" r="1.35" fill="#18186a"/>
<circle cx="248.9" cy="194.0" r="1.35" fill="#18186a"/>
<circle cx="232.4" cy="181.2" r="1.35" fill="#18186a"/>
<circle cx="230.2" cy="199.2" r="1.35" fill="#18186a"/>
<circle cx="237.9" cy="190.6" r="1.35" fill="#18186a"/>
<circle cx="241.0" cy="193.1" r="1.35" fill="#18186a"/>
<circle cx="229.3" cy="193.5" r="1.35" fill="#18186a"/>
<circle cx="234.6" cy="181.9" r="1.35" fill="#18186a"/>
<circle cx="239.2" cy="186.1" r="1.35" fill="#18186a"/>
<circle cx="235.2" cy="193.1" r="1.35" fill="#18186a"/>
<circle cx="240.7" cy="175.4" r="1.35" fill="#18186a"/>
<circle cx="248.5" cy="196.7" r="1.35" fill="#18186a"/>
<circle cx="239.6" cy="174.9" r="1.35" fill="#18186a"/>
<circle cx="228" cy="175.5" r="1.2" fill="#b7ad6c"/>
<circle cx="231" cy="178" r="1.2" fill="#b7ad6c"/>
<circle cx="232" cy="186.5" r="1.2" fill="#b7ad6c"/>
<circle cx="233" cy="196.5" r="1.2" fill="#b7ad6c"/>
<circle cx="230.5" cy="199.5" r="1.2" fill="#b7ad6c"/>
<circle cx="218" cy="209.8" r="1.2" fill="#b7ad6c"/>
<circle cx="213.4" cy="217.3" r="1.2" fill="#b7ad6c"/>
<circle cx="212.5" cy="221" r="1.2" fill="#b7ad6c"/>
<circle cx="217.8" cy="210.8" r="1.2" fill="#b7ad6c"/>
<circle cx="232" cy="198.7" r="1.2" fill="#b7ad6c"/>
<circle cx="246" cy="190" r="1.2" fill="#b7ad6c"/>
<circle cx="220.4" cy="187.5" r="1.1" fill="#ccc" stroke="#aaa" stroke-width="0.5"/>
<circle cx="242.2" cy="222.8" r="1.1" fill="#ccc" stroke="#aaa" stroke-width="0.5"/>
<circle cx="221" cy="181" r="1.1" fill="#ccc" stroke="#aaa" stroke-width="0.5"/>
<circle cx="236" cy="190" r="1.1" fill="#ccc" stroke="#aaa" stroke-width="0.5"/>
<circle cx="244" cy="184" r="1.1" fill="#ccc" stroke="#aaa" stroke-width="0.5"/>
<circle cx="184.6" cy="243.9" r="1.3" fill="#b7ad6c"/>
<circle cx="198.5" cy="234.6" r="1.3" fill="#b7ad6c"/>
<circle cx="197.3" cy="252.6" r="1.3" fill="#18186a"/>
<line x1="211.30" y1="172.60" x2="250.20" y2="172.60" stroke="#555" stroke-width="0.9" stroke-dasharray="2.4 1.8"/>
<line x1="250.20" y1="172.60" x2="250.20" y2="268.20" stroke="#555" stroke-width="0.9" stroke-dasharray="2.4 1.8"/>
<line x1="177.90" y1="168.00" x2="177.90" y2="268.20" stroke="#333" stroke-width="1.0"/>
<line x1="177.90" y1="268.20" x2="251.60" y2="268.20" stroke="#333" stroke-width="1.0"/>
<line x1="176.20" y1="180.50" x2="177.90" y2="180.50" stroke="#333" stroke-width="0.8"/>
<text x="175.00" y="182.90" font-size="6.8" text-anchor="end">-2</text>
<line x1="176.20" y1="222.30" x2="177.90" y2="222.30" stroke="#333" stroke-width="0.8"/>
<text x="175.00" y="224.70" font-size="6.8" text-anchor="end">-4</text>
<line x1="176.20" y1="264.10" x2="177.90" y2="264.10" stroke="#333" stroke-width="0.8"/>
<text x="175.00" y="266.50" font-size="6.8" text-anchor="end">-6</text>
<line x1="180.00" y1="268.20" x2="180.00" y2="270.00" stroke="#333" stroke-width="0.8"/>
<text x="180.60" y="275.40" font-size="6.8" text-anchor="middle">-5</text>
<line x1="229.75" y1="268.20" x2="229.75" y2="270.00" stroke="#333" stroke-width="0.8"/>
<text x="230.35" y="275.40" font-size="6.8" text-anchor="middle">-2.5</text>
<text x="212.3" y="284.0" font-size="7.4" text-anchor="middle" fill="#1a1a1a">log<tspan font-size="70%" dy="1.5">2</tspan><tspan dy="-1.5">(S.I.[</tspan><tspan font-style="italic">b<tspan font-size="145%" dx="-0.1em" letter-spacing="-0.21em">→</tspan>bd</tspan>/<tspan font-style="italic">bd<tspan font-size="145%" dx="-0.1em" letter-spacing="-0.21em">→</tspan>bd</tspan>]), 10 wk</text>
<text x="161.2" y="214.7" font-size="6.65" text-anchor="middle" fill="#1a1a1a" transform="rotate(-90 161.2 214.7)">log<tspan font-size="70%" dy="1.5">2</tspan><tspan dy="-1.5">(S.I.[</tspan><tspan font-style="italic">b<tspan font-size="145%" dx="-0.1em" letter-spacing="-0.21em">→</tspan>bd</tspan>/<tspan font-style="italic">bd<tspan font-size="145%" dx="-0.1em" letter-spacing="-0.21em">→</tspan>bd</tspan>]), 12 wk</text>
<circle cx="181" cy="170.3" r="1.2" fill="#fff" stroke="#999" stroke-width="0.6"/>
<text x="183.40" y="171.90" font-size="6.7">Ub</text>
<circle cx="181" cy="178.2" r="1.25" fill="#18186a"/>
<text x="183.40" y="180.00" font-size="6.7">TRA</text>
<circle cx="181" cy="187" r="1.25" fill="#b7ad6c"/>
<text x="183.40" y="188.60" font-size="6.7">Aire TRA</text>
<text x="234.60" y="172.20" font-size="6.4">Csn1s2a</text>
<text x="222.20" y="211.60" font-size="6.6">Mup1a</text>
<text x="200.50" y="236.20" font-size="6.6">Spt1</text>
<text x="186.80" y="245.70" font-size="6.6">Scgb1a1</text>
<text x="239.20" y="266.20" font-size="6.6">Q2</text>
<text x="146.70" y="302.40" font-size="10.8" font-weight="bold" fill="#000">E</text>
<text x="171.8" y="298.9" font-size="6.5" fill="#1a1a1a">BrdU + <tspan font-style="italic">Fgf7</tspan></text>
<line x1="184.60" y1="301.40" x2="192.00" y2="301.40" stroke="#333" stroke-width="0.7" stroke-dasharray="1 0.6"/>
<path d="M194.2 301.4l-2.4 -1.3v2.6z" fill="#111"/>
<line x1="177.90" y1="301.80" x2="177.90" y2="354.70" stroke="#333" stroke-width="1.0"/>
<line x1="177.90" y1="354.70" x2="231.50" y2="354.70" stroke="#333" stroke-width="1.0"/>
<line x1="176.20" y1="354.70" x2="177.90" y2="354.70" stroke="#333" stroke-width="0.8"/>
<text x="174.20" y="357.20" font-size="7" text-anchor="end">0</text>
<line x1="176.20" y1="341.47" x2="177.90" y2="341.47" stroke="#333" stroke-width="0.8"/>
<text x="174.20" y="343.97" font-size="7" text-anchor="end">10</text>
<line x1="176.20" y1="328.25" x2="177.90" y2="328.25" stroke="#333" stroke-width="0.8"/>
<text x="174.20" y="330.75" font-size="7" text-anchor="end">20</text>
<line x1="176.20" y1="315.02" x2="177.90" y2="315.02" stroke="#333" stroke-width="0.8"/>
<text x="174.20" y="317.52" font-size="7" text-anchor="end">30</text>
<line x1="176.20" y1="301.80" x2="177.90" y2="301.80" stroke="#333" stroke-width="0.8"/>
<text x="174.20" y="304.30" font-size="7" text-anchor="end">40</text>
<line x1="179.95" y1="354.70" x2="179.95" y2="356.20" stroke="#333" stroke-width="0.8"/>
<line x1="189.80" y1="354.70" x2="189.80" y2="356.70" stroke="#333" stroke-width="0.8"/>
<line x1="199.65" y1="354.70" x2="199.65" y2="356.20" stroke="#333" stroke-width="0.8"/>
<line x1="209.50" y1="354.70" x2="209.50" y2="356.70" stroke="#333" stroke-width="0.8"/>
<line x1="219.35" y1="354.70" x2="219.35" y2="356.20" stroke="#333" stroke-width="0.8"/>
<line x1="229.20" y1="354.70" x2="229.20" y2="356.70" stroke="#333" stroke-width="0.8"/>
<text x="189.80" y="362.60" font-size="7" text-anchor="middle">8</text>
<text x="209.50" y="362.60" font-size="7" text-anchor="middle">10</text>
<text x="229.20" y="362.60" font-size="7" text-anchor="middle">12</text>
<text x="207.00" y="370.80" font-size="8" text-anchor="middle">age (wk)</text>
<text x="162.4" y="327.0" font-size="8.2" text-anchor="middle" fill="#1a1a1a" transform="rotate(-90 162.4 327.0)">% BrdU<tspan font-size="5.5" dy="-3">+</tspan></text>
<text x="192.00" y="338.50" font-size="6.6" text-anchor="middle" transform="rotate(-90 192.00 338.50)">HSCT</text>
<line x1="189.80" y1="347.50" x2="189.80" y2="350.50" stroke="#222" stroke-width="0.7"/>
<circle cx="189.80" cy="352.1" r="1.1" fill="#111"/>
<polyline points="194.73,350.73 209.50,350.73 229.20,352.06" fill="none" stroke="#222" stroke-width="1"/>
<line x1="194.73" y1="350.73" x2="194.73" y2="349.67" stroke="#222" stroke-width="0.8"/>
<line x1="192.93" y1="349.67" x2="196.53" y2="349.67" stroke="#222" stroke-width="0.8"/>
<line x1="209.50" y1="350.73" x2="209.50" y2="349.41" stroke="#222" stroke-width="0.8"/>
<line x1="207.70" y1="349.41" x2="211.30" y2="349.41" stroke="#222" stroke-width="0.8"/>
<line x1="229.20" y1="352.06" x2="229.20" y2="351.26" stroke="#222" stroke-width="0.8"/>
<line x1="227.40" y1="351.26" x2="231.00" y2="351.26" stroke="#222" stroke-width="0.8"/>
<polyline points="194.73,345.44 209.50,349.41 229.20,353.38" fill="none" stroke="#222" stroke-width="1"/>
<line x1="194.73" y1="345.44" x2="194.73" y2="341.47" stroke="#222" stroke-width="0.8"/>
<line x1="192.93" y1="341.47" x2="196.53" y2="341.47" stroke="#222" stroke-width="0.8"/>
<line x1="209.50" y1="349.41" x2="209.50" y2="346.76" stroke="#222" stroke-width="0.8"/>
<line x1="207.70" y1="346.76" x2="211.30" y2="346.76" stroke="#222" stroke-width="0.8"/>
<line x1="229.20" y1="353.38" x2="229.20" y2="352.06" stroke="#222" stroke-width="0.8"/>
<line x1="227.40" y1="352.06" x2="231.00" y2="352.06" stroke="#222" stroke-width="0.8"/>
<polyline points="194.73,333.54 209.50,320.98 229.20,345.44" fill="none" stroke="#222" stroke-width="1"/>
<line x1="194.73" y1="333.54" x2="194.73" y2="324.94" stroke="#222" stroke-width="0.8"/>
<line x1="192.93" y1="324.94" x2="196.53" y2="324.94" stroke="#222" stroke-width="0.8"/>
<line x1="209.50" y1="320.98" x2="209.50" y2="315.69" stroke="#222" stroke-width="0.8"/>
<line x1="207.70" y1="315.69" x2="211.30" y2="315.69" stroke="#222" stroke-width="0.8"/>
<line x1="229.20" y1="345.44" x2="229.20" y2="340.81" stroke="#222" stroke-width="0.8"/>
<line x1="227.40" y1="340.81" x2="231.00" y2="340.81" stroke="#222" stroke-width="0.8"/>
<polyline points="194.73,318.99 209.50,318.33 229.20,352.06" fill="none" stroke="#222" stroke-width="1"/>
<line x1="194.73" y1="318.99" x2="194.73" y2="313.70" stroke="#222" stroke-width="0.8"/>
<line x1="192.93" y1="313.70" x2="196.53" y2="313.70" stroke="#222" stroke-width="0.8"/>
<line x1="209.50" y1="318.33" x2="209.50" y2="313.04" stroke="#222" stroke-width="0.8"/>
<line x1="207.70" y1="313.04" x2="211.30" y2="313.04" stroke="#222" stroke-width="0.8"/>
<line x1="229.20" y1="352.06" x2="229.20" y2="350.73" stroke="#222" stroke-width="0.8"/>
<line x1="227.40" y1="350.73" x2="231.00" y2="350.73" stroke="#222" stroke-width="0.8"/>
<circle cx="194.73" cy="350.73" r="2.1" fill="#fff" stroke="#222" stroke-width="0.9"/>
<circle cx="209.50" cy="350.73" r="2.1" fill="#fff" stroke="#222" stroke-width="0.9"/>
<circle cx="229.20" cy="352.06" r="2.1" fill="#fff" stroke="#222" stroke-width="0.9"/>
<circle cx="194.73" cy="345.44" r="2.3" fill="#111"/>
<circle cx="209.50" cy="349.41" r="2.3" fill="#111"/>
<circle cx="229.20" cy="353.38" r="2.3" fill="#111"/>
<path d="M194.73 330.74l2.6 4.5h-5.2z" fill="#fff" stroke="#222" stroke-width="0.8"/>
<path d="M209.50 318.18l2.6 4.5h-5.2z" fill="#fff" stroke="#222" stroke-width="0.8"/>
<path d="M229.20 342.64l2.6 4.5h-5.2z" fill="#fff" stroke="#222" stroke-width="0.8"/>
<path d="M194.73 321.69l2.6 -4.4h-5.2z" fill="#111"/>
<path d="M209.50 321.03l2.6 -4.4h-5.2z" fill="#111"/>
<path d="M229.20 354.75l2.6 -4.4h-5.2z" fill="#111"/>
<text x="194.73" y="311.60" font-size="7" text-anchor="middle">*</text>
<text x="209.50" y="311.60" font-size="7" text-anchor="middle">*‡</text>
<line x1="235.20" y1="303.50" x2="242.60" y2="303.50" stroke="#222" stroke-width="0.8"/>
<circle cx="238.9" cy="303.5" r="1.8" fill="#fff" stroke="#222" stroke-width="0.9"/>
<text x="244.3" y="306.2" font-size="7.6" fill="#1a1a1a"><tspan font-style="italic">bd<tspan font-size="145%" dx="-0.1em" letter-spacing="-0.21em">→</tspan>bd</tspan></text>
<line x1="235.20" y1="312.20" x2="242.60" y2="312.20" stroke="#222" stroke-width="0.8"/>
<circle cx="238.9" cy="312.2" r="1.9" fill="#111"/>
<text x="244.3" y="314.9" font-size="7.6" fill="#1a1a1a"><tspan font-style="italic">b<tspan font-size="145%" dx="-0.1em" letter-spacing="-0.21em">→</tspan>bd</tspan></text>
<line x1="235.20" y1="322.00" x2="242.60" y2="322.00" stroke="#222" stroke-width="0.8"/>
<path d="M238.9 319.8l2.1 3.6h-4.2z" fill="#fff" stroke="#222" stroke-width="0.8"/>
<text x="244.3" y="324.7" font-size="7.6" fill="#1a1a1a"><tspan font-style="italic">b<tspan font-size="145%" dx="-0.1em" letter-spacing="-0.21em">→</tspan>bd</tspan> +Fgf7</text>
<line x1="235.20" y1="331.80" x2="242.60" y2="331.80" stroke="#222" stroke-width="0.8"/>
<path d="M238.9 334.0l2.2 -3.7h-4.4z" fill="#111"/>
<text x="244.3" y="334.5" font-size="7.6" fill="#1a1a1a"><tspan font-style="italic">bd<tspan font-size="145%" dx="-0.1em" letter-spacing="-0.21em">→</tspan>bd</tspan> +Fgf7</text>
<text x="288.10" y="162.20" font-size="10.8" font-weight="bold" fill="#000">F</text>
<g shape-rendering="crispEdges"><rect x="298.90" y="178.00" width="10.40" height="2.22" fill="#3782c7"/><rect x="309.00" y="178.00" width="10.40" height="2.22" fill="#4891cf"/><rect x="319.10" y="178.00" width="10.40" height="2.22" fill="#5198d3"/><rect x="329.20" y="178.00" width="10.90" height="2.22" fill="#d2e6f7"/><rect x="339.80" y="178.00" width="10.90" height="2.22" fill="#e6f1fb"/><rect x="350.40" y="178.00" width="10.60" height="2.22" fill="#c3def4"/><rect x="360.70" y="178.00" width="10.60" height="2.22" fill="#d4e7f7"/><rect x="371.00" y="178.00" width="10.60" height="2.22" fill="#d4e7f7"/><rect x="298.90" y="179.92" width="10.40" height="2.22" fill="#175bab"/><rect x="309.00" y="179.92" width="10.40" height="2.22" fill="#1a60ae"/><rect x="319.10" y="179.92" width="10.40" height="2.22" fill="#2068b5"/><rect x="329.20" y="179.92" width="10.90" height="2.22" fill="#acd1ef"/><rect x="339.80" y="179.92" width="10.90" height="2.22" fill="#c1ddf4"/><rect x="350.40" y="179.92" width="10.60" height="2.22" fill="#98c5eb"/><rect x="360.70" y="179.92" width="10.60" height="2.22" fill="#9ec8ec"/><rect x="371.00" y="179.92" width="10.60" height="2.22" fill="#a1cbed"/><rect x="298.90" y="181.84" width="10.40" height="2.22" fill="#2974bf"/><rect x="309.00" y="181.84" width="10.40" height="2.22" fill="#2772bd"/><rect x="319.10" y="181.84" width="10.40" height="2.22" fill="#2670bb"/><rect x="329.20" y="181.84" width="10.90" height="2.22" fill="#b8d7f1"/><rect x="339.80" y="181.84" width="10.90" height="2.22" fill="#d5e8f8"/><rect x="350.40" y="181.84" width="10.60" height="2.22" fill="#acd1ef"/><rect x="360.70" y="181.84" width="10.60" height="2.22" fill="#c1ddf4"/><rect x="371.00" y="181.84" width="10.60" height="2.22" fill="#a7ceee"/><rect x="298.90" y="183.76" width="10.40" height="2.22" fill="#599fd7"/><rect x="309.00" y="183.76" width="10.40" height="2.22" fill="#4991cf"/><rect x="319.10" y="183.76" width="10.40" height="2.22" fill="#5199d3"/><rect x="329.20" y="183.76" width="10.90" height="2.22" fill="#daeaf9"/><rect x="339.80" y="183.76" width="10.90" height="2.22" fill="#dfedfa"/><rect x="350.40" y="183.76" width="10.60" height="2.22" fill="#d7e9f8"/><rect x="360.70" y="183.76" width="10.60" height="2.22" fill="#d1e5f7"/><rect x="371.00" y="183.76" width="10.60" height="2.22" fill="#e0edfa"/><rect x="298.90" y="185.68" width="10.40" height="2.22" fill="#2d7ac3"/><rect x="309.00" y="185.68" width="10.40" height="2.22" fill="#2a76c0"/><rect x="319.10" y="185.68" width="10.40" height="2.22" fill="#2c78c2"/><rect x="329.20" y="185.68" width="10.90" height="2.22" fill="#c5dff4"/><rect x="339.80" y="185.68" width="10.90" height="2.22" fill="#d8e9f8"/><rect x="350.40" y="185.68" width="10.60" height="2.22" fill="#b6d7f1"/><rect x="360.70" y="185.68" width="10.60" height="2.22" fill="#9ac6eb"/><rect x="371.00" y="185.68" width="10.60" height="2.22" fill="#b3d5f0"/><rect x="298.90" y="187.61" width="10.40" height="2.22" fill="#1b62b0"/><rect x="309.00" y="187.61" width="10.40" height="2.22" fill="#246db9"/><rect x="319.10" y="187.61" width="10.40" height="2.22" fill="#1b61b0"/><rect x="329.20" y="187.61" width="10.90" height="2.22" fill="#b3d5f0"/><rect x="339.80" y="187.61" width="10.90" height="2.22" fill="#cee4f6"/><rect x="350.40" y="187.61" width="10.60" height="2.22" fill="#99c6eb"/><rect x="360.70" y="187.61" width="10.60" height="2.22" fill="#9ec9ec"/><rect x="371.00" y="187.61" width="10.60" height="2.22" fill="#a8ceee"/><rect x="298.90" y="189.53" width="10.40" height="2.22" fill="#175bab"/><rect x="309.00" y="189.53" width="10.40" height="2.22" fill="#226ab7"/><rect x="319.10" y="189.53" width="10.40" height="2.22" fill="#1d63b1"/><rect x="329.20" y="189.53" width="10.90" height="2.22" fill="#a3cbed"/><rect x="339.80" y="189.53" width="10.90" height="2.22" fill="#cee4f6"/><rect x="350.40" y="189.53" width="10.60" height="2.22" fill="#90c0e8"/><rect x="360.70" y="189.53" width="10.60" height="2.22" fill="#90c0e8"/><rect x="371.00" y="189.53" width="10.60" height="2.22" fill="#9ac6eb"/><rect x="298.90" y="191.45" width="10.40" height="2.22" fill="#3a85c9"/><rect x="309.00" y="191.45" width="10.40" height="2.22" fill="#2f7cc4"/><rect x="319.10" y="191.45" width="10.40" height="2.22" fill="#3581c7"/><rect x="329.20" y="191.45" width="10.90" height="2.22" fill="#d1e6f7"/><rect x="339.80" y="191.45" width="10.90" height="2.22" fill="#e7f2fb"/><rect x="350.40" y="191.45" width="10.60" height="2.22" fill="#cde3f6"/><rect x="360.70" y="191.45" width="10.60" height="2.22" fill="#d1e5f7"/><rect x="371.00" y="191.45" width="10.60" height="2.22" fill="#cce3f6"/><rect x="298.90" y="193.37" width="10.40" height="2.22" fill="#175cac"/><rect x="309.00" y="193.37" width="10.40" height="2.22" fill="#104792"/><rect x="319.10" y="193.37" width="10.40" height="2.22" fill="#1455a3"/><rect x="329.20" y="193.37" width="10.90" height="2.22" fill="#94c3e9"/><rect x="339.80" y="193.37" width="10.90" height="2.22" fill="#c5dff4"/><rect x="350.40" y="193.37" width="10.60" height="2.22" fill="#93c2e9"/><rect x="360.70" y="193.37" width="10.60" height="2.22" fill="#61a4d9"/><rect x="371.00" y="193.37" width="10.60" height="2.22" fill="#6aa9dc"/><rect x="298.90" y="195.29" width="10.40" height="2.22" fill="#2772bd"/><rect x="309.00" y="195.29" width="10.40" height="2.22" fill="#2d79c3"/><rect x="319.10" y="195.29" width="10.40" height="2.22" fill="#2874be"/><rect x="329.20" y="195.29" width="10.90" height="2.22" fill="#add1ef"/><rect x="339.80" y="195.29" width="10.90" height="2.22" fill="#cde3f6"/><rect x="350.40" y="195.29" width="10.60" height="2.22" fill="#97c4ea"/><rect x="360.70" y="195.29" width="10.60" height="2.22" fill="#9dc8ec"/><rect x="371.00" y="195.29" width="10.60" height="2.22" fill="#8ebfe7"/><rect x="298.90" y="197.21" width="10.40" height="2.22" fill="#2f7bc4"/><rect x="309.00" y="197.21" width="10.40" height="2.22" fill="#3f89cb"/><rect x="319.10" y="197.21" width="10.40" height="2.22" fill="#4f97d2"/><rect x="329.20" y="197.21" width="10.90" height="2.22" fill="#cae2f5"/><rect x="339.80" y="197.21" width="10.90" height="2.22" fill="#deecf9"/><rect x="350.40" y="197.21" width="10.60" height="2.22" fill="#b3d5f0"/><rect x="360.70" y="197.21" width="10.60" height="2.22" fill="#a8ceee"/><rect x="371.00" y="197.21" width="10.60" height="2.22" fill="#c3def4"/><rect x="298.90" y="199.13" width="10.40" height="2.22" fill="#2b78c1"/><rect x="309.00" y="199.13" width="10.40" height="2.22" fill="#428ccd"/><rect x="319.10" y="199.13" width="10.40" height="2.22" fill="#2671bc"/><rect x="329.20" y="199.13" width="10.90" height="2.22" fill="#a1caec"/><rect x="339.80" y="199.13" width="10.90" height="2.22" fill="#d1e5f7"/><rect x="350.40" y="199.13" width="10.60" height="2.22" fill="#afd2f0"/><rect x="360.70" y="199.13" width="10.60" height="2.22" fill="#aacfee"/><rect x="371.00" y="199.13" width="10.60" height="2.22" fill="#a3cbed"/><rect x="298.90" y="201.05" width="10.40" height="2.22" fill="#114a96"/><rect x="309.00" y="201.05" width="10.40" height="2.22" fill="#0e3e88"/><rect x="319.10" y="201.05" width="10.40" height="2.22" fill="#124c98"/><rect x="329.20" y="201.05" width="10.90" height="2.22" fill="#5ba1d7"/><rect x="339.80" y="201.05" width="10.90" height="2.22" fill="#b7d7f1"/><rect x="350.40" y="201.05" width="10.60" height="2.22" fill="#539ad4"/><rect x="360.70" y="201.05" width="10.60" height="2.22" fill="#438dcd"/><rect x="371.00" y="201.05" width="10.60" height="2.22" fill="#3a85c9"/><rect x="298.90" y="202.97" width="10.40" height="2.22" fill="#2d7ac3"/><rect x="309.00" y="202.97" width="10.40" height="2.22" fill="#2771bc"/><rect x="319.10" y="202.97" width="10.40" height="2.22" fill="#2671bc"/><rect x="329.20" y="202.97" width="10.90" height="2.22" fill="#b1d4f0"/><rect x="339.80" y="202.97" width="10.90" height="2.22" fill="#cee4f6"/><rect x="350.40" y="202.97" width="10.60" height="2.22" fill="#9dc8ec"/><rect x="360.70" y="202.97" width="10.60" height="2.22" fill="#90c0e8"/><rect x="371.00" y="202.97" width="10.60" height="2.22" fill="#99c6eb"/><rect x="298.90" y="204.89" width="10.40" height="2.22" fill="#2d7ac3"/><rect x="309.00" y="204.89" width="10.40" height="2.22" fill="#2b77c1"/><rect x="319.10" y="204.89" width="10.40" height="2.22" fill="#3883c8"/><rect x="329.20" y="204.89" width="10.90" height="2.22" fill="#c7e0f5"/><rect x="339.80" y="204.89" width="10.90" height="2.22" fill="#e6f1fb"/><rect x="350.40" y="204.89" width="10.60" height="2.22" fill="#a9cfee"/><rect x="360.70" y="204.89" width="10.60" height="2.22" fill="#abd0ef"/><rect x="371.00" y="204.89" width="10.60" height="2.22" fill="#bcdaf2"/><rect x="298.90" y="206.82" width="10.40" height="2.22" fill="#3580c6"/><rect x="309.00" y="206.82" width="10.40" height="2.22" fill="#3480c6"/><rect x="319.10" y="206.82" width="10.40" height="2.22" fill="#2670bb"/><rect x="329.20" y="206.82" width="10.90" height="2.22" fill="#d7e9f8"/><rect x="339.80" y="206.82" width="10.90" height="2.22" fill="#edf5fc"/><rect x="350.40" y="206.82" width="10.60" height="2.22" fill="#e3effa"/><rect x="360.70" y="206.82" width="10.60" height="2.22" fill="#c9e1f5"/><rect x="371.00" y="206.82" width="10.60" height="2.22" fill="#d2e6f7"/><rect x="298.90" y="208.74" width="10.40" height="2.22" fill="#68a8db"/><rect x="309.00" y="208.74" width="10.40" height="2.22" fill="#2e7bc3"/><rect x="319.10" y="208.74" width="10.40" height="2.22" fill="#4891cf"/><rect x="329.20" y="208.74" width="10.90" height="2.22" fill="#d6e8f8"/><rect x="339.80" y="208.74" width="10.90" height="2.22" fill="#ebf4fc"/><rect x="350.40" y="208.74" width="10.60" height="2.22" fill="#e3effa"/><rect x="360.70" y="208.74" width="10.60" height="2.22" fill="#d6e8f8"/><rect x="371.00" y="208.74" width="10.60" height="2.22" fill="#e0edfa"/><rect x="298.90" y="210.66" width="10.40" height="2.22" fill="#2a75bf"/><rect x="309.00" y="210.66" width="10.40" height="2.22" fill="#1e66b3"/><rect x="319.10" y="210.66" width="10.40" height="2.22" fill="#1c62b1"/><rect x="329.20" y="210.66" width="10.90" height="2.22" fill="#d9eaf8"/><rect x="339.80" y="210.66" width="10.90" height="2.22" fill="#ecf5fc"/><rect x="350.40" y="210.66" width="10.60" height="2.22" fill="#c5dff4"/><rect x="360.70" y="210.66" width="10.60" height="2.22" fill="#c6dff5"/><rect x="371.00" y="210.66" width="10.60" height="2.22" fill="#d3e6f7"/><rect x="298.90" y="212.58" width="10.40" height="2.22" fill="#4b94d0"/><rect x="309.00" y="212.58" width="10.40" height="2.22" fill="#468fce"/><rect x="319.10" y="212.58" width="10.40" height="2.22" fill="#307cc4"/><rect x="329.20" y="212.58" width="10.90" height="2.22" fill="#d1e5f7"/><rect x="339.80" y="212.58" width="10.90" height="2.22" fill="#dfedfa"/><rect x="350.40" y="212.58" width="10.60" height="2.22" fill="#d0e5f7"/><rect x="360.70" y="212.58" width="10.60" height="2.22" fill="#d1e5f7"/><rect x="371.00" y="212.58" width="10.60" height="2.22" fill="#d6e8f8"/><rect x="298.90" y="214.50" width="10.40" height="2.22" fill="#438dcd"/><rect x="309.00" y="214.50" width="10.40" height="2.22" fill="#2a76c0"/><rect x="319.10" y="214.50" width="10.40" height="2.22" fill="#2771bc"/><rect x="329.20" y="214.50" width="10.90" height="2.22" fill="#cee4f6"/><rect x="339.80" y="214.50" width="10.90" height="2.22" fill="#e2eefa"/><rect x="350.40" y="214.50" width="10.60" height="2.22" fill="#cce3f6"/><rect x="360.70" y="214.50" width="10.60" height="2.22" fill="#d3e6f7"/><rect x="371.00" y="214.50" width="10.60" height="2.22" fill="#cde3f6"/><rect x="298.90" y="216.42" width="10.40" height="2.22" fill="#4a92d0"/><rect x="309.00" y="216.42" width="10.40" height="2.22" fill="#4790cf"/><rect x="319.10" y="216.42" width="10.40" height="2.22" fill="#3782c7"/><rect x="329.20" y="216.42" width="10.90" height="2.22" fill="#d4e7f7"/><rect x="339.80" y="216.42" width="10.90" height="2.22" fill="#eaf3fc"/><rect x="350.40" y="216.42" width="10.60" height="2.22" fill="#c5dff4"/><rect x="360.70" y="216.42" width="10.60" height="2.22" fill="#cee4f6"/><rect x="371.00" y="216.42" width="10.60" height="2.22" fill="#cbe2f6"/><rect x="298.90" y="218.34" width="10.40" height="2.22" fill="#2974be"/><rect x="309.00" y="218.34" width="10.40" height="2.22" fill="#1a60ae"/><rect x="319.10" y="218.34" width="10.40" height="2.22" fill="#226ab7"/><rect x="329.20" y="218.34" width="10.90" height="2.22" fill="#a6cdee"/><rect x="339.80" y="218.34" width="10.90" height="2.22" fill="#d2e6f7"/><rect x="350.40" y="218.34" width="10.60" height="2.22" fill="#97c4ea"/><rect x="360.70" y="218.34" width="10.60" height="2.22" fill="#99c6eb"/><rect x="371.00" y="218.34" width="10.60" height="2.22" fill="#b7d7f1"/><rect x="298.90" y="220.26" width="10.40" height="2.22" fill="#2974be"/><rect x="309.00" y="220.26" width="10.40" height="2.22" fill="#2771bc"/><rect x="319.10" y="220.26" width="10.40" height="2.22" fill="#2069b5"/><rect x="329.20" y="220.26" width="10.90" height="2.22" fill="#b3d5f0"/><rect x="339.80" y="220.26" width="10.90" height="2.22" fill="#d2e6f7"/><rect x="350.40" y="220.26" width="10.60" height="2.22" fill="#bedbf3"/><rect x="360.70" y="220.26" width="10.60" height="2.22" fill="#b3d5f0"/><rect x="371.00" y="220.26" width="10.60" height="2.22" fill="#c5dff4"/><rect x="298.90" y="222.18" width="10.40" height="2.22" fill="#3a85c9"/><rect x="309.00" y="222.18" width="10.40" height="2.22" fill="#2e7bc4"/><rect x="319.10" y="222.18" width="10.40" height="2.22" fill="#2f7bc4"/><rect x="329.20" y="222.18" width="10.90" height="2.22" fill="#afd2ef"/><rect x="339.80" y="222.18" width="10.90" height="2.22" fill="#dcebf9"/><rect x="350.40" y="222.18" width="10.60" height="2.22" fill="#b1d4f0"/><rect x="360.70" y="222.18" width="10.60" height="2.22" fill="#b1d3f0"/><rect x="371.00" y="222.18" width="10.60" height="2.22" fill="#96c4ea"/><rect x="298.90" y="224.11" width="10.40" height="2.22" fill="#1f67b4"/><rect x="309.00" y="224.11" width="10.40" height="2.22" fill="#2068b5"/><rect x="319.10" y="224.11" width="10.40" height="2.22" fill="#1f67b4"/><rect x="329.20" y="224.11" width="10.90" height="2.22" fill="#aacfee"/><rect x="339.80" y="224.11" width="10.90" height="2.22" fill="#d0e5f7"/><rect x="350.40" y="224.11" width="10.60" height="2.22" fill="#a3cbed"/><rect x="360.70" y="224.11" width="10.60" height="2.22" fill="#9cc8eb"/><rect x="371.00" y="224.11" width="10.60" height="2.22" fill="#7fb6e3"/><rect x="298.90" y="226.03" width="10.40" height="2.22" fill="#2974be"/><rect x="309.00" y="226.03" width="10.40" height="2.22" fill="#2772bd"/><rect x="319.10" y="226.03" width="10.40" height="2.22" fill="#2670bb"/><rect x="329.20" y="226.03" width="10.90" height="2.22" fill="#b8d7f1"/><rect x="339.80" y="226.03" width="10.90" height="2.22" fill="#d2e6f7"/><rect x="350.40" y="226.03" width="10.60" height="2.22" fill="#9fc9ec"/><rect x="360.70" y="226.03" width="10.60" height="2.22" fill="#a9cfee"/><rect x="371.00" y="226.03" width="10.60" height="2.22" fill="#aacfee"/><rect x="298.90" y="227.95" width="10.40" height="2.22" fill="#408acc"/><rect x="309.00" y="227.95" width="10.40" height="2.22" fill="#66a7db"/><rect x="319.10" y="227.95" width="10.40" height="2.22" fill="#4d95d1"/><rect x="329.20" y="227.95" width="10.90" height="2.22" fill="#e1eefa"/><rect x="339.80" y="227.95" width="10.90" height="2.22" fill="#eff6fd"/><rect x="350.40" y="227.95" width="10.60" height="2.22" fill="#daeaf9"/><rect x="360.70" y="227.95" width="10.60" height="2.22" fill="#d3e6f7"/><rect x="371.00" y="227.95" width="10.60" height="2.22" fill="#daeaf9"/><rect x="298.90" y="229.87" width="10.40" height="2.22" fill="#3681c7"/><rect x="309.00" y="229.87" width="10.40" height="2.22" fill="#2c78c2"/><rect x="319.10" y="229.87" width="10.40" height="2.22" fill="#3984c8"/><rect x="329.20" y="229.87" width="10.90" height="2.22" fill="#d1e6f7"/><rect x="339.80" y="229.87" width="10.90" height="2.22" fill="#e7f1fb"/><rect x="350.40" y="229.87" width="10.60" height="2.22" fill="#cbe2f6"/><rect x="360.70" y="229.87" width="10.60" height="2.22" fill="#cde3f6"/><rect x="371.00" y="229.87" width="10.60" height="2.22" fill="#b8d8f2"/><rect x="298.90" y="231.79" width="10.40" height="2.22" fill="#236cb8"/><rect x="309.00" y="231.79" width="10.40" height="2.22" fill="#2f7cc4"/><rect x="319.10" y="231.79" width="10.40" height="2.22" fill="#2771bc"/><rect x="329.20" y="231.79" width="10.90" height="2.22" fill="#b4d5f1"/><rect x="339.80" y="231.79" width="10.90" height="2.22" fill="#e1eefa"/><rect x="350.40" y="231.79" width="10.60" height="2.22" fill="#bddbf3"/><rect x="360.70" y="231.79" width="10.60" height="2.22" fill="#b7d7f1"/><rect x="371.00" y="231.79" width="10.60" height="2.22" fill="#a4cced"/><rect x="298.90" y="233.71" width="10.40" height="2.22" fill="#1a5fae"/><rect x="309.00" y="233.71" width="10.40" height="2.22" fill="#216ab6"/><rect x="319.10" y="233.71" width="10.40" height="2.22" fill="#216ab6"/><rect x="329.20" y="233.71" width="10.90" height="2.22" fill="#bbdaf2"/><rect x="339.80" y="233.71" width="10.90" height="2.22" fill="#d7e9f8"/><rect x="350.40" y="233.71" width="10.60" height="2.22" fill="#bad9f2"/><rect x="360.70" y="233.71" width="10.60" height="2.22" fill="#b2d4f0"/><rect x="371.00" y="233.71" width="10.60" height="2.22" fill="#b4d6f1"/><rect x="298.90" y="235.63" width="10.40" height="2.22" fill="#1b61af"/><rect x="309.00" y="235.63" width="10.40" height="2.22" fill="#2b78c1"/><rect x="319.10" y="235.63" width="10.40" height="2.22" fill="#3984c8"/><rect x="329.20" y="235.63" width="10.90" height="2.22" fill="#90c0e8"/><rect x="339.80" y="235.63" width="10.90" height="2.22" fill="#c5dff4"/><rect x="350.40" y="235.63" width="10.60" height="2.22" fill="#5199d3"/><rect x="360.70" y="235.63" width="10.60" height="2.22" fill="#64a6da"/><rect x="371.00" y="235.63" width="10.60" height="2.22" fill="#77b1e0"/><rect x="298.90" y="237.55" width="10.40" height="2.22" fill="#2d7ac3"/><rect x="309.00" y="237.55" width="10.40" height="2.22" fill="#2772bc"/><rect x="319.10" y="237.55" width="10.40" height="2.22" fill="#2570bb"/><rect x="329.20" y="237.55" width="10.90" height="2.22" fill="#9fc9ec"/><rect x="339.80" y="237.55" width="10.90" height="2.22" fill="#c8e1f5"/><rect x="350.40" y="237.55" width="10.60" height="2.22" fill="#8dbee7"/><rect x="360.70" y="237.55" width="10.60" height="2.22" fill="#85bae5"/><rect x="371.00" y="237.55" width="10.60" height="2.22" fill="#90c1e8"/><rect x="298.90" y="239.47" width="10.40" height="2.22" fill="#4790cf"/><rect x="309.00" y="239.47" width="10.40" height="2.22" fill="#468fce"/><rect x="319.10" y="239.47" width="10.40" height="2.22" fill="#5da2d8"/><rect x="329.20" y="239.47" width="10.90" height="2.22" fill="#bbd9f2"/><rect x="339.80" y="239.47" width="10.90" height="2.22" fill="#d2e6f7"/><rect x="350.40" y="239.47" width="10.60" height="2.22" fill="#b9d8f2"/><rect x="360.70" y="239.47" width="10.60" height="2.22" fill="#a0caec"/><rect x="371.00" y="239.47" width="10.60" height="2.22" fill="#afd3f0"/><rect x="298.90" y="241.39" width="10.40" height="2.22" fill="#2a76c0"/><rect x="309.00" y="241.39" width="10.40" height="2.22" fill="#256fba"/><rect x="319.10" y="241.39" width="10.40" height="2.22" fill="#2e7bc3"/><rect x="329.20" y="241.39" width="10.90" height="2.22" fill="#a9cfee"/><rect x="339.80" y="241.39" width="10.90" height="2.22" fill="#daeaf9"/><rect x="350.40" y="241.39" width="10.60" height="2.22" fill="#b3d5f0"/><rect x="360.70" y="241.39" width="10.60" height="2.22" fill="#a2cbed"/><rect x="371.00" y="241.39" width="10.60" height="2.22" fill="#b4d6f1"/><rect x="298.90" y="243.32" width="10.40" height="2.22" fill="#317dc5"/><rect x="309.00" y="243.32" width="10.40" height="2.22" fill="#5299d4"/><rect x="319.10" y="243.32" width="10.40" height="2.22" fill="#3984c8"/><rect x="329.20" y="243.32" width="10.90" height="2.22" fill="#a6cdee"/><rect x="339.80" y="243.32" width="10.90" height="2.22" fill="#cee4f6"/><rect x="350.40" y="243.32" width="10.60" height="2.22" fill="#abd0ef"/><rect x="360.70" y="243.32" width="10.60" height="2.22" fill="#afd3f0"/><rect x="371.00" y="243.32" width="10.60" height="2.22" fill="#acd1ef"/><rect x="298.90" y="245.24" width="10.40" height="2.22" fill="#559cd5"/><rect x="309.00" y="245.24" width="10.40" height="2.22" fill="#559cd5"/><rect x="319.10" y="245.24" width="10.40" height="2.22" fill="#468fce"/><rect x="329.20" y="245.24" width="10.90" height="2.22" fill="#d7e9f8"/><rect x="339.80" y="245.24" width="10.90" height="2.22" fill="#edf5fc"/><rect x="350.40" y="245.24" width="10.60" height="2.22" fill="#cae2f5"/><rect x="360.70" y="245.24" width="10.60" height="2.22" fill="#d9eaf8"/><rect x="371.00" y="245.24" width="10.60" height="2.22" fill="#d5e7f8"/><rect x="298.90" y="247.16" width="10.40" height="2.22" fill="#448ecd"/><rect x="309.00" y="247.16" width="10.40" height="2.22" fill="#3c87ca"/><rect x="319.10" y="247.16" width="10.40" height="2.22" fill="#2772bd"/><rect x="329.20" y="247.16" width="10.90" height="2.22" fill="#cae2f5"/><rect x="339.80" y="247.16" width="10.90" height="2.22" fill="#dfedfa"/><rect x="350.40" y="247.16" width="10.60" height="2.22" fill="#b1d4f0"/><rect x="360.70" y="247.16" width="10.60" height="2.22" fill="#b5d6f1"/><rect x="371.00" y="247.16" width="10.60" height="2.22" fill="#b5d6f1"/><rect x="298.90" y="249.08" width="10.40" height="2.22" fill="#2b78c1"/><rect x="309.00" y="249.08" width="10.40" height="2.22" fill="#2670bb"/><rect x="319.10" y="249.08" width="10.40" height="2.22" fill="#246db9"/><rect x="329.20" y="249.08" width="10.90" height="2.22" fill="#c1ddf4"/><rect x="339.80" y="249.08" width="10.90" height="2.22" fill="#deecf9"/><rect x="350.40" y="249.08" width="10.60" height="2.22" fill="#c5dff4"/><rect x="360.70" y="249.08" width="10.60" height="2.22" fill="#c3def4"/><rect x="371.00" y="249.08" width="10.60" height="2.22" fill="#c5dff4"/><rect x="298.90" y="251.00" width="10.40" height="2.22" fill="#3480c6"/><rect x="309.00" y="251.00" width="10.40" height="2.22" fill="#3984c9"/><rect x="319.10" y="251.00" width="10.40" height="2.22" fill="#3a85c9"/><rect x="329.20" y="251.00" width="10.90" height="2.22" fill="#a2cbed"/><rect x="339.80" y="251.00" width="10.90" height="2.22" fill="#c7e0f5"/><rect x="350.40" y="251.00" width="10.60" height="2.22" fill="#90c0e8"/><rect x="360.70" y="251.00" width="10.60" height="2.22" fill="#92c2e9"/><rect x="371.00" y="251.00" width="10.60" height="2.22" fill="#92c2e9"/><rect x="298.90" y="252.92" width="10.40" height="2.22" fill="#438dcd"/><rect x="309.00" y="252.92" width="10.40" height="2.22" fill="#3a85c9"/><rect x="319.10" y="252.92" width="10.40" height="2.22" fill="#408acb"/><rect x="329.20" y="252.92" width="10.90" height="2.22" fill="#acd1ef"/><rect x="339.80" y="252.92" width="10.90" height="2.22" fill="#d6e8f8"/><rect x="350.40" y="252.92" width="10.60" height="2.22" fill="#a4cced"/><rect x="360.70" y="252.92" width="10.60" height="2.22" fill="#9fc9ec"/><rect x="371.00" y="252.92" width="10.60" height="2.22" fill="#95c3ea"/><rect x="298.90" y="254.84" width="10.40" height="2.22" fill="#438dcd"/><rect x="309.00" y="254.84" width="10.40" height="2.22" fill="#599fd7"/><rect x="319.10" y="254.84" width="10.40" height="2.22" fill="#4890cf"/><rect x="329.20" y="254.84" width="10.90" height="2.22" fill="#dbebf9"/><rect x="339.80" y="254.84" width="10.90" height="2.22" fill="#e8f2fb"/><rect x="350.40" y="254.84" width="10.60" height="2.22" fill="#e1eefa"/><rect x="360.70" y="254.84" width="10.60" height="2.22" fill="#cfe4f6"/><rect x="371.00" y="254.84" width="10.60" height="2.22" fill="#d8e9f8"/><rect x="298.90" y="256.76" width="10.40" height="2.22" fill="#4891cf"/><rect x="309.00" y="256.76" width="10.40" height="2.22" fill="#2b77c1"/><rect x="319.10" y="256.76" width="10.40" height="2.22" fill="#4b94d1"/><rect x="329.20" y="256.76" width="10.90" height="2.22" fill="#b1d4f0"/><rect x="339.80" y="256.76" width="10.90" height="2.22" fill="#cfe4f6"/><rect x="350.40" y="256.76" width="10.60" height="2.22" fill="#8bbde6"/><rect x="360.70" y="256.76" width="10.60" height="2.22" fill="#9fc9ec"/><rect x="371.00" y="256.76" width="10.60" height="2.22" fill="#9ac6eb"/><rect x="298.90" y="258.68" width="10.40" height="2.22" fill="#2c78c1"/><rect x="309.00" y="258.68" width="10.40" height="2.22" fill="#317dc5"/><rect x="319.10" y="258.68" width="10.40" height="2.22" fill="#3984c9"/><rect x="329.20" y="258.68" width="10.90" height="2.22" fill="#bad9f2"/><rect x="339.80" y="258.68" width="10.90" height="2.22" fill="#d6e8f8"/><rect x="350.40" y="258.68" width="10.60" height="2.22" fill="#b5d6f1"/><rect x="360.70" y="258.68" width="10.60" height="2.22" fill="#c0dcf3"/><rect x="371.00" y="258.68" width="10.60" height="2.22" fill="#c8e1f5"/><rect x="298.90" y="260.61" width="10.40" height="2.22" fill="#408acb"/><rect x="309.00" y="260.61" width="10.40" height="2.22" fill="#2d7ac3"/><rect x="319.10" y="260.61" width="10.40" height="2.22" fill="#3e88cb"/><rect x="329.20" y="260.61" width="10.90" height="2.22" fill="#b4d5f1"/><rect x="339.80" y="260.61" width="10.90" height="2.22" fill="#d2e6f7"/><rect x="350.40" y="260.61" width="10.60" height="2.22" fill="#a2cbed"/><rect x="360.70" y="260.61" width="10.60" height="2.22" fill="#a3cced"/><rect x="371.00" y="260.61" width="10.60" height="2.22" fill="#a4cced"/><rect x="298.90" y="262.53" width="10.40" height="2.22" fill="#5ea2d8"/><rect x="309.00" y="262.53" width="10.40" height="2.22" fill="#5ba0d7"/><rect x="319.10" y="262.53" width="10.40" height="2.22" fill="#559cd5"/><rect x="329.20" y="262.53" width="10.90" height="2.22" fill="#d2e6f7"/><rect x="339.80" y="262.53" width="10.90" height="2.22" fill="#e0edfa"/><rect x="350.40" y="262.53" width="10.60" height="2.22" fill="#e3effa"/><rect x="360.70" y="262.53" width="10.60" height="2.22" fill="#d0e5f7"/><rect x="371.00" y="262.53" width="10.60" height="2.22" fill="#d4e7f7"/><rect x="298.90" y="264.45" width="10.40" height="2.22" fill="#2068b5"/><rect x="309.00" y="264.45" width="10.40" height="2.22" fill="#1659a8"/><rect x="319.10" y="264.45" width="10.40" height="2.22" fill="#1a60ae"/><rect x="329.20" y="264.45" width="10.90" height="2.22" fill="#5fa3d9"/><rect x="339.80" y="264.45" width="10.90" height="2.22" fill="#b2d4f0"/><rect x="350.40" y="264.45" width="10.60" height="2.22" fill="#4a93d0"/><rect x="360.70" y="264.45" width="10.60" height="2.22" fill="#4b93d0"/><rect x="371.00" y="264.45" width="10.60" height="2.22" fill="#4a93d0"/><rect x="298.90" y="266.37" width="10.40" height="2.22" fill="#458fce"/><rect x="309.00" y="266.37" width="10.40" height="2.22" fill="#3f89cb"/><rect x="319.10" y="266.37" width="10.40" height="2.22" fill="#4b94d0"/><rect x="329.20" y="266.37" width="10.90" height="2.22" fill="#e3effa"/><rect x="339.80" y="266.37" width="10.90" height="2.22" fill="#eaf4fc"/><rect x="350.40" y="266.37" width="10.60" height="2.22" fill="#d9eaf8"/><rect x="360.70" y="266.37" width="10.60" height="2.22" fill="#deecf9"/><rect x="371.00" y="266.37" width="10.60" height="2.22" fill="#ddecf9"/><rect x="298.90" y="268.29" width="10.40" height="2.22" fill="#2570bb"/><rect x="309.00" y="268.29" width="10.40" height="2.22" fill="#2d79c3"/><rect x="319.10" y="268.29" width="10.40" height="2.22" fill="#2671bc"/><rect x="329.20" y="268.29" width="10.90" height="2.22" fill="#b6d7f1"/><rect x="339.80" y="268.29" width="10.90" height="2.22" fill="#d6e8f8"/><rect x="350.40" y="268.29" width="10.60" height="2.22" fill="#a8ceee"/><rect x="360.70" y="268.29" width="10.60" height="2.22" fill="#8bbde7"/><rect x="371.00" y="268.29" width="10.60" height="2.22" fill="#a3cbed"/><rect x="298.90" y="270.21" width="10.40" height="2.22" fill="#408acb"/><rect x="309.00" y="270.21" width="10.40" height="2.22" fill="#539ad4"/><rect x="319.10" y="270.21" width="10.40" height="2.22" fill="#3b86c9"/><rect x="329.20" y="270.21" width="10.90" height="2.22" fill="#a1caec"/><rect x="339.80" y="270.21" width="10.90" height="2.22" fill="#b5d6f1"/><rect x="350.40" y="270.21" width="10.60" height="2.22" fill="#90c1e8"/><rect x="360.70" y="270.21" width="10.60" height="2.22" fill="#87bbe5"/><rect x="371.00" y="270.21" width="10.60" height="2.22" fill="#96c4ea"/><rect x="298.90" y="272.13" width="10.40" height="2.22" fill="#3b86c9"/><rect x="309.00" y="272.13" width="10.40" height="2.22" fill="#3f89cb"/><rect x="319.10" y="272.13" width="10.40" height="2.22" fill="#418bcc"/><rect x="329.20" y="272.13" width="10.90" height="2.22" fill="#c4def4"/><rect x="339.80" y="272.13" width="10.90" height="2.22" fill="#daeaf9"/><rect x="350.40" y="272.13" width="10.60" height="2.22" fill="#c3def4"/><rect x="360.70" y="272.13" width="10.60" height="2.22" fill="#cae2f5"/><rect x="371.00" y="272.13" width="10.60" height="2.22" fill="#cbe2f6"/><rect x="298.90" y="274.05" width="10.40" height="2.22" fill="#3b86c9"/><rect x="309.00" y="274.05" width="10.40" height="2.22" fill="#3f89cb"/><rect x="319.10" y="274.05" width="10.40" height="2.22" fill="#3e88cb"/><rect x="329.20" y="274.05" width="10.90" height="2.22" fill="#95c3ea"/><rect x="339.80" y="274.05" width="10.90" height="2.22" fill="#c2ddf4"/><rect x="350.40" y="274.05" width="10.60" height="2.22" fill="#6dacdd"/><rect x="360.70" y="274.05" width="10.60" height="2.22" fill="#579dd6"/><rect x="371.00" y="274.05" width="10.60" height="2.22" fill="#6baadc"/><rect x="298.90" y="275.97" width="10.40" height="2.22" fill="#4992cf"/><rect x="309.00" y="275.97" width="10.40" height="2.22" fill="#4c94d1"/><rect x="319.10" y="275.97" width="10.40" height="2.22" fill="#599fd7"/><rect x="329.20" y="275.97" width="10.90" height="2.22" fill="#e1eefa"/><rect x="339.80" y="275.97" width="10.90" height="2.22" fill="#e9f3fc"/><rect x="350.40" y="275.97" width="10.60" height="2.22" fill="#d1e5f7"/><rect x="360.70" y="275.97" width="10.60" height="2.22" fill="#d4e7f7"/><rect x="371.00" y="275.97" width="10.60" height="2.22" fill="#d6e8f8"/><rect x="298.90" y="277.89" width="10.40" height="2.22" fill="#4790cf"/><rect x="309.00" y="277.89" width="10.40" height="2.22" fill="#2f7bc4"/><rect x="319.10" y="277.89" width="10.40" height="2.22" fill="#549bd4"/><rect x="329.20" y="277.89" width="10.90" height="2.22" fill="#c2ddf4"/><rect x="339.80" y="277.89" width="10.90" height="2.22" fill="#d0e5f7"/><rect x="350.40" y="277.89" width="10.60" height="2.22" fill="#b6d6f1"/><rect x="360.70" y="277.89" width="10.60" height="2.22" fill="#a4cced"/><rect x="371.00" y="277.89" width="10.60" height="2.22" fill="#b4d5f1"/><rect x="298.90" y="279.82" width="10.40" height="2.22" fill="#4b93d0"/><rect x="309.00" y="279.82" width="10.40" height="2.22" fill="#468fce"/><rect x="319.10" y="279.82" width="10.40" height="2.22" fill="#2873be"/><rect x="329.20" y="279.82" width="10.90" height="2.22" fill="#bad9f2"/><rect x="339.80" y="279.82" width="10.90" height="2.22" fill="#d4e7f7"/><rect x="350.40" y="279.82" width="10.60" height="2.22" fill="#aad0ef"/><rect x="360.70" y="279.82" width="10.60" height="2.22" fill="#aed2ef"/><rect x="371.00" y="279.82" width="10.60" height="2.22" fill="#aacfee"/><rect x="298.90" y="281.74" width="10.40" height="2.22" fill="#3c86c9"/><rect x="309.00" y="281.74" width="10.40" height="2.22" fill="#4b93d0"/><rect x="319.10" y="281.74" width="10.40" height="2.22" fill="#569cd5"/><rect x="329.20" y="281.74" width="10.90" height="2.22" fill="#c7e0f5"/><rect x="339.80" y="281.74" width="10.90" height="2.22" fill="#dfedfa"/><rect x="350.40" y="281.74" width="10.60" height="2.22" fill="#b7d7f1"/><rect x="360.70" y="281.74" width="10.60" height="2.22" fill="#c4dff4"/><rect x="371.00" y="281.74" width="10.60" height="2.22" fill="#c6e0f5"/><rect x="298.90" y="283.66" width="10.40" height="2.22" fill="#4992d0"/><rect x="309.00" y="283.66" width="10.40" height="2.22" fill="#4790cf"/><rect x="319.10" y="283.66" width="10.40" height="2.22" fill="#4991cf"/><rect x="329.20" y="283.66" width="10.90" height="2.22" fill="#a5cded"/><rect x="339.80" y="283.66" width="10.90" height="2.22" fill="#c6dff5"/><rect x="350.40" y="283.66" width="10.60" height="2.22" fill="#86bae5"/><rect x="360.70" y="283.66" width="10.60" height="2.22" fill="#aacfee"/><rect x="371.00" y="283.66" width="10.60" height="2.22" fill="#86bbe5"/><rect x="298.90" y="285.58" width="10.40" height="2.22" fill="#2a75bf"/><rect x="309.00" y="285.58" width="10.40" height="2.22" fill="#438ccd"/><rect x="319.10" y="285.58" width="10.40" height="2.22" fill="#2c79c2"/><rect x="329.20" y="285.58" width="10.90" height="2.22" fill="#b9d8f2"/><rect x="339.80" y="285.58" width="10.90" height="2.22" fill="#dfedfa"/><rect x="350.40" y="285.58" width="10.60" height="2.22" fill="#b2d4f0"/><rect x="360.70" y="285.58" width="10.60" height="2.22" fill="#b0d3f0"/><rect x="371.00" y="285.58" width="10.60" height="2.22" fill="#b9d8f2"/><rect x="298.90" y="287.50" width="10.40" height="2.22" fill="#83b9e4"/><rect x="309.00" y="287.50" width="10.40" height="2.22" fill="#8ebfe7"/><rect x="319.10" y="287.50" width="10.40" height="2.22" fill="#6baadc"/><rect x="329.20" y="287.50" width="10.90" height="2.22" fill="#e6f1fb"/><rect x="339.80" y="287.50" width="10.90" height="2.22" fill="#f1f8fd"/><rect x="350.40" y="287.50" width="10.60" height="2.22" fill="#e7f2fb"/><rect x="360.70" y="287.50" width="10.60" height="2.22" fill="#e9f3fc"/><rect x="371.00" y="287.50" width="10.60" height="2.22" fill="#e9f3fc"/><rect x="298.90" y="289.42" width="10.40" height="2.22" fill="#458ece"/><rect x="309.00" y="289.42" width="10.40" height="2.22" fill="#408acc"/><rect x="319.10" y="289.42" width="10.40" height="2.22" fill="#4f97d2"/><rect x="329.20" y="289.42" width="10.90" height="2.22" fill="#afd2f0"/><rect x="339.80" y="289.42" width="10.90" height="2.22" fill="#d6e8f8"/><rect x="350.40" y="289.42" width="10.60" height="2.22" fill="#a5cced"/><rect x="360.70" y="289.42" width="10.60" height="2.22" fill="#b0d3f0"/><rect x="371.00" y="289.42" width="10.60" height="2.22" fill="#acd1ef"/><rect x="298.90" y="291.34" width="10.40" height="2.22" fill="#2772bd"/><rect x="309.00" y="291.34" width="10.40" height="2.22" fill="#3d88ca"/><rect x="319.10" y="291.34" width="10.40" height="2.22" fill="#3e88ca"/><rect x="329.20" y="291.34" width="10.90" height="2.22" fill="#cee4f6"/><rect x="339.80" y="291.34" width="10.90" height="2.22" fill="#d4e7f7"/><rect x="350.40" y="291.34" width="10.60" height="2.22" fill="#b6d6f1"/><rect x="360.70" y="291.34" width="10.60" height="2.22" fill="#c1ddf4"/><rect x="371.00" y="291.34" width="10.60" height="2.22" fill="#cde4f6"/><rect x="298.90" y="293.26" width="10.40" height="2.22" fill="#569dd5"/><rect x="309.00" y="293.26" width="10.40" height="2.22" fill="#5ea2d8"/><rect x="319.10" y="293.26" width="10.40" height="2.22" fill="#5ea2d8"/><rect x="329.20" y="293.26" width="10.90" height="2.22" fill="#c3def4"/><rect x="339.80" y="293.26" width="10.90" height="2.22" fill="#d5e8f8"/><rect x="350.40" y="293.26" width="10.60" height="2.22" fill="#b8d8f2"/><rect x="360.70" y="293.26" width="10.60" height="2.22" fill="#b1d4f0"/><rect x="371.00" y="293.26" width="10.60" height="2.22" fill="#93c2e9"/><rect x="298.90" y="295.18" width="10.40" height="2.22" fill="#2068b5"/><rect x="309.00" y="295.18" width="10.40" height="2.22" fill="#216ab6"/><rect x="319.10" y="295.18" width="10.40" height="2.22" fill="#226bb7"/><rect x="329.20" y="295.18" width="10.90" height="2.22" fill="#9ac6eb"/><rect x="339.80" y="295.18" width="10.90" height="2.22" fill="#cae2f5"/><rect x="350.40" y="295.18" width="10.60" height="2.22" fill="#97c5ea"/><rect x="360.70" y="295.18" width="10.60" height="2.22" fill="#97c5ea"/><rect x="371.00" y="295.18" width="10.60" height="2.22" fill="#94c3e9"/><rect x="298.90" y="297.11" width="10.40" height="2.22" fill="#317ec5"/><rect x="309.00" y="297.11" width="10.40" height="2.22" fill="#2a76c0"/><rect x="319.10" y="297.11" width="10.40" height="2.22" fill="#2c79c2"/><rect x="329.20" y="297.11" width="10.90" height="2.22" fill="#82b8e4"/><rect x="339.80" y="297.11" width="10.90" height="2.22" fill="#b7d7f1"/><rect x="350.40" y="297.11" width="10.60" height="2.22" fill="#65a6da"/><rect x="360.70" y="297.11" width="10.60" height="2.22" fill="#72aedf"/><rect x="371.00" y="297.11" width="10.60" height="2.22" fill="#8cbee7"/><rect x="298.90" y="299.03" width="10.40" height="2.22" fill="#337fc6"/><rect x="309.00" y="299.03" width="10.40" height="2.22" fill="#4790cf"/><rect x="319.10" y="299.03" width="10.40" height="2.22" fill="#3883c8"/><rect x="329.20" y="299.03" width="10.90" height="2.22" fill="#b2d4f0"/><rect x="339.80" y="299.03" width="10.90" height="2.22" fill="#d1e5f7"/><rect x="350.40" y="299.03" width="10.60" height="2.22" fill="#9ac7eb"/><rect x="360.70" y="299.03" width="10.60" height="2.22" fill="#9ac7eb"/><rect x="371.00" y="299.03" width="10.60" height="2.22" fill="#a7ceee"/><rect x="298.90" y="300.95" width="10.40" height="2.22" fill="#7bb4e1"/><rect x="309.00" y="300.95" width="10.40" height="2.22" fill="#66a7db"/><rect x="319.10" y="300.95" width="10.40" height="2.22" fill="#74b0df"/><rect x="329.20" y="300.95" width="10.90" height="2.22" fill="#f5fafe"/><rect x="339.80" y="300.95" width="10.90" height="2.22" fill="#f5fafe"/><rect x="350.40" y="300.95" width="10.60" height="2.22" fill="#f0f7fd"/><rect x="360.70" y="300.95" width="10.60" height="2.22" fill="#eaf4fc"/><rect x="371.00" y="300.95" width="10.60" height="2.22" fill="#edf5fc"/><rect x="298.90" y="302.87" width="10.40" height="2.22" fill="#4891cf"/><rect x="309.00" y="302.87" width="10.40" height="2.22" fill="#418bcc"/><rect x="319.10" y="302.87" width="10.40" height="2.22" fill="#408acb"/><rect x="329.20" y="302.87" width="10.90" height="2.22" fill="#b5d6f1"/><rect x="339.80" y="302.87" width="10.90" height="2.22" fill="#cde3f6"/><rect x="350.40" y="302.87" width="10.60" height="2.22" fill="#a5cded"/><rect x="360.70" y="302.87" width="10.60" height="2.22" fill="#9ec8ec"/><rect x="371.00" y="302.87" width="10.60" height="2.22" fill="#91c1e8"/><rect x="298.90" y="304.79" width="10.40" height="2.22" fill="#3581c7"/><rect x="309.00" y="304.79" width="10.40" height="2.22" fill="#448dcd"/><rect x="319.10" y="304.79" width="10.40" height="2.22" fill="#3480c6"/><rect x="329.20" y="304.79" width="10.90" height="2.22" fill="#9cc8eb"/><rect x="339.80" y="304.79" width="10.90" height="2.22" fill="#cce3f6"/><rect x="350.40" y="304.79" width="10.60" height="2.22" fill="#7eb6e3"/><rect x="360.70" y="304.79" width="10.60" height="2.22" fill="#95c3ea"/><rect x="371.00" y="304.79" width="10.60" height="2.22" fill="#8bbde6"/><rect x="298.90" y="306.71" width="10.40" height="2.22" fill="#3883c8"/><rect x="309.00" y="306.71" width="10.40" height="2.22" fill="#5da2d8"/><rect x="319.10" y="306.71" width="10.40" height="2.22" fill="#458ece"/><rect x="329.20" y="306.71" width="10.90" height="2.22" fill="#d5e8f8"/><rect x="339.80" y="306.71" width="10.90" height="2.22" fill="#e2effa"/><rect x="350.40" y="306.71" width="10.60" height="2.22" fill="#d4e7f7"/><rect x="360.70" y="306.71" width="10.60" height="2.22" fill="#d1e6f7"/><rect x="371.00" y="306.71" width="10.60" height="2.22" fill="#c8e1f5"/><rect x="298.90" y="308.63" width="10.40" height="2.22" fill="#216ab6"/><rect x="309.00" y="308.63" width="10.40" height="2.22" fill="#1c63b1"/><rect x="319.10" y="308.63" width="10.40" height="2.22" fill="#256eba"/><rect x="329.20" y="308.63" width="10.90" height="2.22" fill="#94c3e9"/><rect x="339.80" y="308.63" width="10.90" height="2.22" fill="#c7e0f5"/><rect x="350.40" y="308.63" width="10.60" height="2.22" fill="#7db5e2"/><rect x="360.70" y="308.63" width="10.60" height="2.22" fill="#80b7e3"/><rect x="371.00" y="308.63" width="10.60" height="2.22" fill="#75b0e0"/><rect x="298.90" y="310.55" width="10.40" height="2.22" fill="#3782c7"/><rect x="309.00" y="310.55" width="10.40" height="2.22" fill="#4b93d0"/><rect x="319.10" y="310.55" width="10.40" height="2.22" fill="#3682c7"/><rect x="329.20" y="310.55" width="10.90" height="2.22" fill="#b9d8f2"/><rect x="339.80" y="310.55" width="10.90" height="2.22" fill="#d7e8f8"/><rect x="350.40" y="310.55" width="10.60" height="2.22" fill="#c4dff4"/><rect x="360.70" y="310.55" width="10.60" height="2.22" fill="#b2d4f0"/><rect x="371.00" y="310.55" width="10.60" height="2.22" fill="#bddbf3"/><rect x="298.90" y="312.47" width="10.40" height="2.22" fill="#599fd7"/><rect x="309.00" y="312.47" width="10.40" height="2.22" fill="#6eacdd"/><rect x="319.10" y="312.47" width="10.40" height="2.22" fill="#69a9dc"/><rect x="329.20" y="312.47" width="10.90" height="2.22" fill="#d7e9f8"/><rect x="339.80" y="312.47" width="10.90" height="2.22" fill="#ebf4fc"/><rect x="350.40" y="312.47" width="10.60" height="2.22" fill="#d7e8f8"/><rect x="360.70" y="312.47" width="10.60" height="2.22" fill="#d1e5f7"/><rect x="371.00" y="312.47" width="10.60" height="2.22" fill="#d2e6f7"/><rect x="298.90" y="314.39" width="10.40" height="2.22" fill="#408acb"/><rect x="309.00" y="314.39" width="10.40" height="2.22" fill="#458fce"/><rect x="319.10" y="314.39" width="10.40" height="2.22" fill="#428ccc"/><rect x="329.20" y="314.39" width="10.90" height="2.22" fill="#d2e6f7"/><rect x="339.80" y="314.39" width="10.90" height="2.22" fill="#e9f3fc"/><rect x="350.40" y="314.39" width="10.60" height="2.22" fill="#dcecf9"/><rect x="360.70" y="314.39" width="10.60" height="2.22" fill="#d6e8f8"/><rect x="371.00" y="314.39" width="10.60" height="2.22" fill="#cce3f6"/><rect x="298.90" y="316.32" width="10.40" height="2.22" fill="#80b7e3"/><rect x="309.00" y="316.32" width="10.40" height="2.22" fill="#71aede"/><rect x="319.10" y="316.32" width="10.40" height="2.22" fill="#66a7db"/><rect x="329.20" y="316.32" width="10.90" height="2.22" fill="#dcecf9"/><rect x="339.80" y="316.32" width="10.90" height="2.22" fill="#ecf5fc"/><rect x="350.40" y="316.32" width="10.60" height="2.22" fill="#d9eaf8"/><rect x="360.70" y="316.32" width="10.60" height="2.22" fill="#dcebf9"/><rect x="371.00" y="316.32" width="10.60" height="2.22" fill="#e3effa"/><rect x="298.90" y="318.24" width="10.40" height="2.22" fill="#2c79c2"/><rect x="309.00" y="318.24" width="10.40" height="2.22" fill="#428bcc"/><rect x="319.10" y="318.24" width="10.40" height="2.22" fill="#2a76c0"/><rect x="329.20" y="318.24" width="10.90" height="2.22" fill="#bbd9f2"/><rect x="339.80" y="318.24" width="10.90" height="2.22" fill="#c6e0f5"/><rect x="350.40" y="318.24" width="10.60" height="2.22" fill="#b4d5f1"/><rect x="360.70" y="318.24" width="10.60" height="2.22" fill="#92c1e9"/><rect x="371.00" y="318.24" width="10.60" height="2.22" fill="#a5cded"/><rect x="298.90" y="320.16" width="10.40" height="2.22" fill="#71aede"/><rect x="309.00" y="320.16" width="10.40" height="2.22" fill="#81b7e3"/><rect x="319.10" y="320.16" width="10.40" height="2.22" fill="#7bb4e1"/><rect x="329.20" y="320.16" width="10.90" height="2.22" fill="#d7e9f8"/><rect x="339.80" y="320.16" width="10.90" height="2.22" fill="#e7f1fb"/><rect x="350.40" y="320.16" width="10.60" height="2.22" fill="#e9f3fc"/><rect x="360.70" y="320.16" width="10.60" height="2.22" fill="#daeaf9"/><rect x="371.00" y="320.16" width="10.60" height="2.22" fill="#d4e7f7"/><rect x="298.90" y="322.08" width="10.40" height="2.22" fill="#4b93d0"/><rect x="309.00" y="322.08" width="10.40" height="2.22" fill="#2a76c0"/><rect x="319.10" y="322.08" width="10.40" height="2.22" fill="#3a85c9"/><rect x="329.20" y="322.08" width="10.90" height="2.22" fill="#9dc8ec"/><rect x="339.80" y="322.08" width="10.90" height="2.22" fill="#bcdaf2"/><rect x="350.40" y="322.08" width="10.60" height="2.22" fill="#82b8e4"/><rect x="360.70" y="322.08" width="10.60" height="2.22" fill="#8ebfe7"/><rect x="371.00" y="322.08" width="10.60" height="2.22" fill="#97c5ea"/><rect x="298.90" y="324.00" width="10.40" height="2.22" fill="#468fce"/><rect x="309.00" y="324.00" width="10.40" height="2.22" fill="#3d88ca"/><rect x="319.10" y="324.00" width="10.40" height="2.22" fill="#2c79c2"/><rect x="329.20" y="324.00" width="10.90" height="2.22" fill="#98c5ea"/><rect x="339.80" y="324.00" width="10.90" height="2.22" fill="#bedbf3"/><rect x="350.40" y="324.00" width="10.60" height="2.22" fill="#7bb4e1"/><rect x="360.70" y="324.00" width="10.60" height="2.22" fill="#82b8e4"/><rect x="371.00" y="324.00" width="10.60" height="2.22" fill="#6eacdd"/><rect x="298.90" y="325.92" width="10.40" height="2.22" fill="#589ed6"/><rect x="309.00" y="325.92" width="10.40" height="2.22" fill="#539ad4"/><rect x="319.10" y="325.92" width="10.40" height="2.22" fill="#539ad4"/><rect x="329.20" y="325.92" width="10.90" height="2.22" fill="#c1ddf4"/><rect x="339.80" y="325.92" width="10.90" height="2.22" fill="#e0eefa"/><rect x="350.40" y="325.92" width="10.60" height="2.22" fill="#bcdaf3"/><rect x="360.70" y="325.92" width="10.60" height="2.22" fill="#c4def4"/><rect x="371.00" y="325.92" width="10.60" height="2.22" fill="#cee4f6"/><rect x="298.90" y="327.84" width="10.40" height="2.22" fill="#4890cf"/><rect x="309.00" y="327.84" width="10.40" height="2.22" fill="#569cd5"/><rect x="319.10" y="327.84" width="10.40" height="2.22" fill="#6dabdd"/><rect x="329.20" y="327.84" width="10.90" height="2.22" fill="#9ec8ec"/><rect x="339.80" y="327.84" width="10.90" height="2.22" fill="#c4def4"/><rect x="350.40" y="327.84" width="10.60" height="2.22" fill="#80b7e3"/><rect x="360.70" y="327.84" width="10.60" height="2.22" fill="#60a4d9"/><rect x="371.00" y="327.84" width="10.60" height="2.22" fill="#76b1e0"/><rect x="298.90" y="329.76" width="10.40" height="2.22" fill="#539ad4"/><rect x="309.00" y="329.76" width="10.40" height="2.22" fill="#4890cf"/><rect x="319.10" y="329.76" width="10.40" height="2.22" fill="#4a93d0"/><rect x="329.20" y="329.76" width="10.90" height="2.22" fill="#a7ceee"/><rect x="339.80" y="329.76" width="10.90" height="2.22" fill="#d9eaf8"/><rect x="350.40" y="329.76" width="10.60" height="2.22" fill="#c1ddf3"/><rect x="360.70" y="329.76" width="10.60" height="2.22" fill="#aed2ef"/><rect x="371.00" y="329.76" width="10.60" height="2.22" fill="#b9d8f2"/><rect x="298.90" y="331.68" width="10.40" height="2.22" fill="#73afdf"/><rect x="309.00" y="331.68" width="10.40" height="2.22" fill="#80b7e3"/><rect x="319.10" y="331.68" width="10.40" height="2.22" fill="#6cabdd"/><rect x="329.20" y="331.68" width="10.90" height="2.22" fill="#bbd9f2"/><rect x="339.80" y="331.68" width="10.90" height="2.22" fill="#d7e9f8"/><rect x="350.40" y="331.68" width="10.60" height="2.22" fill="#afd3f0"/><rect x="360.70" y="331.68" width="10.60" height="2.22" fill="#aed2ef"/><rect x="371.00" y="331.68" width="10.60" height="2.22" fill="#c0dcf3"/><rect x="298.90" y="333.61" width="10.40" height="2.22" fill="#89bce6"/><rect x="309.00" y="333.61" width="10.40" height="2.22" fill="#79b2e1"/><rect x="319.10" y="333.61" width="10.40" height="2.22" fill="#7bb4e2"/><rect x="329.20" y="333.61" width="10.90" height="2.22" fill="#ecf5fc"/><rect x="339.80" y="333.61" width="10.90" height="2.22" fill="#f0f7fd"/><rect x="350.40" y="333.61" width="10.60" height="2.22" fill="#f5fafe"/><rect x="360.70" y="333.61" width="10.60" height="2.22" fill="#f0f7fd"/><rect x="371.00" y="333.61" width="10.60" height="2.22" fill="#f5fafe"/><rect x="298.90" y="335.53" width="10.40" height="2.22" fill="#3e88cb"/><rect x="309.00" y="335.53" width="10.40" height="2.22" fill="#428ccc"/><rect x="319.10" y="335.53" width="10.40" height="2.22" fill="#4a92d0"/><rect x="329.20" y="335.53" width="10.90" height="2.22" fill="#a0caec"/><rect x="339.80" y="335.53" width="10.90" height="2.22" fill="#bad9f2"/><rect x="350.40" y="335.53" width="10.60" height="2.22" fill="#96c4ea"/><rect x="360.70" y="335.53" width="10.60" height="2.22" fill="#8abde6"/><rect x="371.00" y="335.53" width="10.60" height="2.22" fill="#99c6eb"/><rect x="298.90" y="337.45" width="10.40" height="2.22" fill="#458ece"/><rect x="309.00" y="337.45" width="10.40" height="2.22" fill="#4b94d1"/><rect x="319.10" y="337.45" width="10.40" height="2.22" fill="#458fce"/><rect x="329.20" y="337.45" width="10.90" height="2.22" fill="#c8e0f5"/><rect x="339.80" y="337.45" width="10.90" height="2.22" fill="#deedf9"/><rect x="350.40" y="337.45" width="10.60" height="2.22" fill="#c1ddf3"/><rect x="360.70" y="337.45" width="10.60" height="2.22" fill="#b2d4f0"/><rect x="371.00" y="337.45" width="10.60" height="2.22" fill="#add1ef"/><rect x="298.90" y="339.37" width="10.40" height="2.22" fill="#5098d3"/><rect x="309.00" y="339.37" width="10.40" height="2.22" fill="#549bd4"/><rect x="319.10" y="339.37" width="10.40" height="2.22" fill="#6baadc"/><rect x="329.20" y="339.37" width="10.90" height="2.22" fill="#afd2f0"/><rect x="339.80" y="339.37" width="10.90" height="2.22" fill="#d3e7f7"/><rect x="350.40" y="339.37" width="10.60" height="2.22" fill="#9ac7eb"/><rect x="360.70" y="339.37" width="10.60" height="2.22" fill="#9fc9ec"/><rect x="371.00" y="339.37" width="10.60" height="2.22" fill="#a0caec"/><rect x="298.90" y="341.29" width="10.40" height="2.22" fill="#8fc0e8"/><rect x="309.00" y="341.29" width="10.40" height="2.22" fill="#a2cbed"/><rect x="319.10" y="341.29" width="10.40" height="2.22" fill="#8bbee7"/><rect x="329.20" y="341.29" width="10.90" height="2.22" fill="#ddecf9"/><rect x="339.80" y="341.29" width="10.90" height="2.22" fill="#e9f3fc"/><rect x="350.40" y="341.29" width="10.60" height="2.22" fill="#e2eefa"/><rect x="360.70" y="341.29" width="10.60" height="2.22" fill="#e3effa"/><rect x="371.00" y="341.29" width="10.60" height="2.22" fill="#e0eefa"/><rect x="298.90" y="343.21" width="10.40" height="2.22" fill="#175bab"/><rect x="309.00" y="343.21" width="10.40" height="2.22" fill="#1b61b0"/><rect x="319.10" y="343.21" width="10.40" height="2.22" fill="#1b61b0"/><rect x="329.20" y="343.21" width="10.90" height="2.22" fill="#63a5da"/><rect x="339.80" y="343.21" width="10.90" height="2.22" fill="#a1caec"/><rect x="350.40" y="343.21" width="10.60" height="2.22" fill="#317dc5"/><rect x="360.70" y="343.21" width="10.60" height="2.22" fill="#408acb"/><rect x="371.00" y="343.21" width="10.60" height="2.22" fill="#317dc5"/><rect x="298.90" y="345.13" width="10.40" height="2.22" fill="#72aedf"/><rect x="309.00" y="345.13" width="10.40" height="2.22" fill="#6aa9dc"/><rect x="319.10" y="345.13" width="10.40" height="2.22" fill="#73afdf"/><rect x="329.20" y="345.13" width="10.90" height="2.22" fill="#c8e1f5"/><rect x="339.80" y="345.13" width="10.90" height="2.22" fill="#cfe4f6"/><rect x="350.40" y="345.13" width="10.60" height="2.22" fill="#c0dcf3"/><rect x="360.70" y="345.13" width="10.60" height="2.22" fill="#bddbf3"/><rect x="371.00" y="345.13" width="10.60" height="2.22" fill="#c4dff4"/><rect x="298.90" y="347.05" width="10.40" height="2.22" fill="#4a92d0"/><rect x="309.00" y="347.05" width="10.40" height="2.22" fill="#4992d0"/><rect x="319.10" y="347.05" width="10.40" height="2.22" fill="#559cd5"/><rect x="329.20" y="347.05" width="10.90" height="2.22" fill="#c5dff4"/><rect x="339.80" y="347.05" width="10.90" height="2.22" fill="#cfe4f6"/><rect x="350.40" y="347.05" width="10.60" height="2.22" fill="#a7ceee"/><rect x="360.70" y="347.05" width="10.60" height="2.22" fill="#aacfee"/><rect x="371.00" y="347.05" width="10.60" height="2.22" fill="#bddbf3"/><rect x="298.90" y="348.97" width="10.40" height="2.22" fill="#408acb"/><rect x="309.00" y="348.97" width="10.40" height="2.22" fill="#3e89cb"/><rect x="319.10" y="348.97" width="10.40" height="2.22" fill="#4790ce"/><rect x="329.20" y="348.97" width="10.90" height="2.22" fill="#a0caec"/><rect x="339.80" y="348.97" width="10.90" height="2.22" fill="#bddbf3"/><rect x="350.40" y="348.97" width="10.60" height="2.22" fill="#9ac6eb"/><rect x="360.70" y="348.97" width="10.60" height="2.22" fill="#a4cced"/><rect x="371.00" y="348.97" width="10.60" height="2.22" fill="#96c4ea"/><rect x="298.90" y="350.89" width="10.40" height="2.22" fill="#569dd5"/><rect x="309.00" y="350.89" width="10.40" height="2.22" fill="#4891cf"/><rect x="319.10" y="350.89" width="10.40" height="2.22" fill="#5098d3"/><rect x="329.20" y="350.89" width="10.90" height="2.22" fill="#cee4f6"/><rect x="339.80" y="350.89" width="10.90" height="2.22" fill="#e5f0fb"/><rect x="350.40" y="350.89" width="10.60" height="2.22" fill="#c6dff5"/><rect x="360.70" y="350.89" width="10.60" height="2.22" fill="#bedbf3"/><rect x="371.00" y="350.89" width="10.60" height="2.22" fill="#cde4f6"/><rect x="298.90" y="352.82" width="10.40" height="2.22" fill="#5da2d8"/><rect x="309.00" y="352.82" width="10.40" height="2.22" fill="#67a8db"/><rect x="319.10" y="352.82" width="10.40" height="2.22" fill="#72aede"/><rect x="329.20" y="352.82" width="10.90" height="2.22" fill="#cee4f6"/><rect x="339.80" y="352.82" width="10.90" height="2.22" fill="#e0edfa"/><rect x="350.40" y="352.82" width="10.60" height="2.22" fill="#d0e5f7"/><rect x="360.70" y="352.82" width="10.60" height="2.22" fill="#e0eefa"/><rect x="371.00" y="352.82" width="10.60" height="2.22" fill="#d5e7f8"/><rect x="298.90" y="354.74" width="10.40" height="2.22" fill="#3a85c9"/><rect x="309.00" y="354.74" width="10.40" height="2.22" fill="#3480c6"/><rect x="319.10" y="354.74" width="10.40" height="2.22" fill="#3984c8"/><rect x="329.20" y="354.74" width="10.90" height="2.22" fill="#c4dff4"/><rect x="339.80" y="354.74" width="10.90" height="2.22" fill="#d7e9f8"/><rect x="350.40" y="354.74" width="10.60" height="2.22" fill="#add1ef"/><rect x="360.70" y="354.74" width="10.60" height="2.22" fill="#acd1ef"/><rect x="371.00" y="354.74" width="10.60" height="2.22" fill="#aacfee"/><rect x="298.90" y="356.66" width="10.40" height="2.22" fill="#3a85c9"/><rect x="309.00" y="356.66" width="10.40" height="2.22" fill="#4a93d0"/><rect x="319.10" y="356.66" width="10.40" height="2.22" fill="#2d7ac3"/><rect x="329.20" y="356.66" width="10.90" height="2.22" fill="#83b9e4"/><rect x="339.80" y="356.66" width="10.90" height="2.22" fill="#c4def4"/><rect x="350.40" y="356.66" width="10.60" height="2.22" fill="#92c1e9"/><rect x="360.70" y="356.66" width="10.60" height="2.22" fill="#82b8e4"/><rect x="371.00" y="356.66" width="10.60" height="2.22" fill="#86bae5"/><rect x="298.90" y="358.58" width="10.40" height="2.22" fill="#89bce6"/><rect x="309.00" y="358.58" width="10.40" height="2.22" fill="#64a6da"/><rect x="319.10" y="358.58" width="10.40" height="2.22" fill="#84b9e4"/><rect x="329.20" y="358.58" width="10.90" height="2.22" fill="#d4e7f7"/><rect x="339.80" y="358.58" width="10.90" height="2.22" fill="#dcebf9"/><rect x="350.40" y="358.58" width="10.60" height="2.22" fill="#cce3f6"/><rect x="360.70" y="358.58" width="10.60" height="2.22" fill="#d0e5f7"/><rect x="371.00" y="358.58" width="10.60" height="2.22" fill="#cee4f6"/></g>
<g shape-rendering="crispEdges"><rect x="395.50" y="178.00" width="10.47" height="8.23" fill="#1c56a4"/><rect x="405.67" y="178.00" width="10.47" height="8.23" fill="#1c56a4"/><rect x="415.83" y="178.00" width="10.47" height="8.23" fill="#1c56a4"/><rect x="426.00" y="178.00" width="10.60" height="8.23" fill="#c8dcf0"/><rect x="436.30" y="178.00" width="10.60" height="8.23" fill="#e4eef8"/><rect x="446.60" y="178.00" width="10.37" height="8.23" fill="#a6c8e8"/><rect x="456.67" y="178.00" width="10.37" height="8.23" fill="#a6c8e8"/><rect x="466.73" y="178.00" width="10.37" height="8.23" fill="#6ea6d8"/><rect x="395.50" y="185.93" width="10.47" height="8.23" fill="#1c56a4"/><rect x="405.67" y="185.93" width="10.47" height="8.23" fill="#1c56a4"/><rect x="415.83" y="185.93" width="10.47" height="8.23" fill="#1c56a4"/><rect x="426.00" y="185.93" width="10.60" height="8.23" fill="#a6c8e8"/><rect x="436.30" y="185.93" width="10.60" height="8.23" fill="#e4eef8"/><rect x="446.60" y="185.93" width="10.37" height="8.23" fill="#a6c8e8"/><rect x="456.67" y="185.93" width="10.37" height="8.23" fill="#3e86c8"/><rect x="466.73" y="185.93" width="10.37" height="8.23" fill="#6ea6d8"/><rect x="395.50" y="193.87" width="10.47" height="8.23" fill="#2a6cb8"/><rect x="405.67" y="193.87" width="10.47" height="8.23" fill="#0e3c84"/><rect x="415.83" y="193.87" width="10.47" height="8.23" fill="#3e86c8"/><rect x="426.00" y="193.87" width="10.60" height="8.23" fill="#e4eef8"/><rect x="436.30" y="193.87" width="10.60" height="8.23" fill="#e4eef8"/><rect x="446.60" y="193.87" width="10.37" height="8.23" fill="#c8dcf0"/><rect x="456.67" y="193.87" width="10.37" height="8.23" fill="#a6c8e8"/><rect x="466.73" y="193.87" width="10.37" height="8.23" fill="#6ea6d8"/><rect x="395.50" y="201.80" width="10.47" height="8.23" fill="#2a6cb8"/><rect x="405.67" y="201.80" width="10.47" height="8.23" fill="#2a6cb8"/><rect x="415.83" y="201.80" width="10.47" height="8.23" fill="#3e86c8"/><rect x="426.00" y="201.80" width="10.60" height="8.23" fill="#e4eef8"/><rect x="436.30" y="201.80" width="10.60" height="8.23" fill="#e4eef8"/><rect x="446.60" y="201.80" width="10.37" height="8.23" fill="#f4f8fc"/><rect x="456.67" y="201.80" width="10.37" height="8.23" fill="#6ea6d8"/><rect x="466.73" y="201.80" width="10.37" height="8.23" fill="#6ea6d8"/><rect x="395.50" y="209.74" width="10.47" height="8.23" fill="#2a6cb8"/><rect x="405.67" y="209.74" width="10.47" height="8.23" fill="#2a6cb8"/><rect x="415.83" y="209.74" width="10.47" height="8.23" fill="#3e86c8"/><rect x="426.00" y="209.74" width="10.60" height="8.23" fill="#e4eef8"/><rect x="436.30" y="209.74" width="10.60" height="8.23" fill="#e4eef8"/><rect x="446.60" y="209.74" width="10.37" height="8.23" fill="#f4f8fc"/><rect x="456.67" y="209.74" width="10.37" height="8.23" fill="#6ea6d8"/><rect x="466.73" y="209.74" width="10.37" height="8.23" fill="#6ea6d8"/><rect x="395.50" y="217.67" width="10.47" height="8.23" fill="#2a6cb8"/><rect x="405.67" y="217.67" width="10.47" height="8.23" fill="#2a6cb8"/><rect x="415.83" y="217.67" width="10.47" height="8.23" fill="#3e86c8"/><rect x="426.00" y="217.67" width="10.60" height="8.23" fill="#e4eef8"/><rect x="436.30" y="217.67" width="10.60" height="8.23" fill="#e4eef8"/><rect x="446.60" y="217.67" width="10.37" height="8.23" fill="#f4f8fc"/><rect x="456.67" y="217.67" width="10.37" height="8.23" fill="#6ea6d8"/><rect x="466.73" y="217.67" width="10.37" height="8.23" fill="#6ea6d8"/><rect x="395.50" y="225.61" width="10.47" height="8.23" fill="#2a6cb8"/><rect x="405.67" y="225.61" width="10.47" height="8.23" fill="#2a6cb8"/><rect x="415.83" y="225.61" width="10.47" height="8.23" fill="#3e86c8"/><rect x="426.00" y="225.61" width="10.60" height="8.23" fill="#e4eef8"/><rect x="436.30" y="225.61" width="10.60" height="8.23" fill="#e4eef8"/><rect x="446.60" y="225.61" width="10.37" height="8.23" fill="#e4eef8"/><rect x="456.67" y="225.61" width="10.37" height="8.23" fill="#a6c8e8"/><rect x="466.73" y="225.61" width="10.37" height="8.23" fill="#6ea6d8"/><rect x="395.50" y="233.54" width="10.47" height="8.23" fill="#a6c8e8"/><rect x="405.67" y="233.54" width="10.47" height="8.23" fill="#a6c8e8"/><rect x="415.83" y="233.54" width="10.47" height="8.23" fill="#c8dcf0"/><rect x="426.00" y="233.54" width="10.60" height="8.23" fill="#f4f8fc"/><rect x="436.30" y="233.54" width="10.60" height="8.23" fill="#f4f8fc"/><rect x="446.60" y="233.54" width="10.37" height="8.23" fill="#f4f8fc"/><rect x="456.67" y="233.54" width="10.37" height="8.23" fill="#e4eef8"/><rect x="466.73" y="233.54" width="10.37" height="8.23" fill="#e4eef8"/><rect x="395.50" y="241.48" width="10.47" height="8.23" fill="#6ea6d8"/><rect x="405.67" y="241.48" width="10.47" height="8.23" fill="#3e86c8"/><rect x="415.83" y="241.48" width="10.47" height="8.23" fill="#3e86c8"/><rect x="426.00" y="241.48" width="10.60" height="8.23" fill="#c8dcf0"/><rect x="436.30" y="241.48" width="10.60" height="8.23" fill="#e4eef8"/><rect x="446.60" y="241.48" width="10.37" height="8.23" fill="#c8dcf0"/><rect x="456.67" y="241.48" width="10.37" height="8.23" fill="#c8dcf0"/><rect x="466.73" y="241.48" width="10.37" height="8.23" fill="#c8dcf0"/><rect x="395.50" y="249.41" width="10.47" height="8.23" fill="#0e3c84"/><rect x="405.67" y="249.41" width="10.47" height="8.23" fill="#0e3c84"/><rect x="415.83" y="249.41" width="10.47" height="8.23" fill="#1c56a4"/><rect x="426.00" y="249.41" width="10.60" height="8.23" fill="#3e86c8"/><rect x="436.30" y="249.41" width="10.60" height="8.23" fill="#2a6cb8"/><rect x="446.60" y="249.41" width="10.37" height="8.23" fill="#6ea6d8"/><rect x="456.67" y="249.41" width="10.37" height="8.23" fill="#2a6cb8"/><rect x="466.73" y="249.41" width="10.37" height="8.23" fill="#1c56a4"/><rect x="395.50" y="257.35" width="10.47" height="8.23" fill="#1c56a4"/><rect x="405.67" y="257.35" width="10.47" height="8.23" fill="#3e86c8"/><rect x="415.83" y="257.35" width="10.47" height="8.23" fill="#3e86c8"/><rect x="426.00" y="257.35" width="10.60" height="8.23" fill="#a6c8e8"/><rect x="436.30" y="257.35" width="10.60" height="8.23" fill="#e4eef8"/><rect x="446.60" y="257.35" width="10.37" height="8.23" fill="#a6c8e8"/><rect x="456.67" y="257.35" width="10.37" height="8.23" fill="#a6c8e8"/><rect x="466.73" y="257.35" width="10.37" height="8.23" fill="#c8dcf0"/><rect x="395.50" y="265.28" width="10.47" height="8.23" fill="#6ea6d8"/><rect x="405.67" y="265.28" width="10.47" height="8.23" fill="#6ea6d8"/><rect x="415.83" y="265.28" width="10.47" height="8.23" fill="#6ea6d8"/><rect x="426.00" y="265.28" width="10.60" height="8.23" fill="#e4eef8"/><rect x="436.30" y="265.28" width="10.60" height="8.23" fill="#e4eef8"/><rect x="446.60" y="265.28" width="10.37" height="8.23" fill="#e4eef8"/><rect x="456.67" y="265.28" width="10.37" height="8.23" fill="#c8dcf0"/><rect x="466.73" y="265.28" width="10.37" height="8.23" fill="#a6c8e8"/><rect x="395.50" y="273.22" width="10.47" height="8.23" fill="#0e3c84"/><rect x="405.67" y="273.22" width="10.47" height="8.23" fill="#0e3c84"/><rect x="415.83" y="273.22" width="10.47" height="8.23" fill="#1c56a4"/><rect x="426.00" y="273.22" width="10.60" height="8.23" fill="#3e86c8"/><rect x="436.30" y="273.22" width="10.60" height="8.23" fill="#3e86c8"/><rect x="446.60" y="273.22" width="10.37" height="8.23" fill="#3e86c8"/><rect x="456.67" y="273.22" width="10.37" height="8.23" fill="#1c56a4"/><rect x="466.73" y="273.22" width="10.37" height="8.23" fill="#2a6cb8"/><rect x="395.50" y="281.15" width="10.47" height="8.23" fill="#2a6cb8"/><rect x="405.67" y="281.15" width="10.47" height="8.23" fill="#3e86c8"/><rect x="415.83" y="281.15" width="10.47" height="8.23" fill="#3e86c8"/><rect x="426.00" y="281.15" width="10.60" height="8.23" fill="#a6c8e8"/><rect x="436.30" y="281.15" width="10.60" height="8.23" fill="#a6c8e8"/><rect x="446.60" y="281.15" width="10.37" height="8.23" fill="#a6c8e8"/><rect x="456.67" y="281.15" width="10.37" height="8.23" fill="#6ea6d8"/><rect x="466.73" y="281.15" width="10.37" height="8.23" fill="#6ea6d8"/><rect x="395.50" y="289.09" width="10.47" height="8.23" fill="#a6c8e8"/><rect x="405.67" y="289.09" width="10.47" height="8.23" fill="#a6c8e8"/><rect x="415.83" y="289.09" width="10.47" height="8.23" fill="#a6c8e8"/><rect x="426.00" y="289.09" width="10.60" height="8.23" fill="#e4eef8"/><rect x="436.30" y="289.09" width="10.60" height="8.23" fill="#e4eef8"/><rect x="446.60" y="289.09" width="10.37" height="8.23" fill="#e4eef8"/><rect x="456.67" y="289.09" width="10.37" height="8.23" fill="#c8dcf0"/><rect x="466.73" y="289.09" width="10.37" height="8.23" fill="#c8dcf0"/><rect x="395.50" y="297.02" width="10.47" height="8.23" fill="#6ea6d8"/><rect x="405.67" y="297.02" width="10.47" height="8.23" fill="#3e86c8"/><rect x="415.83" y="297.02" width="10.47" height="8.23" fill="#3e86c8"/><rect x="426.00" y="297.02" width="10.60" height="8.23" fill="#c8dcf0"/><rect x="436.30" y="297.02" width="10.60" height="8.23" fill="#c8dcf0"/><rect x="446.60" y="297.02" width="10.37" height="8.23" fill="#c8dcf0"/><rect x="456.67" y="297.02" width="10.37" height="8.23" fill="#6ea6d8"/><rect x="466.73" y="297.02" width="10.37" height="8.23" fill="#a6c8e8"/><rect x="395.50" y="304.96" width="10.47" height="8.23" fill="#1c56a4"/><rect x="405.67" y="304.96" width="10.47" height="8.23" fill="#1c56a4"/><rect x="415.83" y="304.96" width="10.47" height="8.23" fill="#6ea6d8"/><rect x="426.00" y="304.96" width="10.60" height="8.23" fill="#a6c8e8"/><rect x="436.30" y="304.96" width="10.60" height="8.23" fill="#a6c8e8"/><rect x="446.60" y="304.96" width="10.37" height="8.23" fill="#a6c8e8"/><rect x="456.67" y="304.96" width="10.37" height="8.23" fill="#6ea6d8"/><rect x="466.73" y="304.96" width="10.37" height="8.23" fill="#6ea6d8"/><rect x="395.50" y="312.89" width="10.47" height="8.23" fill="#a6c8e8"/><rect x="405.67" y="312.89" width="10.47" height="8.23" fill="#a6c8e8"/><rect x="415.83" y="312.89" width="10.47" height="8.23" fill="#a6c8e8"/><rect x="426.00" y="312.89" width="10.60" height="8.23" fill="#e4eef8"/><rect x="436.30" y="312.89" width="10.60" height="8.23" fill="#e4eef8"/><rect x="446.60" y="312.89" width="10.37" height="8.23" fill="#e4eef8"/><rect x="456.67" y="312.89" width="10.37" height="8.23" fill="#c8dcf0"/><rect x="466.73" y="312.89" width="10.37" height="8.23" fill="#c8dcf0"/><rect x="395.50" y="320.83" width="10.47" height="8.23" fill="#0e3c84"/><rect x="405.67" y="320.83" width="10.47" height="8.23" fill="#0e3c84"/><rect x="415.83" y="320.83" width="10.47" height="8.23" fill="#0e3c84"/><rect x="426.00" y="320.83" width="10.60" height="8.23" fill="#3e86c8"/><rect x="436.30" y="320.83" width="10.60" height="8.23" fill="#3e86c8"/><rect x="446.60" y="320.83" width="10.37" height="8.23" fill="#3e86c8"/><rect x="456.67" y="320.83" width="10.37" height="8.23" fill="#1c56a4"/><rect x="466.73" y="320.83" width="10.37" height="8.23" fill="#0e3c84"/><rect x="395.50" y="328.76" width="10.47" height="8.23" fill="#8cbae2"/><rect x="405.67" y="328.76" width="10.47" height="8.23" fill="#8cbae2"/><rect x="415.83" y="328.76" width="10.47" height="8.23" fill="#3e86c8"/><rect x="426.00" y="328.76" width="10.60" height="8.23" fill="#e4eef8"/><rect x="436.30" y="328.76" width="10.60" height="8.23" fill="#e4eef8"/><rect x="446.60" y="328.76" width="10.37" height="8.23" fill="#e4eef8"/><rect x="456.67" y="328.76" width="10.37" height="8.23" fill="#c8dcf0"/><rect x="466.73" y="328.76" width="10.37" height="8.23" fill="#a6c8e8"/><rect x="395.50" y="336.70" width="10.47" height="8.23" fill="#3e86c8"/><rect x="405.67" y="336.70" width="10.47" height="8.23" fill="#6ea6d8"/><rect x="415.83" y="336.70" width="10.47" height="8.23" fill="#6ea6d8"/><rect x="426.00" y="336.70" width="10.60" height="8.23" fill="#a6c8e8"/><rect x="436.30" y="336.70" width="10.60" height="8.23" fill="#c8dcf0"/><rect x="446.60" y="336.70" width="10.37" height="8.23" fill="#c8dcf0"/><rect x="456.67" y="336.70" width="10.37" height="8.23" fill="#c8dcf0"/><rect x="466.73" y="336.70" width="10.37" height="8.23" fill="#6ea6d8"/><rect x="395.50" y="344.63" width="10.47" height="8.23" fill="#2a6cb8"/><rect x="405.67" y="344.63" width="10.47" height="8.23" fill="#2a6cb8"/><rect x="415.83" y="344.63" width="10.47" height="8.23" fill="#2a6cb8"/><rect x="426.00" y="344.63" width="10.60" height="8.23" fill="#6ea6d8"/><rect x="436.30" y="344.63" width="10.60" height="8.23" fill="#6ea6d8"/><rect x="446.60" y="344.63" width="10.37" height="8.23" fill="#6ea6d8"/><rect x="456.67" y="344.63" width="10.37" height="8.23" fill="#2a6cb8"/><rect x="466.73" y="344.63" width="10.37" height="8.23" fill="#3e86c8"/><rect x="395.50" y="352.57" width="10.47" height="8.23" fill="#8cbae2"/><rect x="405.67" y="352.57" width="10.47" height="8.23" fill="#8cbae2"/><rect x="415.83" y="352.57" width="10.47" height="8.23" fill="#8cbae2"/><rect x="426.00" y="352.57" width="10.60" height="8.23" fill="#c8dcf0"/><rect x="436.30" y="352.57" width="10.60" height="8.23" fill="#e4eef8"/><rect x="446.60" y="352.57" width="10.37" height="8.23" fill="#e4eef8"/><rect x="456.67" y="352.57" width="10.37" height="8.23" fill="#c8dcf0"/><rect x="466.73" y="352.57" width="10.37" height="8.23" fill="#a6c8e8"/></g>
<text x="478.60" y="184.37" font-size="6.5">Scgb1a1</text>
<text x="478.60" y="192.30" font-size="6.5">Fabp2</text>
<text x="478.60" y="200.24" font-size="6.5">Spt1</text>
<text x="478.60" y="208.17" font-size="6.5">Mup2</text>
<text x="478.60" y="216.11" font-size="6.5">Mup7</text>
<text x="478.60" y="224.04" font-size="6.5">Mup11</text>
<text x="478.60" y="231.98" font-size="6.5">Mup19</text>
<text x="478.60" y="239.91" font-size="6.5">Mup1</text>
<text x="478.60" y="247.85" font-size="6.5">H19</text>
<text x="478.60" y="255.78" font-size="6.5">S100a8</text>
<text x="478.60" y="263.72" font-size="6.5">Clca3</text>
<text x="478.60" y="271.65" font-size="6.5">Mup4</text>
<text x="478.60" y="279.58" font-size="6.5">S100a9</text>
<text x="478.60" y="287.52" font-size="6.5">Gstm3</text>
<text x="478.60" y="295.45" font-size="6.5">Csn1s1</text>
<text x="478.60" y="303.39" font-size="6.5">Mt4</text>
<text x="478.60" y="311.32" font-size="6.5">Tff3</text>
<text x="478.60" y="319.26" font-size="6.5">Csn1s2a</text>
<text x="478.60" y="327.19" font-size="6.5">Pcp4</text>
<text x="478.60" y="335.13" font-size="6.5">Spp1</text>
<text x="478.60" y="343.06" font-size="6.5">Enpp2</text>
<text x="478.60" y="351.00" font-size="6.5">Fgg</text>
<text x="478.60" y="358.93" font-size="6.5">Mup20</text>
<text x="304.30" y="160.20" font-size="7.75">All TRAs (&lt;0.3, 12wk)</text>
<text x="396.70" y="159.60" font-size="7.75">Aire-dependent TRAs</text>
<path d="M299.40 176.4V172.9H328.70V176.4" fill="none" stroke="#333" stroke-width="1.0"/>
<path d="M329.70 176.4V172.9H349.90V176.4" fill="none" stroke="#333" stroke-width="1.0"/>
<path d="M350.90 176.4V172.9H380.80V176.4" fill="none" stroke="#333" stroke-width="1.0"/>
<text x="301.6" y="170.3" font-size="7.2" fill="#1a1a1a"><tspan font-style="italic">bd<tspan font-size="145%" dx="-0.1em" letter-spacing="-0.21em">→</tspan>bd</tspan></text>
<text x="330.5" y="170.3" font-size="7.2" fill="#1a1a1a"><tspan font-style="italic">b<tspan font-size="145%" dx="-0.1em" letter-spacing="-0.21em">→</tspan>bd</tspan></text>
<text x="351.9" y="170.3" font-size="7.2" fill="#1a1a1a"><tspan font-style="italic">b<tspan font-size="145%" dx="-0.1em" letter-spacing="-0.21em">→</tspan>bd</tspan> +Fgf7</text>
<path d="M396.00 176.4V172.9H425.50V176.4" fill="none" stroke="#333" stroke-width="1.0"/>
<path d="M426.50 176.4V172.9H446.10V176.4" fill="none" stroke="#333" stroke-width="1.0"/>
<path d="M447.10 176.4V172.9H476.30V176.4" fill="none" stroke="#333" stroke-width="1.0"/>
<text x="396.6" y="169.8" font-size="7.2" fill="#1a1a1a"><tspan font-style="italic">bd<tspan font-size="145%" dx="-0.1em" letter-spacing="-0.21em">→</tspan>bd</tspan></text>
<text x="427.8" y="169.8" font-size="7.2" fill="#1a1a1a"><tspan font-style="italic">b<tspan font-size="145%" dx="-0.1em" letter-spacing="-0.21em">→</tspan>bd</tspan></text>
<text x="448.4" y="169.8" font-size="7.2" fill="#1a1a1a"><tspan font-style="italic">b<tspan font-size="145%" dx="-0.1em" letter-spacing="-0.21em">→</tspan>bd</tspan> +Fgf7</text>
<text x="303.95" y="367.20" font-size="6.8" text-anchor="middle">10</text>
<text x="314.05" y="367.20" font-size="6.8" text-anchor="middle">12</text>
<text x="324.15" y="367.20" font-size="6.8" text-anchor="middle">15</text>
<text x="334.50" y="367.20" font-size="6.8" text-anchor="middle">10</text>
<text x="345.10" y="367.20" font-size="6.8" text-anchor="middle">12</text>
<text x="355.55" y="367.20" font-size="6.8" text-anchor="middle">10</text>
<text x="365.85" y="367.20" font-size="6.8" text-anchor="middle">12</text>
<text x="376.15" y="367.20" font-size="6.8" text-anchor="middle">15</text>
<line x1="329.20" y1="362.20" x2="329.20" y2="367.50" stroke="#222" stroke-width="0.7"/>
<line x1="350.40" y1="362.20" x2="350.40" y2="367.50" stroke="#222" stroke-width="0.7"/>
<text x="400.58" y="367.20" font-size="6.8" text-anchor="middle">10</text>
<text x="410.75" y="367.20" font-size="6.8" text-anchor="middle">12</text>
<text x="420.92" y="367.20" font-size="6.8" text-anchor="middle">15</text>
<text x="431.15" y="367.20" font-size="6.8" text-anchor="middle">10</text>
<text x="441.45" y="367.20" font-size="6.8" text-anchor="middle">12</text>
<text x="451.63" y="367.20" font-size="6.8" text-anchor="middle">10</text>
<text x="461.70" y="367.20" font-size="6.8" text-anchor="middle">12</text>
<text x="471.77" y="367.20" font-size="6.8" text-anchor="middle">15</text>
<line x1="426.00" y1="362.20" x2="426.00" y2="367.50" stroke="#222" stroke-width="0.7"/>
<line x1="446.60" y1="362.20" x2="446.60" y2="367.50" stroke="#222" stroke-width="0.7"/>
<text x="339.80" y="375.20" font-size="8" text-anchor="middle">age (wk)</text>
<text x="435.50" y="375.20" font-size="8" text-anchor="middle">age (wk)</text>
<defs><linearGradient id="cs" x1="0" x2="1"><stop offset="0" stop-color="#fff"/><stop offset="0.5" stop-color="#8ab8e0"/><stop offset="1" stop-color="#0e3c84"/></linearGradient></defs>
<rect x="496.2" y="151.7" width="18.7" height="13" fill="url(#cs)" stroke="#333" stroke-width="0.5"/>
<text x="505.50" y="171.60" font-size="5.2" text-anchor="middle">4 6 8 10</text>
</svg></body></html>
